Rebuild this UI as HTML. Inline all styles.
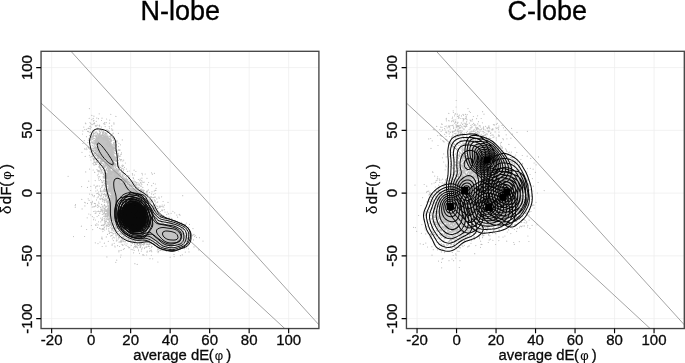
<!DOCTYPE html>
<html><head><meta charset="utf-8"><title>N-lobe / C-lobe</title>
<style>
html,body{margin:0;padding:0;background:#fff;}
svg{display:block;}
text{font-family:"Liberation Sans", Arial, Helvetica, sans-serif;fill:#0a0a0a;stroke:#0a0a0a;stroke-width:0.3px;}
.tk{font-size:15px;}
.ax{font-size:14.85px;}
.ph{font-size:13px;stroke-width:0.1px;}
.dl{stroke-width:0.1px;}
.ti{font-size:27px;fill:#000;stroke:#000;stroke-width:0.35px;}
</style></head><body>
<svg width="685" height="363" viewBox="0 0 685 363">
<defs><clipPath id="clip"><rect x="41.0" y="51.3" width="277.8" height="277.2"/></clipPath></defs>
<rect width="685" height="363" fill="#fff"/>
<g transform="translate(0.0,0)">
<path d="M51.65,51.3V328.6M91.15,51.3V328.6M130.65,51.3V328.6M170.15,51.3V328.6M209.65,51.3V328.6M249.15,51.3V328.6M288.65,51.3V328.6M41.0,318.63H318.9M41.0,255.87H318.9M41.0,193.10H318.9M41.0,130.33H318.9M41.0,67.57H318.9" stroke="#ececec" stroke-width="0.7" fill="none"/>
<g clip-path="url(#clip)">
<path d="M98 136 100 135.6 102 136.7 104 137.1 106 136.8 108 137.8 108.6 139 109 140.3 109.7 142 110.6 144 111.4 145 112.6 146 113.5 147 113.5 149 113.1 151 113 153 113.1 155 114 156.5 115 157.4 115.7 159 115 160.4 113 160.6 111.1 161 112 162 114 162.3 115 163.7 115.2 165 114.5 166 113 166.8 111 167.7 110.1 169 110.5 171 112 171.1 114 170.4 116 170.5 117.1 171 116.9 173 118 173.5 119.4 174 119 175.7 118.7 177 119.8 179 121 179.8 122.3 179 124 178.5 125.8 179 126.9 180 127 181.3 126 182.2 125.9 184 126.6 186 127.8 187 129 187.6 130 188.3 132 188.8 133.3 189 135 189.7 136.6 191 138 191.9 140 191.6 140.7 193 141 194.3 142 195.9 143 197.6 144 198.4 145.4 199 145.6 201 147 202.4 148 203.1 148.9 205 149 207 150 208.7 151.2 209 151.9 211 152 212.3 152.6 214 153.4 216 153.4 218 154 219.9 154.5 221 156 222.6 157.3 223 158.5 224 160 224.5 161.2 224 162.7 224 163.4 225 165 225.5 166.4 225 168 224.4 169.6 225 170.7 226 171.6 227 172.7 228 174 228.8 175.9 230 178 230.5 179.7 231 179.6 233 180.5 234 181.6 235 182.9 237 182 238.7 181 239.3 180 240.6 179.6 242 178.5 243 177 243.5 175 243.3 173.6 244 172.8 245 171.7 246 170.2 246 169 245.2 167 245.3 165 245.7 163.6 245 162.5 244 161 243.5 159 243.2 157.3 242 156.4 241 155 240.4 153 239.6 151.5 239 150 238.6 149 237.7 148 236.8 146.2 237 147 239 146 240 144 240.4 143.5 239 144 237.6 144 236.3 142.6 237 141.9 238 141 238.7 139 238.9 138 237.2 137 236.6 135.6 237 136 238.5 136.5 240 135 240.8 134.5 239 133 238.4 131 238.5 129.3 237 129 235.7 128 234.8 126 234.9 124 234.6 122.9 234 121.2 233 120.6 231 119.6 230 118.5 229 117.7 228 117 226.7 116.2 225 115.3 223 115 221.3 115.2 220 115 218.7 113 219.5 111.7 219 110.6 218 110 216.9 109 216.1 107.3 215 107.5 213 107 211 108 209.4 108.6 208 108.9 206 109.4 204 108.2 202 108.9 200 110 199.1 111.7 198 111.2 196 112 195.1 112 193.7 111 192.5 110 191.7 108.4 191 108.6 189 109.3 187 109.3 185 108.5 183 109 181.1 110 180.3 110.6 179 109 178.7 107.1 179 106 178.2 105.5 177 105.8 175 107 173.7 108.6 173 108.3 171 108.4 169 107.5 167 106 165.2 105.3 164 104.1 162 103 161.5 101.6 161 101 159 100.2 158 99 156.3 98 155 98.5 153 98 151.8 97 150.4 96.2 149 96.7 147 98 146.1 98.7 145 98 143.4 96 143.7 95.2 142 95.9 140 96.8 138 97.5 137.0ZM121 180.7 120 181.7 120.6 183 122 183.1 122 181.3Z" fill="#c3c3c3" stroke="#c3c3c3" stroke-width="0.8" fill-rule="evenodd"/><path d="M89.4 108.6h0m9.8 5.2h0m16.7 2.6h0m-5.1-2.1h0m-4.2 4.7h0m-4.6-.8h0m-3.5 .5h0m-1.7-.6h0m-2.9-1.9h0m-.7 2.2h0m-1.4-3h0m0 4.2h0m-2.6-1.3h0m-3.8 4.7h0m.4 .7h0m4.2-1.1h0m.7 1.1h0m1.2 .7h0m.4 .2h0m1.1-3.7h0m0 2.9h0m.6-3.5h0m0 3.2h0m.3 .2h0m.1-.9h0m.2 .4h0m.7 2.6h0m.7-.3h0m.3-4.2h0m.9 3.9h0m1.9 .5h0m.1 0h0m.1 0h0m.3-.6h0m1.9-4.6h0m2.3 3.1h0m.4 .4h0m.5-1.4h0m.2 1.6h0m1.4-1.6h0m3.1 .6h0m.3-3h0m2 5.7h0m2.2-3h0m.1 1.2h0m-1.2 6h0m-.7 .1h0m-.4-1.4h0m-2.2-.6h0m-.3 3.6h0m0-5.3h0m-.2 4.9h0m-.4-.5h0m-.5 .2h0m-.3-.8h0m-.9-.5h0m-1.1 .6h0m-.6 .1h0m0-3.9h0m-1.4 4.2h0m-.4 .7h0m-.4 .3h0m-.8-1h0m-.4-.4h0m-.3-3.4h0m-.4 3.6h0m0 .2h0m-.5-1.4h0m-.6 0h0m-.3-3.2h0m-.2 4.7h0m-.1-.4h0m0 1.1h0m-.2-1.2h0m-1.4-2.2h0m-.3 .7h0m-.9 0h0m-.5-2.6h0m-.1 5.6h0m-.2-5.9h0m-1 3.8h0m-.1-.3h0m-.7 1h0m-.1-.3h0m-.1 1.4h0m-.9-.1h0m-.2-1.2h0m-1.6-2.8h0m-.4-1.4h0m-.4 3h0m-.2-.7h0m-.2-2h0m-1.1 2h0m-.3 3.3h0m-.1-.1h0m-.3-3.3h0m-.6 3h0m-1.1-2h0m-1.7 .2h0m-.9-2.4h0m-1 3.9h0m-.3 3h0m4 2.7h0m3-1h0m.4-3.1h0m.3-.5h0m.6 0h0m.2 5h0m0 0h0m0-2.6h0m.1 3.3h0m.3-.9h0m.2-2.5h0m.1-.6h0m0 3.1h0m.2-1.3h0m0 1.7h0m.5-.9h0m.4 .4h0m.1-.2h0m.1 .7h0m.1-1.6h0m0-3h0m.2 4.1h0m.1-2.1h0m.1-.3h0m0-1h0m.1 0h0m.1 2.7h0m.1-.9h0m.1 .5h0m.1-.5h0m.2 .2h0m.2-2.1h0m.6-.2h0m.3 3.1h0m.2 .5h0m0-3.9h0m.4 3.7h0m0-1.6h0m.2 .7h0m.2 2.3h0m0 0h0m.1-.3h0m.1 0h0m.1-1.3h0m.1 .1h0m.1-4.2h0m.2 1.3h0m0 1.5h0m.3-.2h0m.2-1.5h0m0 .1h0m0 1.5h0m.3-.5h0m.3 1.4h0m.1-.5h0m.1 2h0m.2-1.2h0m.2-1.3h0m.1 3h0m.2-2h0m.1-2.2h0m.2-.3h0m0 3.4h0m.1-.2h0m.2-.6h0m.1-1.5h0m.1-.9h0m.2 3.5h0m0-1.4h0m0 .4h0m.1-1.3h0m.1-2.1h0m.2 4.1h0m.1-3.7h0m.3-1h0m.1 3.1h0m.6 .7h0m0 1.4h0m.1 .3h0m.3-2.4h0m0 2.7h0m.2-2h0m0 1.8h0m.2-3.3h0m0 1.1h0m0 .6h0m.2-.4h0m.1-3.2h0m0 .8h0m.2 1.2h0m0-.6h0m.1-1.3h0m.1 2.3h0m.3 0h0m.2 .9h0m.1-2.5h0m0 3.6h0m.1 .4h0m.1-4.4h0m.3 2.5h0m0-3h0m.2 5.6h0m0-2h0m.1-1.8h0m0 2.8h0m.1 .1h0m.3-.4h0m.1 .1h0m.2-2.2h0m.3-1.4h0m0 2.2h0m0-2.6h0m.2 .2h0m0 1h0m.1 2.3h0m.2 .1h0m.1-2.9h0m.1 3.5h0m.1 1h0m.4-1.2h0m.1-3.1h0m0 1.4h0m.2 .6h0m0-1.2h0m.1 1.2h0m.2 0h0m.2-3.1h0m0 3.8h0m.5 1.2h0m.1-.9h0m.2-.5h0m.1 1.6h0m.5 .2h0m.7-1.6h0m.2-2.8h0m.7 3.1h0m.1-1.3h0m.3 2.4h0m.3-.9h0m0-1.2h0m1.4 1.9h0m.1-2.7h0m.1 1.1h0m.3-2.4h0m.1-.3h0m0-.2h0m.2 4.7h0m.4-.9h0m4.7-3.5h0m3.9 6.6h0m-3.4 3.4h0m-1.9-1.5h0m-.1-1.1h0m-.5 .9h0m-.8 1.1h0m-.3-.2h0m-.6-.5h0m-.7-2.9h0m-.1 .2h0m0 3.6h0m0-2.8h0m-.1 3.3h0m-.1-3.1h0m-.2 2.6h0m-.3-4.7h0m-.3 0h0m-1 2.2h0m-.5 .3h0m-.1 3h0m0-2.4h0m-.1-1.6h0m-.3 1.2h0m-.1-2.7h0m0 4.5h0m-.1-2.5h0m0 .2h0m-.2 .4h0m0 2.9h0m0-2.1h0m-.1-3.1h0m-.1 4.7h0m-.1-3.9h0m-.3 .2h0m-.1 1.9h0m-.2 1.5h0m0 .2h0m0-4.8h0m-.1 .8h0m0 4.6h0m0-1.7h0m-.4-2.1h0m-.3 3.1h0m0 .1h0m-.1-4.8h0m-.1 3.9h0m-.1-1.6h0m-.3-2.2h0m-.2 0h0m0 3.9h0m-.2 .2h0m0-1.2h0m-.1-1.5h0m-.2 1.1h0m-.1-1.5h0m0 1h0m-.1 3.2h0m-.3-4.2h0m0-1.1h0m-.2 1h0m-.1 4.2h0m0-.2h0m-.2-2.8h0m-.2-2.2h0m-.4 .6h0m0 1.6h0m-.2-1.2h0m-.1 .3h0m-.2-.3h0m0-.8h0m-.1 .2h0m0 0h0m-.1 .8h0m-1.3 .5h0m0-.2h0m-.2-.2h0m0 .4h0m-.4-1.7h0m-.4 .4h0m-3.4-.7h0m-1 .6h0m-.1 4.8h0m-.1-1.6h0m0-.1h0m-.1-3.4h0m-.4-.2h0m-.1 4.2h0m-.2-2.4h0m-.1 2.1h0m0 .8h0m-.1-3.1h0m-.2-1.6h0m-.1 4.8h0m-.1-2.7h0m-.2-2.1h0m0 4.8h0m-.1-1.8h0m-.1 .1h0m0 2.3h0m-.2-4.7h0m-.3 2.1h0m0 1.6h0m-.1 1.1h0m0-1.9h0m-.2 2.2h0m-.1-4.4h0m0 .4h0m0 1.9h0m-.1 0h0m-.3 1.1h0m-.3-4.3h0m-.2 3.4h0m0-3.4h0m0 3.7h0m-.3-1.6h0m0 2.8h0m-.3-3h0m-.2 .1h0m-.1 3.2h0m0-1.9h0m-.2-3.3h0m-.3 .2h0m-.1 .2h0m-.1 3.3h0m-.1 1h0m-.1 .3h0m0 .1h0m-.1-.5h0m0-.2h0m-.3-.9h0m-.2-2.5h0m-.2 2.4h0m0-3.5h0m-.2 .8h0m-.1 2.5h0m-.1-2.7h0m-.4 3.2h0m-.4-1.7h0m-.2-.4h0m-.3-.7h0m-.1 3.7h0m-.7-4.4h0m-.6-.3h0m-.7 1.7h0m-.4 2.4h0m-3.6-2h0m-1.4 2.9h0m1.7 5.3h0m.5 .4h0m1.5-1.1h0m.3 1.5h0m1.2-2.5h0m.7 1.1h0m.2-.6h0m.8 1.6h0m.5-.5h0m.3 .7h0m.2-.3h0m.3-.3h0m1.3-3.1h0m.3 2.4h0m.4 1.1h0m.6-.9h0m.1-1.6h0m.3 1.4h0m.1-2.7h0m.5-1.2h0m.1 3.4h0m0 1.6h0m.1-1.4h0m.3-1.5h0m.1 1.5h0m0 .8h0m.3-.5h0m.2-2h0m.1 1.4h0m0-3.3h0m.3 3.5h0m.3-3.6h0m.2 .9h0m0 2.7h0m0-2.6h0m.4 2.3h0m0-.3h0m0 1.3h0m.1 .8h0m0-4.9h0m0 2.9h0m.3 .7h0m.2-.7h0m.1 2.7h0m.1-5.6h0m.1 5.6h0m.6-4.3h0m.1-1.3h0m7.7 .4h0m.1-.2h0m.3-.2h0m.8 .4h0m.3 .1h0m.2 1.4h0m.6 .3h0m.5 0h0m0-2h0m.4 1.1h0m0 .3h0m.1-1.6h0m.1 1h0m.6-.2h0m.1 1.1h0m.3-2h0m0 1.9h0m.1-1.5h0m0 .4h0m.4 1.6h0m.1 .7h0m.1-1.1h0m0-2.2h0m0 2.5h0m.2-.7h0m.1 4.1h0m.1-.4h0m.1-.6h0m.5-1.6h0m.2-2.6h0m0 2.7h0m0 1h0m.3-1.7h0m0-.9h0m.1 1.7h0m.1-.4h0m0 1.5h0m0 .9h0m.2 0h0m.1-1.6h0m0-3h0m.2 4.3h0m.1-4.5h0m0 4.2h0m.1-4h0m0 3h0m.5-.8h0m.2-1.8h0m.2 2.6h0m0-.7h0m0-3.1h0m.1 1.6h0m0 3.2h0m.5-.7h0m.1-2.9h0m0 1.3h0m.2-.9h0m.2 4.1h0m.3-5.2h0m.1 5h0m2.2-3h0m.5 3.1h0m1.4-4.9h0m1.1 8h0m-.3 1.5h0m-.3 .1h0m-.8-4.4h0m-.8 .5h0m-.4 4.8h0m-.5-.5h0m-.2-4.6h0m0 3.1h0m0 .2h0m-.2-.2h0m-1-2.1h0m-.2 3.7h0m-.2-.8h0m-.1-1.4h0m-.6 .7h0m-.1-3.2h0m-.1 .9h0m-.1 2.5h0m-.5-2.7h0m-.1-.3h0m-.1 .3h0m-.4 1.9h0m-.2 3h0m0-2.4h0m-.1 .3h0m-.1-2.7h0m0-.4h0m-.2 3.1h0m0-1.4h0m-.3 2.4h0m0-2.3h0m-.1 1.4h0m-.2-2.8h0m0 3.5h0m-.1-3.2h0m-.2 .7h0m-.3 2.5h0m-.2-1.3h0m-.1-.3h0m0-2.1h0m-.3 3.9h0m0-.4h0m0-2.7h0m-.1 2h0m-.3 .4h0m0 .2h0m-.2-3.5h0m-.1 1.3h0m-.1 1.9h0m-.2-1.1h0m0-2.5h0m-.1 .7h0m0 .5h0m-.3-1.4h0m0 3.6h0m-.1-1.5h0m0 2h0m-.4 .6h0m-1.2-.2h0m-.1 .8h0m-.1-.4h0m-1.4-.1h0m-.4 .5h0m-.5 .2h0m-2 .3h0m-5.3-.7h0m0 .2h0m-.1-.7h0m-.4-2.3h0m-.1 1.2h0m-.2 1.8h0m-.1-.7h0m-.1-.1h0m-.2 .4h0m0-3.8h0m-.1-.7h0m-.4 .8h0m0 2.5h0m-.3 2.1h0m-.1-2.9h0m0 2.7h0m0-3.6h0m-.1 3.6h0m-.6-4.4h0m0-1.3h0m-.1 4h0m-.3-1.7h0m-.1 1.1h0m0-2.6h0m-.2 2.7h0m-.1 2.1h0m-.1-3.1h0m0 3h0m0-5.5h0m-.2 1.1h0m-.2 4.1h0m-.2-4.1h0m-.1 3.7h0m-.3-1.1h0m-.4-3.2h0m-.2 3.1h0m-.7-3.1h0m-.1 3.6h0m-.3-3.9h0m0 4.6h0m-.5-2.9h0m-2.2 0h0m-.7 3.4h0m-7.4-3h0m3.2 4.1h0m5 .7h0m.7 2.9h0m.7-3.4h0m.7-.3h0m.4-.3h0m.1 2h0m.7 1.2h0m.3 .9h0m.1-1.7h0m.5 1.4h0m.1-2.4h0m.2 4.5h0m.1-3.5h0m.6 1h0m.9-3.4h0m.1 5.2h0m.4-.3h0m.1-2.2h0m.1 1.3h0m.6-2.3h0m0 3.1h0m.2 .3h0m.1-4.7h0m.1 3.8h0m.1-1.9h0m.3 2.2h0m0-2.6h0m.1 .7h0m.1-1.3h0m.5-1.2h0m.5 2.7h0m.5 1.8h0m0-2.3h0m.3 3.6h0m.1-3.9h0m.1 3.3h0m.1-3.7h0m0 1.5h0m.1 2.4h0m.2-3.3h0m0 2.7h0m.1-3h0m.1-1.3h0m0 .3h0m.1 1.1h0m0 3.8h0m0-4.8h0m0 1.6h0m0-1.5h0m.5 .1h0m.1 4h0m0-1.4h0m.1-2.8h0m.1 .8h0m.3 3.3h0m.1-2.1h0m0 .4h0m0 2.1h0m.1-1h0m.1 .7h0m0-4.3h0m.1-.1h0m0 2.4h0m.2-.9h0m.1-.5h0m0-.3h0m.3 4h0m.1-.8h0m.8-4.1h0m.1 4.5h0m.6-4.1h0m.1-.7h0m0 .8h0m.1 4.6h0m.2-5.4h0m.2 1.2h0m.3-1.1h0m1 1h0m.2-1.1h0m1.2 1h0m0-.5h0m.3 .6h0m.2-.9h0m.3 0h0m.2-.5h0m.2 .9h0m.2 4.6h0m.1-4.3h0m.2 4.3h0m.1 .3h0m.1-.9h0m0-.1h0m.2-2.5h0m.2-.2h0m.1 .1h0m.1-2.2h0m.3 .8h0m0 .6h0m.1 .4h0m0 2.2h0m.1-2h0m.1 1h0m.2-1.8h0m.2 1.6h0m.1-2.7h0m.2 2.5h0m.2 .3h0m0-.4h0m.1-.2h0m0-2h0m0 1.9h0m.2-2h0m0 .1h0m0 2.8h0m.1-.4h0m0 0h0m.2 2.6h0m.2-3.4h0m0 2.3h0m.1-1h0m0-3.2h0m0 2.1h0m.2 .9h0m.1 .1h0m0-2h0m0 4.3h0m.1-.5h0m.1-3.9h0m0 2.7h0m.4-3.5h0m0 1.9h0m0 2.1h0m.4-1.8h0m.1-2.2h0m.1 2.8h0m0 0h0m.2-1.3h0m.2 1.2h0m0 2.2h0m0-.6h0m.1-2.8h0m.1 .5h0m0 2.3h0m0-3.2h0m.1 2.8h0m.3 .3h0m.1-.2h0m0-3.3h0m.3 4.4h0m.1-4.1h0m0 3.8h0m.1-3.2h0m.2 3h0m.3-.7h0m.5-.7h0m.1-1.4h0m0 .1h0m.5-1.9h0m.2 1.1h0m.4-1.1h0m0 4.1h0m1-3.8h0m0 2.4h0m1 .8h0m.1-3.7h0m.3 4.8h0m.7-1.2h0m1.2 1.4h0m.9-.9h0m1.7 2.9h0m-.9 4.4h0m-1.2-1.8h0m-.6-.5h0m-.1 1.4h0m-.8-.7h0m-1.4 1.5h0m-1-.2h0m-.2-.3h0m-.2-1.6h0m-.6-2h0m-.1 3.6h0m-.2 .4h0m0-3.2h0m-.2-1.9h0m-.4 4.2h0m0-.2h0m-.1-.4h0m-.3-1.7h0m-.3 2.1h0m-.8-2.1h0m-.6 3.1h0m0-2.2h0m0 2.5h0m0-2.1h0m-.2-1.4h0m0 2.5h0m-.1 1.4h0m-.3-4h0m0-.6h0m-.1 1.9h0m-.3-1.4h0m-.2-.6h0m-.1 1.6h0m0-.7h0m0 .6h0m-.1-.7h0m0-.5h0m-.2 1.6h0m-.1-.3h0m0 2.2h0m0 .2h0m0-.6h0m-.1-3.7h0m0 1.3h0m-.2-2h0m-.1 4.8h0m-.1-3h0m0-.4h0m-.1 1.4h0m0-2.4h0m-.1 1.6h0m0 3.4h0m-.1-3.4h0m-.2-1.7h0m-.2 4.4h0m-.1-2.8h0m0 1.5h0m0 1.2h0m-.1-4.4h0m-.1 3.9h0m-.1-.7h0m-.1-1.5h0m0 1.7h0m-.1-1h0m-.1-1.1h0m-.4 3h0m0-.4h0m0-3.1h0m-.1 3.4h0m0-2.4h0m-.2 3.4h0m-.1-1.5h0m-.2-3.9h0m0 1.3h0m0 0h0m-.2-.2h0m-.1 3h0m-.3-2.9h0m0 .4h0m0 3.9h0m0-.1h0m-.2-4.5h0m0 2.5h0m0-3h0m-.1 .8h0m-.1 1.1h0m0-1.6h0m-.1-.3h0m-.2 4.3h0m-.3-2.4h0m-.1 2.9h0m0-1.5h0m-.4 1.3h0m0 .2h0m0-3.8h0m-.1 3.9h0m-.4-4.8h0m-.3 4.3h0m0-2h0m-.1 2.9h0m0-2.1h0m0-1.7h0m-.1 .6h0m-.1-.1h0m0 3h0m-.1-1.6h0m-.1-3.4h0m0 5h0m-.2-.4h0m-.2-4.1h0m-.2 .6h0m0 2h0m-.1-3h0m-.2 3h0m-.1-2h0m0 0h0m-.3-1h0m-.2 1.2h0m-.2 1.4h0m0 1.7h0m-.1-1.5h0m0-.4h0m-.1 2h0m-.1-2.5h0m-.1-1h0m-.1 0h0m-.2 3.7h0m-.2-4.2h0m0 2.2h0m-.1 .8h0m-.3 .4h0m-.1-.2h0m-.4-1.7h0m-.2 2.3h0m-.2 .3h0m-.1-3h0m0 .5h0m-.1 1.8h0m-.1-2.6h0m0 1.9h0m-.5-2.4h0m-.3 4h0m-.2-1.9h0m-.5-3h0m-.1 1.2h0m-.1-1.5h0m-.3 1.5h0m-.2-1.3h0m-.2 1.1h0m-.2 .1h0m-.3 4.2h0m-.1-4.6h0m0 1.1h0m-.2 1.2h0m0 .7h0m-.1-4h0m-.2 5.5h0m-.1-2.3h0m-.1-.1h0m0 1.1h0m-.1-3h0m-.3 1.1h0m-.4 2.5h0m-1.1-4.2h0m-1 1.7h0m0 .1h0m-.1-.2h0m-.3-2h0m-.6 2.2h0m0-1.3h0m-.8-.7h0m-.1 2.5h0m-.1-2.7h0m-.9-.2h0m0 2.7h0m-.6-1.3h0m-.1 .1h0m-7.3 8.3h0m3.9-2.8h0m3.6 .9h0m1.4 2.3h0m.2 0h0m2.2-2.7h0m.5 1.3h0m.9-.2h0m.3 1h0m.8-.9h0m.7 1.1h0m0-3.2h0m.5 1h0m.2-1.7h0m.1 5.5h0m.2-3.7h0m.1 .8h0m.4-.2h0m.2 2.3h0m0-1.2h0m.2-2h0m.6 3.3h0m.8-4.7h0m0 .5h0m.3 2h0m0 3.2h0m.3-5.5h0m.1-.3h0m.1 .1h0m.1 4.6h0m0 0h0m.1 .1h0m.2 0h0m0-.5h0m.1 1.5h0m.1-1.7h0m.1-.4h0m.1 1.1h0m.6-2.1h0m0-.7h0m.5 3.3h0m.1-4.2h0m0 4.1h0m.3-3.1h0m.1-1.5h0m.2 4.8h0m0-3.5h0m.1 3.6h0m.2 .2h0m.2-1.9h0m.1-1h0m.3-2.2h0m.3 4.9h0m.1-.9h0m0-1.2h0m0-.3h0m.2 .8h0m0-2.1h0m0-1.8h0m.2 4.9h0m0-.3h0m.2-3.4h0m.1 2.1h0m0-.9h0m0 0h0m0 .6h0m0-1h0m.3 1.3h0m.3 2.6h0m.1-5.2h0m.1-.1h0m0 2.3h0m0-.6h0m.4-1.9h0m0 4h0m0 .7h0m0 .6h0m0-.2h0m.1-2.8h0m.1-.4h0m.2-1.8h0m.3 2.6h0m.2-2.7h0m.1 3.4h0m.1 1.8h0m.2-5.6h0m0 4.4h0m.2-.9h0m.2 1.4h0m.1-.6h0m0-4.2h0m.2 2h0m.1 2.3h0m.1-.1h0m.3-3.2h0m.1 2.7h0m.3-.1h0m.2 .7h0m.1 0h0m.1-.5h0m0-3.5h0m.1 2.2h0m.1-1.9h0m.2 1.2h0m.1 2.5h0m.2-2.4h0m0 1.5h0m.2 .9h0m0-3.5h0m.3 4.9h0m0 0h0m.1-.8h0m.1-1.5h0m0-.3h0m0 1.8h0m.1 .7h0m0-2.8h0m.2-1.2h0m.1 1.5h0m0 2.2h0m.2-1.8h0m0 .9h0m.1-2.5h0m.5 1.1h0m.2 .2h0m.1-3h0m0 .9h0m.1 1.7h0m.1 1.7h0m0 1.2h0m.4-2.6h0m.1-1.1h0m.1-1.2h0m.2 3.4h0m.1 1.1h0m.1-2.2h0m.3-.6h0m.2 2.8h0m0 .2h0m.1-1.3h0m.1-2h0m0 .7h0m0-1.3h0m.2 1.2h0m.1-1.3h0m0 3.4h0m0-1.8h0m1 2.5h0m.1-2.9h0m.1 2.1h0m.1 .3h0m.2 .3h0m.2-.5h0m0 .3h0m.8-3h0m.1 2.5h0m.1-3.1h0m.2-.1h0m.3-1.4h0m.7 3.6h0m.5-3.3h0m.4 2.2h0m.1 1.7h0m0 1.5h0m.4-4.6h0m.5 4.2h0m2.1-4.5h0m1 2.3h0m1.8-.3h0m3.2 2.6h0m1.7-3.4h0m1.8 1.3h0m6.1 1.9h0m9.5-.6h0m2.9 .5h0m-2 .9h0m-5.4 4.1h0m-1.8-4.3h0m-2.8 .8h0m-.5 3.4h0m-1.7 1h0m-1.8 .3h0m-4-4.5h0m-1 3.4h0m-.2-.7h0m-.6-2.8h0m-3.4 2.4h0m-.3-1.6h0m-.3 2.8h0m-.3-1.6h0m-.4 2.4h0m-.5 .3h0m-.1-4.1h0m-.1 4.4h0m-.6-.4h0m-.1-1h0m-.1-1.7h0m-.3 .3h0m-.1 2h0m-.1 .6h0m0-.3h0m0-3h0m-.1-2.4h0m0 0h0m0 4.6h0m-.9 1.1h0m-.1-.4h0m0 .4h0m-.3-.1h0m-.1 .3h0m-.1-4.8h0m0 4.3h0m-.2-3.8h0m0 2.1h0m-.1 2h0m0-1.2h0m-.2 1h0m0-.6h0m-.1 .3h0m-.4-.7h0m-.1-1.3h0m-.2 1.6h0m0-2.4h0m-.1-2.4h0m-.1 3h0m-.1 2.3h0m-.2-4.1h0m-.3 .9h0m-.1 3.8h0m0 0h0m-.1-1.4h0m0 1.3h0m-.1-2h0m-.1-1.1h0m-.1 2.9h0m-.4 0h0m-.2-4.7h0m-.5 4.8h0m0-2.6h0m0-1h0m-.1 3h0m-.1-2.5h0m-.1-2h0m-.1 2.2h0m-.2-2.8h0m-.1 1.6h0m-.3 1h0m-.1 .2h0m0-2h0m-.1-.5h0m0-.3h0m-.1 .9h0m-.1 4.9h0m0-.2h0m-.1-2.7h0m0 2.7h0m-.3-.5h0m-.3-1.9h0m0-1.8h0m-.1-.2h0m-.1-.3h0m-.1 3.3h0m-.1-3.1h0m-.1-.3h0m0 1.4h0m-.4 .8h0m-.3-1h0m-.4 0h0m-.5-1.5h0m-.2 1.3h0m-.3-1.5h0m0-.3h0m-.1 2.8h0m0-2.3h0m-.1 2.8h0m0-2.2h0m-.5 2.2h0m0-.3h0m0-.3h0m-.6-.5h0m0-.8h0m-.1 1.2h0m-2.1 1h0m-.5 .5h0m-.4 .5h0m-.1-4.1h0m-.4 5.3h0m-.1-5.5h0m0 2.8h0m-.3 .2h0m-.3 2.5h0m-.5-5.6h0m0 2.5h0m-.1 1.1h0m-.4 1.2h0m-.2-1.6h0m0 2.2h0m-.4-2.2h0m0 .6h0m-.2 .5h0m-.2 .2h0m-.1 1.1h0m0-5h0m-.2 .6h0m0 3.4h0m-.2-1.6h0m-.1 1.2h0m0 .7h0m-.1-.7h0m-.1-.7h0m0-3.1h0m-.1 0h0m0 .4h0m-.1-.1h0m0 2.3h0m0 .3h0m0 1.3h0m-.2-3.1h0m-.1 2h0m-.1-1.2h0m-.1 .2h0m-.1 .4h0m-.3-.4h0m-.1-.6h0m-.3 1.9h0m-.1-1.8h0m-.1 2.5h0m0-1.5h0m0 .7h0m0-.8h0m-.1 2.1h0m-.1 .3h0m-.5-3.4h0m-.2-2.1h0m-.2 3h0m0 1.2h0m-.2-3h0m0 .9h0m-.4 1.8h0m-.2-.7h0m-.3-2.6h0m-.2-.6h0m-.2 2.4h0m0 1.4h0m-2.7 1.6h0m-.7-2.9h0m-.1 .3h0m-1.1 2h0m-.1-4.8h0m-.2 2.9h0m-.9-1.8h0m-29.3 1.2h0m20.6 4.9h0m5.4 4h0m1.1-4.6h0m2.5 5.3h0m1.4-5.4h0m2.4 .2h0m.5 1.6h0m.1 3.2h0m.6 .2h0m.1-3h0m.3-1.5h0m.1 3.6h0m.7-4.3h0m.7 2.5h0m.4-2h0m0 4h0m0-1.7h0m0 2.4h0m.1-2.3h0m.1-2.6h0m.2 .1h0m.3 3.1h0m.2 .1h0m.1-2.4h0m.1 2.1h0m0-.1h0m.2-2.5h0m.1 4.5h0m0-1.2h0m.5-1.7h0m.2-.8h0m.1-.8h0m0 3.2h0m0-1.7h0m.5 .2h0m.1 .8h0m.1-3h0m0 .9h0m.4 2.5h0m.1-1h0m.2 .9h0m0-2.1h0m.2 1.1h0m0 2.9h0m0-4.8h0m.2 3.8h0m0-3.5h0m0 .9h0m0-1.3h0m.3 .1h0m.3 4.6h0m.1-2.2h0m.1-.2h0m.6-1h0m0 2.2h0m0-.7h0m.1-2.6h0m.4-1h0m.2 1.1h0m.1 .4h0m.1-.2h0m7.4 1.7h0m.1 0h0m.1-1.4h0m.2-.1h0m.2 .3h0m.2-.8h0m.1 3h0m.2-3.6h0m.2 3.1h0m0-2h0m.1-1.7h0m.1 3.7h0m.2 .1h0m.2 .2h0m.2-3.4h0m0 .2h0m.1 2.3h0m.2-2.9h0m.7 3.2h0m0-2.2h0m.2-.7h0m.4 2.3h0m.1 1.2h0m.2-.8h0m.1-1.5h0m.2 .9h0m.3-1.3h0m.2 3.1h0m.2-3.3h0m.1 1.7h0m.2-1.7h0m.2 1.9h0m.2-2.4h0m0 1.2h0m.2 1.7h0m.2 .1h0m0 1.6h0m0-1h0m.1-.7h0m0-1.1h0m.1 .5h0m.1 1.9h0m0-4h0m0 4.7h0m.1-4.9h0m0 0h0m.2 1h0m0 4.3h0m.2-5.9h0m.5 5.3h0m0-.2h0m.1-3.6h0m.1-.5h0m.4-.1h0m.2 4.3h0m.1 .1h0m.2-3h0m.1 2.3h0m0-1h0m.1-2.6h0m.4 1h0m.1-.4h0m0-.2h0m.1 2.5h0m0-2.4h0m.1 .1h0m.3 .6h0m0-.4h0m0 3.3h0m.3-4h0m.3 1.3h0m.3 2.3h0m.6-1.1h0m0 2.3h0m0-5.8h0m0 5.2h0m0-2.1h0m.1-1h0m.1 2.9h0m.2 .6h0m.1-1.7h0m.2 1.8h0m.1-4.8h0m.6 3.3h0m.1 1.1h0m.7-4.5h0m0 2.6h0m.1-.9h0m.5 2.8h0m.1-2.9h0m.1 1.3h0m.5 .8h0m.2-2.7h0m.5-1.9h0m.4 3.9h0m.1-2.1h0m.5 3.8h0m.5-3.8h0m.1 2.9h0m.3 .5h0m0-2.2h0m.2-.4h0m.5 .5h0m.1 1.8h0m.2-2.3h0m1.1 2.1h0m.2-1.7h0m.9 2.5h0m.4-1.3h0m.3-3.5h0m.6 2h0m.7 .5h0m.5-2.5h0m.1 3.8h0m.5-2.4h0m1.4 .2h0m.4-.1h0m3.4 2.5h0m1.1-2.2h0m3.1 3.2h0m1.7-2.4h0m2 .7h0m.7 4.4h0m-.2 1.9h0m-.7 .1h0m-1 .7h0m-2.2 .7h0m-3.6-1.9h0m-1.1 2h0m0-1h0m-.8 .5h0m-2.3-.9h0m-.5-.4h0m0 1.8h0m-.3-.7h0m-.6-3.8h0m-.3 2.9h0m-.7-1.1h0m-.1 .9h0m-.3 1.1h0m-.1 .2h0m0-5.2h0m-.1 4.3h0m-.2-.2h0m-.1-.1h0m-.2 .9h0m-.2-1.8h0m0 2.4h0m-.1 .1h0m0-1.6h0m0-4.2h0m-.4 3.8h0m-.9-2h0m-.3 2.2h0m-.1-2.7h0m-.2 2.8h0m-.2-1h0m-.2-.8h0m-.1 2.3h0m0-1.2h0m-.1 1.4h0m-.2 1.1h0m-.3-3h0m-.1 3h0m-.2-3.3h0m0-1.3h0m-.2-.5h0m-.1 3.4h0m-.2-.6h0m-.5 1.5h0m-.2-3.6h0m-.1 3.5h0m0-4h0m-.1 3.4h0m-.1-2.1h0m0 3.2h0m-.1-1.1h0m-.1 .1h0m-.1-2.1h0m-.2-1.6h0m0 2.7h0m0-2.5h0m-.1 4h0m-.2-1.2h0m0 .5h0m-.3 .1h0m-.1-1.1h0m-.1 1.6h0m0 .4h0m-.5-3.1h0m-.3 3.6h0m0-2.8h0m-.1-2.4h0m-.1 2.7h0m0 .5h0m-.2 1h0m-.1-.1h0m0 .4h0m-.1-4.7h0m-.1 2.3h0m0 1.2h0m-.1 .8h0m-.2-.2h0m0-.3h0m-.7-1.6h0m-.1-2.6h0m0 3.1h0m-.1 .4h0m-.1 .9h0m-.1-3.6h0m0 0h0m-.2 .2h0m-.2 1.9h0m-.4 .2h0m-.3-.9h0m-1-1.8h0m0 1.7h0m-.3-.6h0m-.7-.4h0m-.2 .2h0m-.4 1h0m-.2-1.1h0m0 1.1h0m-.3-1.7h0m-.3 .7h0m0 .9h0m-.5-.6h0m-.2-1.4h0m-.5 1.9h0m-.1-.7h0m-.6 .7h0m-.2-.6h0m-.1 .5h0m-12.2-.1h0m-.5 2h0m-.1-1h0m-.1 1.1h0m-.3-1.5h0m-.1 3.4h0m-.2-1.7h0m0-3.4h0m0 .4h0m-.1 1.1h0m-.1-1.7h0m-.3 4.8h0m-.1-4.4h0m-.1 2.6h0m0-.8h0m0 1.5h0m0-2.7h0m0 3.3h0m0-4.1h0m-.1 3h0m-.1-.7h0m0-1.7h0m0 .4h0m-.3 2.1h0m0 1.1h0m-.1 .2h0m-.5 .1h0m-.3-3.4h0m-.1-1.2h0m-.2-.3h0m0 1.4h0m0 1.6h0m0-.8h0m-.3 .1h0m0 2.4h0m-.4-.3h0m0-.2h0m-.1 .3h0m-.1-.6h0m0 1.1h0m-.1-2h0m-.3 .9h0m-.1 1.1h0m-.2-2.3h0m-.1-2.5h0m-.2 .2h0m0-.2h0m-.1 .6h0m-.3 3.4h0m0-3.3h0m-.5 3.9h0m-.1-.7h0m-.1-3.9h0m0 5h0m0-4.6h0m-.3 2.7h0m-.9 .5h0m0-.9h0m0 .1h0m-.1 2.1h0m0-3.3h0m-.1 1.6h0m-.4-.2h0m-.8 1h0m0 .4h0m-.2 .7h0m-1-4.9h0m-.4 .7h0m-.4 4h0m-.3 .2h0m-.2-.8h0m-.1-.7h0m-.2-1.5h0m-.1 2.6h0m-.8-5.3h0m-2.2 4.1h0m-.5-3.9h0m-1 4.8h0m-.1-4.2h0m-.1 1.2h0m-4.8-1.7h0m-.1 4.2h0m-3.2-3.1h0m-5.9-.8h0m8 7.5h0m2.4 .3h0m.7 1.2h0m1.3 1.1h0m.5-1.1h0m2.3-2h0m.4 4.2h0m.7-4.4h0m.3 3.4h0m.2 .1h0m0-4.9h0m.4 2.7h0m.1-.5h0m.8 .9h0m1.1 .7h0m.2 1h0m.5-1.6h0m.4-1.1h0m0-.7h0m0 .4h0m1.4 3.7h0m.1-.7h0m0-2.2h0m.5-.2h0m.7-.7h0m.5 1h0m0 .5h0m.4 1.5h0m.2-2h0m.4 1.1h0m.6-1.7h0m.1 2h0m0-2.9h0m.1-.4h0m.1 2.4h0m0-.1h0m.4 2.2h0m.3-4.8h0m.1 1.3h0m.2 4.1h0m.1-1h0m.1-.8h0m.2 1.8h0m.1-4.8h0m.1 4.2h0m0-3h0m.1 1.4h0m0-2.8h0m.2 3.7h0m.1 .8h0m.1-2.7h0m.1 .1h0m.1 .7h0m.2-3.5h0m.3 3.6h0m.7 1h0m.2-1.1h0m0-2.3h0m.2 .2h0m0 4.5h0m0-2.2h0m.3 1.6h0m0-4.1h0m0 1.6h0m.1-2.4h0m.1 2.4h0m.2-2h0m.2 3.4h0m0-2.8h0m.1 1.5h0m.1-2.2h0m.2 1.2h0m.1 1.8h0m.1 .8h0m0-.5h0m0 0h0m.1 1.3h0m.1-3.8h0m.1 3.8h0m.6 0h0m.4-1.6h0m0-2.1h0m.4 .2h0m.2 1.7h0m0 .6h0m0-2h0m.1-.1h0m0 .8h0m21.5-2.5h0m.1-.1h0m1.1 1.2h0m1-.2h0m.7-.7h0m.1 .9h0m.3 .7h0m0-1.7h0m.1 1h0m0 .2h0m0-1h0m.2 0h0m.1 0h0m.2 0h0m.2 1.6h0m0 2.3h0m.5-.7h0m.1 .3h0m.1-3.1h0m0 1.3h0m0-2.3h0m0 2.4h0m.4-2.1h0m0 2.8h0m0 2.5h0m.3-2.9h0m0 1h0m.3 .5h0m.3-4h0m.1 4.2h0m0 0h0m.1-.6h0m.2-.8h0m.1 .6h0m.1-1.4h0m.2 3.4h0m.2-2.1h0m0-3.2h0m.2 2h0m.2 1.9h0m.1-3.2h0m.1 2.9h0m0-.8h0m.4-2.4h0m.3 2.2h0m.2 0h0m.1 .9h0m.4-2.5h0m.6 2.1h0m0 1.1h0m.3-2.2h0m0 2.9h0m0 .5h0m.3-5.7h0m.1 2.5h0m.1-1.5h0m0 4.8h0m.2-.7h0m.9-.1h0m.1-2.2h0m0-.6h0m0-.2h0m.4 1.9h0m1.4-3.4h0m.7 4h0m.3 1h0m1-.6h0m.2-3h0m.3 3.6h0m1.2 .2h0m.5-3.1h0m.6 2.8h0m.4-.4h0m.5-3.4h0m.4 3.5h0m3.4 0h0m2.7-.3h0m21.1-1.1h0m-14.7 6.7h0m-4.9-.9h0m-3.9-3.3h0m-1.5 3.7h0m-.5 .5h0m-.4-3.5h0m-1 4.1h0m-.7-2.4h0m-.1 .8h0m-.1 0h0m-.5-1.6h0m-1.7 .2h0m-1.2 .6h0m0 1.3h0m-.4-1.8h0m-.3 1.9h0m0 .7h0m-.1-.9h0m-.3-.2h0m-.2-1.7h0m-.7 .1h0m0-.1h0m-.1 1.4h0m-.1-1.8h0m-.3 .7h0m-.5-.1h0m0 1.1h0m-.1 2.5h0m-.3-.3h0m0-5.4h0m0 2.9h0m-.1-.6h0m0 1.7h0m-.2 .3h0m0 0h0m-.2-2.2h0m-.2-.3h0m-.2 3.4h0m-.3-4.6h0m-.1 1.6h0m-.2 3.1h0m0-2h0m-.1-3.1h0m0 3.3h0m0-3.1h0m-.3 1.6h0m-.3 2.7h0m0-4.4h0m-.1 5.1h0m-.2-3.2h0m-.1 .2h0m0-1.3h0m-.3 .5h0m-.3 1.1h0m0-1.4h0m-.1-.6h0m-.2 3.6h0m-.1-1.9h0m0 .1h0m-.4 .1h0m-.2-1.7h0m-.1-.8h0m-.5 1.3h0m-.4-.9h0m0 .3h0m-.1-.3h0m-.1 .6h0m-.3 0h0m-.4-.4h0m-.1 .6h0m0-.9h0m-.1 1.1h0m0-1h0m-.7-.5h0m-.6 .5h0m-27-.4h0m-.1-.1h0m-.6 .9h0m-.6-.7h0m-.7 5.2h0m0-3.1h0m0 1.8h0m-.2-1.4h0m-.3-2.1h0m-.1 1.8h0m-.1 1.2h0m0 1.7h0m-.1-5.2h0m0 2.7h0m-.3 2.8h0m-.2-2.5h0m0-1h0m-.2 .5h0m-.1-1.7h0m0 4.7h0m-.1-.3h0m-.1-3.1h0m-.1-1.4h0m0 1.2h0m-.1 .1h0m-.1-.1h0m0-.2h0m-.1 1.5h0m0 .7h0m-.1 1.4h0m0-1.4h0m-.5-.1h0m0 .6h0m0-4.4h0m-.5 .8h0m0 3.4h0m-.1-.9h0m-.1-3.1h0m0 2.3h0m-.1 3.2h0m-.1-5.5h0m-.1 2.8h0m0 1.3h0m0-4h0m-.1 5.4h0m-.1-.3h0m-.4-1.6h0m-.3-.3h0m-.2-2.1h0m-.2 2.3h0m-.1-1.6h0m0 1.9h0m-.1-.1h0m0 .1h0m-.3-3.5h0m-.1 1.5h0m-.5-.2h0m-.7 .5h0m0 1.4h0m-.3 .7h0m-.1-3.7h0m-.4 1.1h0m-.9-.6h0m-.2 1.9h0m-.1-1.6h0m-.3-1h0m-.5 0h0m-1.1 .7h0m-.2-.4h0m-.7 0h0m-.8 4.7h0m-.3-1.5h0m-2.2-2.2h0m-1.1 3.6h0m-1-.1h0m-2-2.1h0m-.3 1.1h0m-.4 1.2h0m-.9-1.1h0m-1.7-2.2h0m-.9-1.5h0m-.7 4.6h0m-2.2-.6h0m-.5-.4h0m-3-3h0m-6.6 6.1h0m.1 1.7h0m.2-2.7h0m6.6 4.4h0m2.8-3h0m6.7-1.2h0m.5 2.4h0m1.1-.3h0m1.2-.1h0m1.3-.5h0m0-1.1h0m2-.2h0m0 .5h0m.1 1.9h0m1-1.2h0m.1 .4h0m1.7 .9h0m.3 1.8h0m.6-4.9h0m.3 .2h0m.2 5.1h0m.2-1.7h0m0 1.9h0m0-3.7h0m.8 .2h0m.8 1.5h0m.1 .4h0m.3-2.6h0m.2 3.1h0m0-.4h0m.1-3.6h0m.4 4.2h0m0-3.4h0m.2 4.3h0m.1-.9h0m.1-2.7h0m.3 1.3h0m.5-.5h0m.1 2.8h0m.3-3.5h0m.5 3.5h0m.7-1.4h0m.1-3h0m0 2.7h0m0 1.5h0m0-3.3h0m.1 2.7h0m0 .2h0m0-4.9h0m.1 4.5h0m.5-2.9h0m.3 2.8h0m.2-2h0m0 1h0m.2-2.1h0m.2 .2h0m.1-1.5h0m.3 2.2h0m0 3.3h0m.1-5.2h0m.1 4.7h0m.1 .4h0m.2 .2h0m.1-5.2h0m.3 0h0m.1 .2h0m.4 5h0m0-.3h0m.2 0h0m.1-4.4h0m36.3-.5h0m.1-.5h0m.1 1.2h0m0-.5h0m0 .4h0m.2-.6h0m.1-.1h0m.2-.6h0m.3 .4h0m0 1.6h0m.2 3.7h0m0-.1h0m.2-1.1h0m.1-1.8h0m0 1.8h0m0-1.2h0m.1-2.9h0m.4 .5h0m0 4.9h0m0-2.1h0m0 2.1h0m.1-3.1h0m.2-.9h0m0 3.7h0m.4-1.1h0m0 .2h0m.2-.1h0m.3-3.5h0m.2 .2h0m0 2.7h0m.1 .7h0m.2-.4h0m.2 .2h0m0 .4h0m.1 1.1h0m.2-3.6h0m.2 2.4h0m.4 .7h0m.1-.1h0m.1-3.3h0m.1 1.7h0m.1-2h0m.2-.3h0m0 2.3h0m.2-2h0m0-.8h0m.1 1.5h0m.1 3.4h0m.1-.7h0m.4-3.9h0m0 3.3h0m.1-3.6h0m.6 2.7h0m.2 1.1h0m.2-.7h0m.2-3.2h0m.2 2.6h0m.5-1.6h0m1 .3h0m.2 .2h0m.3 2.4h0m0-2.2h0m.6 1.5h0m1.1-2h0m.3 1.1h0m.4 .4h0m.2-1.4h0m1 .4h0m1-1.5h0m.6 1.7h0m.9 .3h0m.6-1.8h0m0 4.5h0m15.7 5.5h0m-.8-.9h0m-2.4 .8h0m-2.1-2.3h0m-1.8-1.5h0m-1.8 2h0m-2.4 .5h0m-.5 0h0m-.9-1.8h0m-.6 2.7h0m-1.7-2.6h0m-1.4 3.5h0m-.5 .3h0m-.5-5.8h0m-.4 .6h0m-.5-.6h0m-.1 4.5h0m-.9 1.3h0m-.2-1.8h0m-.1-2.6h0m-1.7 1.3h0m-.7 2h0m-.1-2h0m-.5-1h0m-.5 2.6h0m-.3 .4h0m-.2-.5h0m-.1-2.9h0m-.4 2h0m-.1-2.5h0m0 3.8h0m-.5-4h0m0 4.9h0m-.2-1.7h0m0 .6h0m-.1 .4h0m0-4.8h0m-.3 4h0m-.1-1.1h0m-.7-.1h0m-.2 1.2h0m0 .1h0m0-3.4h0m-.1-.8h0m-.1 5.1h0m-.2-3.2h0m-.1 2.5h0m-.1-2.3h0m-.1 3.1h0m-.1-2.9h0m-.2-1h0m-.2 .5h0m-.1-.8h0m-.2 3.3h0m0 1.2h0m-.2-1.1h0m-.1 .3h0m0-3.5h0m-.1 3.9h0m-.2-3.6h0m-.2 1.5h0m-.1 2.5h0m0-.8h0m-.1-1.2h0m-.1-.7h0m0-1.7h0m0 2.5h0m-.1 1.5h0m0-3.8h0m-.1 2.3h0m-.3 .4h0m-.1-1.7h0m0-.4h0m-.6 .9h0m-.1-.4h0m-.2-.7h0m0-1h0m-.6-.3h0m-37.3 4.1h0m-.1 .3h0m-.1 0h0m-.2-2.4h0m0-.4h0m-.1-.1h0m-.3 3.4h0m0-3.5h0m-.1 .5h0m-.2 2.9h0m0-1.3h0m-.2 1.9h0m-.2-3.9h0m0 1.1h0m-.2-1h0m-.1 2.1h0m0-4.1h0m0 3.6h0m0 1.5h0m-.1-4.2h0m0 4.7h0m-.2-1.7h0m-.1-1.4h0m-.1 2.5h0m0-1h0m0-3.4h0m-.3 3.5h0m-.1-1.4h0m-.1 .2h0m-.1 .5h0m0 1h0m-.1-4h0m-.3 .7h0m-.2 .2h0m0 2.9h0m0 1.4h0m-.1 .1h0m-.1-4.8h0m-.1 1.8h0m-.1-2.1h0m0 3.1h0m-.1-3.2h0m0 3.7h0m0-3.7h0m-.1 5.1h0m-.1-2h0m-.2-2.8h0m-.2 1h0m0 3.6h0m-.2-4.9h0m-.2 3.1h0m-.1-1.9h0m-.3-.6h0m-.4 2.8h0m0 .8h0m0-3.2h0m-.1 2.1h0m-.2-2.6h0m0 2.9h0m-.3-.1h0m-.1 .4h0m-.1 .9h0m-.1-4.3h0m0 2.7h0m-.5-1.1h0m-.1-1.1h0m-.4-1.2h0m-.1 3.2h0m-.5 .6h0m-.5-3.1h0m-.1 1.4h0m-.5 2.1h0m-.3-3.3h0m-.9-.7h0m-.3 1.3h0m-1 .1h0m-.1 1.7h0m-1 1.9h0m-.3-3.8h0m-.1-.3h0m-1.3 .3h0m-1 1.4h0m-.8 .4h0m-.1-2.1h0m-1.4 .3h0m-3 3.3h0m-1.9-.8h0m-1.6 3.8h0m5.2-1.2h0m1.2 3.1h0m.4-1.9h0m1.5 2.2h0m1.6-3.4h0m1.4 5.2h0m2.3 0h0m0-3.6h0m.7 1.9h0m.7-.6h0m.2 0h0m.1-1.6h0m0 2.2h0m1.3-3.8h0m.4 2h0m.2 2.3h0m0-1.6h0m.5-2.9h0m.1 5.5h0m.1-5.1h0m.2 5.2h0m0-4.7h0m.3-.7h0m.2 3.6h0m.2-3.8h0m.2 2.4h0m.1 1.3h0m.1 1.6h0m.3-5.4h0m.1 .7h0m.5 .5h0m.1 1.7h0m0 .1h0m.3-2.5h0m.1 2.9h0m.1-3.2h0m.1 .4h0m.4 3.3h0m.1-1.8h0m.2 1.7h0m.4-.4h0m.2 2h0m.1-4.5h0m0 4.3h0m0-2.6h0m.3 2.6h0m.2-.6h0m0-3.3h0m.2 .9h0m0 1.8h0m.2-.1h0m0-3.1h0m.4-.6h0m.2 1.2h0m.3 1.2h0m0-1.8h0m.1 3.6h0m.1-2.3h0m0 1.2h0m0 2.2h0m0-.6h0m.1-4.1h0m.1-.5h0m.2 .4h0m0 .8h0m.2 .3h0m.1 2.5h0m.1-3.4h0m.3 .9h0m0 .7h0m0-.1h0m.4-.8h0m0-.2h0m.1 2.8h0m0 .2h0m0-1.2h0m.1-1.2h0m.1 .7h0m.1 2.1h0m.1-.6h0m.2 1.6h0m0-4h0m.1 2.7h0m.1-1.2h0m.1 2.2h0m0-1.1h0m.2 1.5h0m.2-3.5h0m.8 2h0m.1-1.3h0m.1-1h0m.3 3h0m0 .1h0m.4-.5h0m.2-1.7h0m.1 .7h0m.2 1.1h0m35-2.4h0m0 1.2h0m.2 .7h0m.1-1.2h0m0-1.9h0m0 2.6h0m.1-2.4h0m0-.5h0m.2 1.4h0m.4 1.3h0m0 .2h0m.2-3.7h0m0 1.9h0m0 1h0m.1-1.8h0m0-1h0m.1 4.7h0m.1-3.4h0m.1 3.4h0m.2-2.9h0m.3 3.3h0m.1-.9h0m.1-1.1h0m0 1.9h0m.1-4.1h0m0 3.5h0m0-2.5h0m.4-2h0m.1 4.7h0m.2-4.3h0m.1 3.1h0m.1-1.1h0m0 1.1h0m.4 0h0m.2-1h0m.6-2.3h0m0 4.7h0m.4-3.7h0m.4 .7h0m0 1.4h0m.4 .4h0m.2-1.9h0m.1 1.8h0m0 .8h0m.1-1.2h0m.1-1.9h0m.1 .2h0m.1 1.3h0m0 3h0m.3-5.8h0m.1 2.7h0m0 3.1h0m.6-.1h0m.7-5.8h0m.3 4.9h0m.2-4.3h0m.2 3.3h0m.1 1.1h0m.2-3.3h0m0-1.7h0m.3 4.5h0m.1 1h0m.6-4.7h0m.1 4.6h0m.8-4.8h0m.4 .3h0m.6-.4h0m2.3 5.3h0m.6-3.1h0m2.5-1.6h0m.9 1.3h0m1.2 3.1h0m.6-.3h0m.1-2.8h0m.1 2.1h0m5.6 1.2h0m.2-4.5h0m11.9 7.2h0m-.6 3.2h0m-.8-.6h0m-1.6-4h0m-.8 1.9h0m-.3-.6h0m-.3 3.4h0m-.4-.9h0m0 .4h0m-1.1 .5h0m-.8-.5h0m-.9 .7h0m0-3.5h0m-.4-2.1h0m-.6 5.4h0m-1.2-1.9h0m-.6-2.5h0m-.5 2.1h0m-.2-1.3h0m-.7-.4h0m0 4.1h0m-.6 0h0m-.1-1h0m-.1-.4h0m-.1-3.5h0m-.1 1.1h0m0 1h0m0 1.6h0m-.1-2.2h0m0 2.1h0m-.4 1.1h0m-.1-3.7h0m-.4 .7h0m-.2 2.1h0m-.4-1.5h0m-.2-2.9h0m0-.2h0m-.1 5.2h0m0 .1h0m-.3-2.7h0m-.1 2.1h0m-.2-.5h0m-.2-.7h0m0-1.4h0m-.6 .5h0m-.1 1h0m-.3-3.7h0m-.7 3.1h0m-.6 .1h0m-.4 2.1h0m-.1-4.6h0m0 .6h0m-.1 4h0m0-.2h0m-.1-2.3h0m-.1 .5h0m-.3 2.2h0m-.3-2.7h0m-.4-.7h0m0 2.8h0m-.1-.7h0m-.1-.2h0m-.1-4h0m-.2 4.2h0m-.3 0h0m0-2.1h0m0-1.3h0m-.2 3h0m-.2 .6h0m-.1-2.2h0m-.4 .2h0m-.1 .7h0m-.1 .2h0m-.4-.2h0m0-2h0m-.1-.4h0m-.1 3.6h0m-.1-2.3h0m-.5 .1h0m-.3 1h0m-.3 .2h0m-.1 .3h0m0-3.3h0m0 4.3h0m-.5 .4h0m0-2.5h0m0 2.3h0m0 .4h0m-.2-1.6h0m-.1 1.7h0m0-.5h0m-.1-.7h0m-.2-.5h0m-.1 .9h0m-.4-4h0m-.4 4.2h0m0-.6h0m-.3-1.8h0m-.2 .9h0m0-1.5h0m-.1 1.4h0m0-1.1h0m-.1 3.1h0m0-2h0m-.4-.4h0m-.1 2.7h0m-.1-3.3h0m-.2 .5h0m0-1.1h0m-.1 .2h0m-.2-1.1h0m-.1 0h0m-.1 2.8h0m0-1.8h0m0-.2h0m-.2-.5h0m0 2.1h0m-.1 2.4h0m-.3-5.3h0m-.2 3.4h0m-.3-.5h0m0 2.1h0m0-4.1h0m-.1 1.2h0m-.1 1.7h0m-.1-1.2h0m-.2 1.5h0m-.1-1.9h0m-.2 2.1h0m-.3-3.1h0m-.4 2.5h0m0-2h0m-.1 2.3h0m-.1-1.9h0m0 2.1h0m-.2-1.5h0m-.2-2.7h0m-.2 3.2h0m-.1 .8h0m-.1-3.3h0m-.6 1.1h0m-.1-1.1h0m-.1 2.5h0m-.2-2.7h0m0 2.6h0m-.3-1.3h0m-.1 .7h0m-.2-1.5h0m-.1 2.2h0m-.1-.1h0m0-2.6h0m-.6 1.8h0m0-1h0m0 .3h0m-.2-.3h0m-.2-.7h0m-.2 .4h0m-.1-.3h0m-.2-.4h0m-.3 .8h0m-.2-1.1h0m-.3 .8h0m-.1 1.4h0m-.2-.7h0m-.2 .8h0m-.3-.2h0m-33.4 3.3h0m-1.5-.8h0m0 1.1h0m-.6-.2h0m-.2 0h0m-.1-1.4h0m-.1 0h0m-.2-.7h0m-.1-1.6h0m-.2 .5h0m-.3 2.7h0m0-1.8h0m-.1 1.1h0m-.4-1.7h0m-.1 2.9h0m-.1-5.5h0m-.1 2.7h0m-.1 .7h0m-.2 2.1h0m-.1-.8h0m-.2-4.3h0m-.1 0h0m0 4.3h0m-.3-4h0m0 3.5h0m0-1.3h0m-.2-.9h0m0-1h0m-.8 1.6h0m-.1 2.6h0m0-2.8h0m-.2-.6h0m-.2 1.4h0m-.1-2.6h0m-.6 5.1h0m-.1-3.5h0m-.1 3.4h0m-.4-2.1h0m-.2-.8h0m-.1-.8h0m-.2 1.5h0m-.1 1.1h0m0-4.3h0m-.2 1.2h0m-.1 2.5h0m0-2.5h0m-.2 1.6h0m-.2-2.1h0m-.1 .2h0m-.3-.8h0m0 1.8h0m-.3 3.5h0m0-3.6h0m-.6 1.1h0m-.1-.1h0m-.2-3h0m-.2 3.2h0m-.1-2.3h0m-.2-.2h0m0 3.7h0m0-2.5h0m-.4 .1h0m-.3 .4h0m-.2-2h0m-.1 3.7h0m-.7-3.2h0m0 2.2h0m-.6-.1h0m-.1 1.7h0m0-1.4h0m-1.2-2.5h0m-.3 .5h0m0 2.6h0m-.2-1.5h0m0-2.3h0m-.5 5.2h0m-.4-2.7h0m-.4 .9h0m-1.1-.4h0m-1 .2h0m-3.3-.5h0m-.6 2.6h0m-.7-3.7h0m-.8 1.7h0m-.6-.7h0m-4 .7h0m-10 .7h0m5.2 3.3h0m6.1 .1h0m6.9-1.3h0m1.2 .5h0m1.3 .8h0m.4-1h0m.4 3h0m.1-2.5h0m.3 .4h0m.5-.9h0m.8 1.4h0m1.9-1.1h0m2.2 1.1h0m.1-1.5h0m.2 2.9h0m.3 1.9h0m.2 .2h0m.5-1.2h0m1.1 .2h0m.2-.1h0m.3-3.5h0m.2-.7h0m.2 2.4h0m.2-1.2h0m.1 3.5h0m.3-4.8h0m.6 .5h0m.1 2.2h0m.1 .2h0m.3 2.5h0m.1-5.2h0m.2 2.8h0m0-2.4h0m.3-.6h0m.4 1.7h0m.2-1.2h0m.2 4.5h0m.1-4.8h0m0 4.6h0m.2-3.7h0m.2 4.5h0m.2-4.1h0m.5 .6h0m.3 .9h0m.1-2.7h0m.1 2.7h0m0-2.8h0m.6 3.7h0m.1-3.6h0m.1 5h0m.1-5.4h0m.1 3.4h0m.7-.1h0m.4-2.2h0m0 .5h0m.1-1h0m.1 4.4h0m0-4.4h0m.1 2.3h0m0-1.6h0m.1 .9h0m0 .5h0m.1-2.4h0m.2 2.7h0m0-2.8h0m.1 .4h0m.3 5.2h0m0-3.3h0m.4 3.3h0m.1-3.5h0m0 2.6h0m.1-4.4h0m.1 1.7h0m.2-.8h0m.1 1.1h0m0 1.5h0m.1 1.1h0m0-.5h0m.4 .4h0m.4-1.4h0m.1 .8h0m.1 1h0m0-.4h0m.3-2.3h0m0 2.3h0m.2 .1h0m.5 .5h0m.5-1h0m.3 1.3h0m.2-.9h0m.2-.5h0m.2 .4h0m.6 0h0m.7 1h0m1.6-.3h0m1.5 0h0m1.4 .3h0m.1-.4h0m42.7-4.3h0m.3-1.2h0m.1 1.5h0m.6-.3h0m.3 .1h0m.7-.8h0m.6 2.4h0m.1-.1h0m.2 .6h0m0-.2h0m.3-1.1h0m.1-1.8h0m.1 .7h0m.1 2h0m.2-1.3h0m.1 2.3h0m.2-2.3h0m0 3.1h0m.1-.2h0m0 .5h0m.5-.6h0m.1-1.2h0m0-.2h0m.2-1.3h0m.4 2.1h0m.1-1h0m.1-1h0m0 4h0m0-5h0m.1 4.5h0m.1-1.7h0m0-1.2h0m0 2.4h0m0-.5h0m.2-4.1h0m.2 3.6h0m0-.4h0m.1-2.6h0m.3 4h0m.2 .9h0m.2-3.6h0m.1-.5h0m.2 .5h0m.1 2.1h0m.1-2.5h0m0 2.3h0m.2-2h0m.2-1.9h0m.3-.2h0m.1 3.6h0m0-.6h0m.2-1.8h0m.2 4h0m.2-3.1h0m.2 1h0m.1 1h0m.1 0h0m.3-.1h0m0 .9h0m.2-2h0m0 2.9h0m.1-4.8h0m0 3.8h0m.2-1.6h0m0-1.8h0m.1 3h0m.1 1.1h0m0-2.5h0m0 2.1h0m.1-1.6h0m.1 2.3h0m.6-.8h0m0 .9h0m.1-4.5h0m1.5-.4h0m.3 4.4h0m.1-.6h0m.1 .2h0m.1-4.5h0m0 1.5h0m0-1.2h0m.2-.6h0m.5 5.4h0m.1-3.1h0m0 3.2h0m2.4-.5h0m.7-.2h0m2.8-4.4h0m6.5 9.1h0m-3-.3h0m-1.3-1.9h0m-.5 .8h0m-.7-1.9h0m-.5 5.5h0m-.5-5h0m-.4 .8h0m-1.6 3.1h0m-.2-.5h0m-.5-2.5h0m-.7 1.6h0m-.9-1.9h0m-.3-.5h0m-.1 3.6h0m-.9-1.1h0m-.1-2.6h0m-.3 4.2h0m-.2-3.2h0m-.1 1.9h0m-.2-1.8h0m-.2-.4h0m-.5-.2h0m-.2 4.3h0m-.5-1.1h0m-.2-.7h0m-.1-.6h0m0 1.7h0m-.2-1.1h0m-.2-.4h0m-.1-3.4h0m-.2 5.7h0m-.3-3.2h0m-.1 3.3h0m-.3-1.2h0m0-3.9h0m-.1 2.1h0m-.1 1.4h0m0-2.3h0m-.2 2h0m-.1-.8h0m0 .1h0m0-1.8h0m-.1 1h0m-.1 2.3h0m-.4-2.1h0m0-2.4h0m0 3.8h0m-.2-3.3h0m-.1 3.5h0m-.1-1.4h0m-.1 1.6h0m-.3-.5h0m0-3.8h0m0 5.7h0m-.1-1.5h0m-.2-3.3h0m0 4.2h0m-.1-.4h0m-.3-.3h0m-.2-1.3h0m0-2.3h0m-.4 3.5h0m-.2-.2h0m0-2.9h0m-.1 4.5h0m0-2.1h0m-.1 1.3h0m-.2-4h0m-.1 4.4h0m-.3-1h0m-.2 .8h0m0-.5h0m-1.1-4.6h0m-14.5 5.6h0m-.5-.1h0m-2.4-.2h0m-.9 .2h0m-2.4-.2h0m-.3 .1h0m-.8-.1h0m-1.1 .4h0m-.5 0h0m-.2-.8h0m-.6-.3h0m-.1 .5h0m-.1-.3h0m-.1-.6h0m0 1.2h0m-.8-1.5h0m-.1-.4h0m0 .2h0m-.4-.1h0m-.1-1h0m-.2 2h0m-.2-1.9h0m-.1 1h0m-.1 .7h0m-.1-1.6h0m0 1.4h0m-.2-.5h0m-.2-.8h0m-.1 .1h0m-.2 0h0m0 1.5h0m-.2-1.9h0m-.3 2h0m-.1-2.3h0m0 2.4h0m-.1 1h0m-.6-2.7h0m0 1.5h0m-.1 1.2h0m-.2-4.1h0m-.3 3.5h0m-.1 .2h0m0-2.5h0m-.1 .3h0m-.1-.8h0m-.1 3.2h0m-.7-1.6h0m-.6 .9h0m-.1-1h0m0-.9h0m-.1 2.4h0m-.2-3.6h0m0 2.2h0m-.2-1.1h0m-.1-1.6h0m-.1-.4h0m-.2 3.8h0m-.1-1.2h0m-.1 .8h0m0 .2h0m-.2-.3h0m-.1-.6h0m-.1-2.5h0m-.1 1.9h0m-.1 1.7h0m0 .5h0m0-3.8h0m-.1 4.2h0m0-3.9h0m-.1 1.1h0m-.1 .4h0m-.2-2.5h0m0 2.9h0m0 .9h0m-.1-3.5h0m-.9 3.1h0m-.1 .3h0m0 .1h0m0-2h0m-.1 2.8h0m-.5-1.4h0m-.1-1.7h0m-.1-1.3h0m-.1 2.2h0m-.4-2.6h0m-.1 .7h0m0 2.9h0m-.1-1.6h0m0-.1h0m-.1-.3h0m0 1.4h0m-.2-.9h0m0 2.4h0m0 .7h0m-.1-4.8h0m-.2 .4h0m-.4 .5h0m-.3 .6h0m-.2 1.5h0m0-.3h0m-.1 .8h0m-.1-1.5h0m-.1 1h0m-.1 .2h0m-.1 .2h0m-.1 .6h0m-.4-.8h0m-.5 1.5h0m-.1-1.5h0m-.1-.2h0m-.1-1.1h0m-.1 .8h0m0 1.5h0m-.1-1.6h0m-.7-.6h0m-.1-.2h0m-.1 1.9h0m-.3 .9h0m-.3-1.1h0m0-2.9h0m-.3 3.3h0m-.4 .1h0m-.1-.6h0m-.1-.1h0m0-.8h0m-.3 1.9h0m-.1-.6h0m0 .2h0m-.3-3.2h0m-.3 0h0m-.2 .4h0m-.1 3.2h0m0-3.8h0m-.2 3.3h0m-.1 .9h0m0-2.2h0m-.1 2.1h0m-.2-1.1h0m0-1.2h0m-.1 .9h0m-.2-.6h0m-.2 0h0m-1.2 .5h0m-.1-.9h0m0-.7h0m0 .5h0m-.3 1.5h0m-.3-.4h0m0 1.7h0m0-.9h0m-.2-2.1h0m0 2.8h0m-.1-1.3h0m-.4 .6h0m0-1.4h0m0-.9h0m-.2 .4h0m-.2 1.1h0m-.2-.8h0m-.2-2.7h0m-.1 1h0m-.2 2h0m0-2.4h0m-.1 4.2h0m0-1.5h0m-.2-3.6h0m0 3h0m-.2-1.1h0m-.3-1h0m0 2.1h0m-.2-.1h0m-.4-.8h0m0-1.9h0m0 2.9h0m0 1.5h0m-.2-1.8h0m-.2-.4h0m-.1 2.3h0m-.1-5.1h0m0 5.3h0m0-1.1h0m-.1-3.8h0m-1.2 4.7h0m-.2-3.2h0m0-1.7h0m-.2 .2h0m0 .3h0m-.1-.6h0m0 0h0m0 2.7h0m-.3 1.2h0m0 .6h0m-.2-3.1h0m0 .7h0m-.2 3.1h0m0-.1h0m-.2-4.5h0m-.4 4.5h0m-.1-3.6h0m-.2 4h0m-.1-5.5h0m-.1 .7h0m0-.5h0m-.3 1.2h0m-.1 1.3h0m0 1.4h0m-.1 .3h0m0-2.5h0m-.1-.1h0m-.1 .5h0m-.5-.5h0m-.1 .1h0m-.1 1.2h0m-.5 1.8h0m-.1-1.3h0m-.1-3.4h0m0 3.6h0m-.1 1h0m-.4-2.9h0m0 2.8h0m-.2-4.2h0m-.2 3.6h0m-.2-3.6h0m-.2 3.5h0m-1.5-.9h0m-.3 .5h0m-.1-2.8h0m-.1 .3h0m-.3-1.1h0m0 .2h0m0 2.3h0m-.1-1.4h0m-.3 1.9h0m-.2 1.8h0m-.2-3.8h0m-.8-.3h0m-.8 4.2h0m-.2-3.8h0m0 1.7h0m-.3-1.7h0m-1.6 2.6h0m-1.1-.6h0m0-3.2h0m-.9 4.8h0m-.2-3.4h0m-.7 .2h0m-.7 .5h0m-3.2-1.7h0m-1.2 2.5h0m-4 2h0m-.4-1.7h0m-.2 1.4h0m-17.1-2.1h0m-11.1 .1h0m21.8 6.2h0m2.7 .8h0m2-1.6h0m4.4 1.2h0m3.9-1.9h0m3.8 3.9h0m.1-1.1h0m1.2-3.5h0m.8 2.7h0m2.2-2.4h0m.6-.3h0m.6 5.1h0m1.4-3.6h0m1-.2h0m.8-.6h0m0-.2h0m.1 .4h0m0-1.5h0m.2 2.6h0m.5-1.7h0m.1 .4h0m.3 3.3h0m.5-4.6h0m.3 4.9h0m.1 .5h0m.1-3.7h0m.5-.8h0m1.3 .8h0m.1 2.4h0m.6-2.3h0m.6 3.8h0m.9-1.8h0m.8-3.3h0m0 0h0m.4 .9h0m.2-.5h0m.5-.8h0m1-.1h0m.6 .9h0m.1 1.4h0m.1-.7h0m.6 3.7h0m.3-2.7h0m.2-.3h0m.1-.2h0m.3-1.8h0m.2 3.1h0m.6-1.8h0m.1-1.2h0m.1 .1h0m.3 1.5h0m.1-.7h0m.7 1.4h0m0-.3h0m.2 .7h0m.1-2.2h0m0 3.4h0m.3-.2h0m.3-2.6h0m.1 0h0m.1-.4h0m0-.3h0m0 5h0m.1-3.3h0m.3-1.9h0m.1 0h0m.1 .1h0m0 5.2h0m.1-5.5h0m.4 2.1h0m.4 2h0m.5-.8h0m.2-3.7h0m0 1h0m0 3.9h0m.5-4.7h0m0-.2h0m.4 5.5h0m.2-4.5h0m.5 1.3h0m.1-.7h0m.2 2.2h0m0 .9h0m.2-.7h0m0-.3h0m0-1.7h0m.4 1h0m.5-1.1h0m0-1.5h0m0 4.4h0m.1 .4h0m.1-4.1h0m.1 4.3h0m.1-.4h0m.1-4h0m.1 2.9h0m.1-2h0m.1-1.6h0m.2 2.4h0m.4-.1h0m0-.8h0m.1 .6h0m.3 2.1h0m.3-2.5h0m0-1.1h0m.3-.2h0m0-.1h0m.1 .7h0m.2-.5h0m0 3.3h0m.4 1.1h0m.1-4.8h0m.1 4.2h0m.1-1.4h0m0-2.2h0m.3 1h0m0-1.9h0m0 .6h0m.1 2h0m.1 1.3h0m.2-.7h0m.8-3.1h0m.2 2.1h0m0-.8h0m.5 .7h0m.1-2h0m0 4.3h0m0-1.4h0m.1-2.9h0m1 .1h0m.1 1.9h0m.1 2.2h0m.3-.6h0m0-1.6h0m0 .3h0m.3-2.4h0m.5 .8h0m0 3.9h0m.2-3.3h0m.1 .5h0m.2-1.7h0m.5 .4h0m0 3.7h0m0-.7h0m.5 0h0m0-.3h0m.5 .3h0m.3-.5h0m.4-1.3h0m.2 .9h0m.3-.5h0m.4-1.6h0m0 0h0m.8 0h0m.4 3.8h0m.1-.4h0m.1-.9h0m.1 .8h0m.3-2.5h0m.1 2h0m.1-3.2h0m.3-.1h0m.2 4.8h0m0-.4h0m.2-.1h0m0-.1h0m.3-.6h0m.1-3.7h0m.4 3.6h0m0-.3h0m.3-1.4h0m0 .4h0m.5 .8h0m.1 .9h0m0-3.4h0m.2 .1h0m.1-.6h0m.1 2.7h0m.2-1h0m0-1.6h0m.1 4.4h0m.2-1.4h0m.3 2.5h0m0-4.4h0m0 2.5h0m.3 .7h0m0-1.5h0m.2-.7h0m.1-.3h0m.1 1.2h0m.2-2h0m.1 2h0m.1-1.7h0m0-.9h0m.2 .3h0m.1 1.2h0m.1 3.6h0m0-5.1h0m.2 2.3h0m.1-.2h0m0 1h0m.4-3.2h0m.3-.6h0m0 .3h0m0 3.2h0m0-2.5h0m0 3.2h0m.1-2.6h0m.4 1.1h0m.1 .2h0m.1-.2h0m.1-.8h0m0 3.5h0m.2-3.2h0m.1 1.5h0m0 .5h0m.1-1.7h0m.3 2.4h0m.2-.3h0m0-3h0m.1 3.7h0m.1-3.2h0m0-1.6h0m0-.1h0m.4 4.1h0m.1-.4h0m.1-1.3h0m.1-2.7h0m.5 1h0m.3 4.5h0m0-4.6h0m.3 2.9h0m.5 1.1h0m.4 .1h0m0 .2h0m.5-.2h0m1.4 .8h0m.7-.9h0m.2 .2h0m.1-.5h0m0-.6h0m.4 .4h0m.4-.3h0m1.4 .4h0m.6 0h0m.2 .4h0m.1 .2h0m.7 .2h0m.3 .3h0m.3-.4h0m.5 .5h0m0-.6h0m.1-2.3h0m0-.4h0m.1 1.5h0m.1 .7h0m.5-1.7h0m.1 1.6h0m.4-.6h0m.1-1.2h0m.1-.3h0m.3-.6h0m.1 1.5h0m.2-1.8h0m.3 1.2h0m.2 2.1h0m.1-3.2h0m.2-.1h0m.2 .1h0m.4 3.4h0m0-3.2h0m.1 2.9h0m0-2.1h0m.1 1.9h0m.1-.8h0m0-.3h0m.2-2h0m.1 1.8h0m0 1.3h0m0-2.7h0m.1 1.6h0m.4-1.4h0m.1-.1h0m.5 .6h0m.1-1.8h0m0 .2h0m0 2.8h0m.2 1.2h0m.3-.9h0m0-2.1h0m.3 1.1h0m.1-1.2h0m.1-.2h0m0-1.2h0m.1 4.5h0m.1 .1h0m.3-3.3h0m.2 1.6h0m.1-.6h0m0 .9h0m.3-2.7h0m.1 3.7h0m.3-2.8h0m.2-.1h0m.1 1.3h0m.1-1.4h0m.1 2.6h0m.2-2.2h0m.1 3.4h0m.3-4.2h0m.5 2.6h0m.4-3.2h0m.2 2.5h0m.2 1.2h0m.2-2.5h0m.2 .5h0m.2 2.6h0m.7-.7h0m0-3h0m.1 0h0m.2-1h0m.3 1.5h0m1.5-.4h0m.1 4.2h0m.2-5.5h0m.2 .8h0m.5 4.3h0m.2 .4h0m.4-4.2h0m.2 1.6h0m.2 2.6h0m.1-.3h0m.2-1.8h0m0-2.6h0m0 2.8h0m.5-.8h0m.1-2.3h0m1-.2h0m12.7 .7h0m-4.2 8.8h0m-4.8-3h0m-5 5h0m-.6-3.1h0m-1.9-1h0m-1.8-1.5h0m-.2 2.4h0m-.8-.9h0m0-.7h0m-1.4-.9h0m-.1 1.7h0m-.2-1.4h0m-.9 .9h0m-.7 1.4h0m-.8 .4h0m-.1-1.1h0m-.1 .2h0m-.1-1.9h0m-.7 4.5h0m-.4-4.2h0m-1.6 .8h0m-1.2 1.3h0m-.6-.1h0m-1.5 0h0m-.5-1.3h0m-1 0h0m-.1-1.3h0m-.2 .5h0m-.4 .3h0m-.4-.1h0m-.2 .6h0m0-.6h0m-.2 1.5h0m-.2 2.5h0m-.2-4.5h0m0 0h0m-.1 .1h0m-.4 .1h0m-.1 0h0m-.2 2.6h0m-.2-1.7h0m-.6 0h0m-1.2 1.2h0m-.4 1.7h0m0-3.6h0m-.3 4.6h0m-.2-4.7h0m-.1 1.2h0m-.1-1.5h0m-.1 0h0m-.6 .2h0m-.1 3.2h0m-.2-1.1h0m0-.2h0m-1.2-1h0m-.1-1h0m0-.1h0m-.5 .2h0m-.3 4.2h0m-.4-4.3h0m-.3 .8h0m-1.3 3.1h0m-.9 .1h0m-.6-1.8h0m-.2-1.4h0m-.1 .8h0m-.2 .7h0m-.3 2.7h0m-.5-4.5h0m-.1 2.7h0m-.1-2.5h0m-.2 1.9h0m-.4 2h0m-.3-3.6h0m-4.9-.9h0m-.4 5.2h0m-.2-4.2h0m0-1.4h0m-.1 4.1h0m-1.3 .2h0m-.3 1.1h0m0-3.2h0m-.5-2h0m-.9 .1h0m-1.2 4.8h0m-.4-4.8h0m-.1 .9h0m-1.5-.1h0m-.7 1.4h0m0-.5h0m-1.9-.3h0m-.9 1.4h0m-.1 0h0m-.3 1.9h0m-.5-4.3h0m-.1-.3h0m-.4 1h0m-.2 .1h0m-.1-1.6h0m0 1.5h0m-1.5 3.3h0m0-1h0m-.8-1.9h0m-.7-.7h0m-.1-.7h0m-1.2 .7h0m-.6-.4h0m-.7-.5h0m-.2 4h0m-.4-2.4h0m-.2-.1h0m-.8 1.9h0m-1.6-.4h0m-1.7-1.7h0m-.7 .1h0m-.8-1.4h0m-3.6 2.3h0m-1 .7h0m-2.3 1.1h0m-1.5-3.9h0m-.6 4.2h0m-.1 1.1h0m-3.8-4.8h0m-.3-1h0m-8.8 .1h0m-3.8 .4h0m4.7 10.4h0m13.6 .2h0m.5-2.1h0m12.6-2.2h0m5.9 .5h0m3.2 1.6h0m.4-.2h0m.9 .6h0m2.6-.3h0m.4-2.8h0m4.3 3.1h0m6.8-2.7h0m12.1 4.6h0m3.8-2.8h0m.1 2.2h0m6.3-1h0m1.9-.7h0m3-2.8h0m-27.4 9.9h0m-5.2-3.2h0m-2.7-.1h0m-15.1 5h0m-18.2-3.5h0m-.9 2.1h0m21.4 2.1h0" stroke="#bebebe" stroke-width="1.20" stroke-linecap="round" fill="none"/>
<path d="M41,103.0L284.8,328.6M70.9,51.2L319,324.9" stroke="#868686" stroke-width="0.75" fill="none"/>
<ellipse cx="134.1" cy="216.2" rx="11.5" ry="13.5" transform="rotate(-8 134.1 216.2)" fill="#0a0a0a"/>
<path d="M96.8 129 98 128.9 99.6 129 101 129.2 103 129.6 104.4 130 106 130.7 108 132 109 132.8 110 133.6 111 134.5 112 135.4 113 136.4 114 137.7 114.7 139 115.5 141 115.8 143 116 145 116 147 116 149 116.3 151 116.7 153 117 154.9 117.2 157 117.3 159 117.3 161 117.5 163 117.7 165 118.3 167 119 168.3 120 169.6 121 170.6 122 171.5 123 172.4 124 173.2 125 174 126 174.8 127 175.8 128 176.8 129 177.9 129.9 179 130.7 180 131.4 181 132.7 183 133.9 185 134.6 186 135.3 187 136.2 188 137.4 189 138.7 190 140 190.8 142 192 143 192.6 144 193.3 145 194 146 194.8 147 195.6 148 196.4 149 197.4 150 198.4 151 199.6 152 201 153 202.7 153.7 204 154.7 206 155.7 208 156.7 210 157.8 212 158.4 213 159.3 214 160.4 215 162 216 164 216.8 166 217.7 168 218.6 170 219.3 171.8 220 173 220.4 174.6 221 176 221.5 177.2 222 179 222.8 181 223.7 183 224.6 185 225.7 186.8 227 187.8 228 188.6 229 189.6 231 190 232.2 190.3 234 190.4 236 190.2 238 189.6 240 189 241.4 188 243 187.3 244 186.3 245 185.1 246 184 246.8 182 248 180 249 178 249.7 176 250.2 174 250.5 172 250.6 170 250.6 168 250.4 166 250.1 164 249.6 162.2 249 161 248.6 159.7 248 158 247.2 156 246 154.4 245 153 244 152 243.4 150 242.2 148 241.7 146 241.7 144.4 242 143 242.3 141 242.7 139 242.8 137 242.8 135 242.6 133 242.2 131 241.8 129 241.4 127 240.7 125.6 240 124 239.2 122.3 238 121 237.1 120 236.2 119 235.3 118 234.3 117 233.1 116.2 232 115.1 230 114.1 228 113.3 226 112.5 224 112 222.4 111.6 221 111.1 219 110.8 217 110.5 215 110.4 213 110.4 211 110.4 209 110.4 207 110.3 205 110.2 203 110 201.6 109.6 200 109 198 108.3 196 107.7 194 107.1 192 106.7 190 106.3 188 106.1 186 105.9 184 105.8 182 105.8 180 105.7 178 105.7 176 105.6 174 105.2 172 104.5 170 103.3 168 102.6 167 101.8 166 101 165 100.2 164 99.3 163 98.5 162 97.7 161 96.9 160 96.1 159 95.3 158 94.5 157 93.7 156 93.1 155 92.1 153 91.4 151 91 149.4 90.7 148 90.2 146 89.7 144 89.5 142 89.6 140 90 138.4 90.4 137 91 135.1 91.8 133 93 131.1 94 130.1 96 129.1ZM115.1 179 117 178.2 119 178.6 121 179.6 122 180.4 123 181.5 124 182.8 124.7 184 125.8 186 127 188 127.7 189 128.5 190 129.6 191 131 192 133 193 135 193.9 137 194.8 139 195.8 140.9 197 142 197.8 143 198.5 144 199.3 145 200.2 146 201.2 147 202.3 148 203.6 148.9 205 150 206.9 150.6 208 151.4 210 152 211.6 152.5 213 153 214.4 153.6 216 154.4 218 155 219.3 156 221 156.8 222 157.8 223 159 223.7 161 224.4 163 224.8 165 225.2 167 225.6 168.6 226 170 226.3 172 226.9 174 227.6 176 228.4 177.1 229 178.6 230 179.7 231 180.5 232 181.3 234 181.5 236 181 238 180 239.7 179 240.9 178 241.7 176 242.9 174 243.6 172 244 170 244.1 168 243.9 166 243.3 164 242.4 162 241.1 161 240.4 160 239.8 159 239.1 158 238.4 157 237.6 156 236.8 155.1 236 154 235.1 152 234.2 150 234.1 148 234.5 146.4 235 145 235.5 143.3 236 142 236.4 140 236.9 138 237.2 136 237.3 134 237.1 132 236.8 130 236.2 128 235.4 126 234.2 125 233.5 124 232.7 123 231.8 122 230.8 121 229.7 120 228.4 119.1 227 118 225 117.1 223 116.3 221 116 219.7 115.6 218 115.3 216 115.2 214 115.2 212 115.3 210 115.5 208 115.7 206 116 204 116.1 202 116.2 200 116.2 198 116 196.2 115.6 194 115 192.1 114.4 190 114 188 113.8 186 113.7 184 113.8 182 114.4 180.0ZM124.9 197 127 196.5 129 196.5 131 196.7 132.4 197 134 197.4 135.7 198 137 198.5 139 199.6 141 201 142 201.8 143 202.7 144 203.7 145 204.8 145.9 206 147 207.9 147.6 209 148.4 211 149 212.9 149.6 215 150 216.9 150.4 219 150.6 221 150.5 223 150.1 225 149.3 227 148.6 228 147.7 229 146.5 230 145.1 231 144 231.6 142 232.6 140 233.3 138 233.7 136 233.8 134 233.7 132 233.3 130 232.6 128.9 232 127.3 231 126 230 125 229.1 124 228.1 123 227 122.2 226 121.5 225 120.4 223 119.5 221 119 219.2 118.7 218 118.4 216 118.3 214 118.4 212 118.6 210 118.9 208 119.3 206 119.9 204 120.7 202 121.7 200 122.4 199 123.3 198.0ZM127.3 200 129 199.5 131 199.4 133 199.6 134.4 200 136 200.5 138 201.5 140 202.8 141 203.6 142 204.5 143 205.6 144 206.8 144.8 208 145.8 210 146.6 212 147 213.4 147.4 215 147.7 217 147.9 219 147.8 221 147.4 223 147 224.1 146.1 226 145.3 227 144.4 228 143.3 229 142 229.8 140 230.8 138 231.3 136 231.5 134 231.4 132.2 231 131 230.6 129.8 230 128.1 229 127 228.1 126 227.3 125 226.3 124 225.1 123.2 224 122.1 222 121.3 220 120.7 218 120.4 216 120.4 214 120.5 212 120.7 210 121 208.6 121.4 207 122 205.5 122.8 204 124 202.3 125 201.3 126 200.6ZM128.6 202 130 201.6 132 201.5 134 201.8 136 202.5 138 203.5 140 204.9 141 205.8 142 206.9 142.9 208 144 209.9 144.5 211 145 212.3 145.5 214 145.9 216 146 217.4 146 219 145.8 221 145.1 223 144.1 225 143.3 226 142.4 227 141.1 228 140 228.6 138 229.4 136 229.6 134 229.6 132 229.1 130 228.2 128.1 227 127 226.1 126 225.1 125.1 224 124.4 223 123.3 221 122.6 219 122.1 217 122 215.5 122 214 122.1 212 122.4 210 123 208.1 123.9 206 125 204.5 126 203.5 127 202.7ZM128.7 204 130 203.5 132 203.3 134 203.5 135.5 204 137 204.7 139 205.9 140 206.8 141 207.8 141.9 209 143 210.9 143.8 213 144.3 215 144.5 217 144.5 219 144 221 143.2 223 142 224.8 141 225.8 140 226.6 138 227.5 136 228 134 227.9 132 227.5 130.8 227 129.1 226 128 225.2 127 224.2 126 223 125.3 222 124.3 220 123.7 218 123.4 216 123.3 214 123.5 212 124 210 124.8 208 126 206.1 127 205 128 204.3ZM131.1 205 133 204.9 135 205.3 136.6 206 138 206.9 139 207.6 140 208.6 141 209.9 141.6 211 142.5 213 143 215 143.2 217 143 219 142.5 221 141.4 223 140.5 224 139.4 225 138 225.8 136 226.4 134 226.5 132 226 130 225.1 129 224.4 128 223.5 127 222.3 126.1 221 125.2 219 124.7 217 124.6 215 124.7 213 125 211.5 125.5 210 126 208.8 127 207.3 128 206.4 129 205.7 131 205.0ZM129.9 207 132 206.4 134 206.5 135.5 207 137 207.7 138 208.4 139 209.4 140 210.6 140.8 212 141.6 214 141.9 216 141.9 218 141.4 220 140.3 222 139.4 223 138.1 224 137 224.6 135.2 225 134 225 132 224.6 130.7 224 129.2 223 128.2 222 127.5 221 126.5 219 126 217.4 125.8 216 125.8 214 126.2 212 127 210 128 208.5 129 207.5ZM131.7 208 133 207.9 135 208.2 136.6 209 137.9 210 138.8 211 139.5 212 140 213.1 140.6 215 140.7 217 140.3 219 139.2 221 138.3 222 137 222.9 135 223.6 133 223.5 131.6 223 130 222 129 221 128.3 220 127.4 218 127 216.1 127 214.5 127.2 213 128 211 129 209.5 130 208.7ZM130.8 210 132 209.5 134 209.5 135.6 210 137 210.9 138 212 139 214 139.4 216 139.2 218 138.2 220 137.2 221 136 221.7 134 222.1 132 221.7 130.9 221 129.8 220 129.1 219 128.4 217 128.2 215 128.6 213 129.7 211.0ZM131 212 133 211.1 135 211.4 136.9 213 137.8 215 137.8 217 137 218.8 136 219.7 134 220.4 132.3 220 131 219.1 130.3 218 129.7 216 129.9 214.0ZM132.3 214 134 213.5 135.6 215 135.4 217 134 218 132.2 217 131.8 215.0ZM113.1 164.6 113.1 162.6 112.6 161.5 111.9 160.1 111 158.6 110 157 108.9 155.3 107.7 153.5 106.5 151.8 105.2 150.1 104 148.5 102.9 147.1 101.8 145.8 100.8 144.7 99.9 143.9 98.5 143.1 97.3 143.9 97.4 145.7 97.7 147 98.1 148.4 98.8 150 99.6 151.7 100.6 153.4 101.7 155.2 103 156.9 104.3 158.5 105.7 160 107.1 161.4 108.5 162.6 109.8 163.5 110.9 164.2 112.6 164.8ZM129.9 204 131 203.5 133 203.3 135 203.6 137 204.4 138.3 205 139.8 206 141 207 141.9 208 142.6 209 143.8 211 144.7 213 145.4 215 145.8 217 145.9 219 145.9 221 145.5 223 145 224.4 144.1 226 143.3 227 142.2 228 141 228.8 139 229.6 137 229.9 135 229.9 133 229.5 131.5 229 130 228.2 129 227.6 128 226.7 127 225.6 126 224.2 125.3 223 124.4 221 123.7 219 123.3 217 123 215 123 213.4 123.2 212 123.8 210 125 208.2 126 207.1 127 206.1 128 205.2 129 204.5ZM165.7 231 167 231 169 231.2 171 231.5 173 232 175 232.8 176 233.5 177 234.6 177.7 236 178 237.5 177.4 239 176 239.8 174 240.1 172 240 170 239.9 168 239.5 166.8 239 165.1 238 164 237 163.2 236 162.4 234 163 232 165 231.1ZM130.8 201 132.8 201 134 201.2 136 201.9 138 202.8 140 204 141 204.7 142 205.6 143 206.6 144 208 144.7 209 145.8 211 146.7 213 147.4 215 148 217 148.4 219 148.7 221 148.8 223 148.5 225 147.4 227 146.5 228 145.5 229 144.2 230 143 230.6 141 231.3 139 231.7 137 231.9 135 231.9 133 231.6 131.1 231 129.1 230 128 229.3 127 228.4 126 227.4 125 226.1 124.2 225 123.2 223 122.4 221 122 219.6 121.6 218 121.3 216 121.1 214 121.2 212 121.7 210 122.6 208 124 206 124.9 205 125.8 204 126.8 203 128 202.1 130 201.1ZM159.8 228 161 227.7 163 227.5 165 227.7 167 228 169 228.3 171 228.5 173 228.8 175 229.4 176.3 230 177.8 231 178.9 232 179.7 233 180.7 235 181 236.3 181.2 238 180.7 240 180 241 179 241.8 177 242.5 175 242.8 173 242.9 171 243 169 242.8 167 242.3 165 241.4 163 240 162 239.1 161 238.1 160 237 159.1 236 158.2 235 157.4 234 156.5 232 156.6 230 157.5 229 159 228.3ZM128 199 130 198.5 132 198.5 134 198.8 136 199.5 138 200.5 140 201.6 141 202.3 142 203 143 203.9 144 204.8 145 206 145.8 207 146.5 208 147.7 210 148.7 212 149.6 214 150.6 216 151.9 218 152.6 219 153.4 220 154.2 221 155 221.9 156 222.9 158 223.9 160 224.1 162 224.2 164 224.3 166 224.7 168 225.2 170 225.5 172 225.7 173.4 226 175 226.5 176.3 227 178 227.8 180 228.9 181 229.7 182 230.6 183 232 183.7 234 183.9 236 183.9 238 183.5 240 183 241.3 182 242.7 181 243.6 179 244.5 177 245 175 245.4 173 245.6 171 245.7 169 245.5 167 245.2 165 244.5 163 243.4 162 242.7 161 241.9 160 241 159 240.1 158 239.2 157 238.3 156 237.6 155 236.8 154.1 236 153.1 235 152.3 234 151.4 233 150 232.1 148 232.4 146.3 233 145 233.4 143 233.8 141 234 139 234.1 137 234.2 135 234.1 133 233.9 131 233.3 129 232.4 127 231.1 126 230.3 125 229.3 124 228.3 123 227 122.3 226 121.3 224 120.6 222 120 220 119.5 218 119.3 216 119.1 214 119.2 212 119.6 210 120 208.6 120.6 207 121.8 205 122.6 204 123.4 203 124.3 202 125.2 201 126.3 200 128 199.0ZM127.3 197 129 196.5 131 196.4 133 196.6 134.5 197 136 197.5 137.2 198 139 198.9 140.8 200 142 200.8 143 201.5 144 202.4 145 203.3 146 204.3 147 205.5 148 206.9 148.8 208 149.9 210 151 212 152 213.8 152.9 215 153.8 216 154.7 217 155.7 218 156.7 219 157.8 220 159 220.8 161 221.4 163 221.8 164.5 222 166 222.3 168 222.7 170 223.2 172 223.5 173.8 224 175 224.4 176.5 225 178 225.6 180 226.5 182 227.6 183 228.3 184 229.1 185 230.3 185.9 232 186.4 234 186.5 236 186.2 238 185.8 240 185 242 184 243.5 183 244.5 181 245.6 179 246.3 177 246.9 175 247.5 173 247.8 171 247.8 169 247.6 167 247.2 165 246.7 163.1 246 162 245.4 160 244 159 243.2 158 242.3 157 241.5 156 240.7 155 240 154 239.3 152 238 151 237.3 149 236.3 147 236 145 236.1 143 236.2 141 236.3 139 236.4 137 236.4 135 236.2 133 235.8 131 235.3 129 234.4 127 233.1 126 232.3 125 231.5 124 230.6 123 229.7 122 228.5 121 227.2 120.3 226 119.5 224 119 222.4 118.6 221 118.1 219 117.7 217 117.5 215 117.5 213 117.7 211 118 209.4 118.3 208 119 206.1 119.5 205 120.8 203 121.6 202 122.4 201 123.3 200 124.3 199 125.4 198 127 197.1ZM127.4 195 129 194.7 131 194.6 133 194.8 134.2 195 136 195.4 137.5 196 139 196.7 141 198 142 198.6 143 199.4 144 200.2 144.9 201 146 202 147 202.9 148 204 148.9 205 149.7 206 150.4 207 151 208 152 209.9 152.6 211 153.9 213 154.7 214 155.7 215 156.7 216 157.7 217 159 218 160 218.7 162 219.5 164 219.9 166 220.3 168 220.7 170 221.2 172 221.8 174 222.3 175.8 223 177 223.5 178.2 224 180 224.8 182 225.6 184 226.7 185 227.5 186 228.5 187 229.8 187.8 231 188.6 233 188.8 235 188.6 237 188.4 239 188 240.5 187.5 242 186.2 244 185.2 245 184 245.9 182 246.8 180 247.5 178.4 248 177 248.5 175.6 249 174 249.5 172 249.7 170 249.5 168 249.1 166 248.7 164 248.3 162 247.5 160.9 247 159.3 246 158 245 157 244.2 156 243.4 155 242.7 154 242 153 241.4 151 240.1 149 239.2 147 238.5 145 238.2 143 238.2 141 238.3 139 238.5 137 238.4 135 238 133 237.6 131.1 237 129 236.1 127.2 235 126 234.1 125 233.4 124 232.5 123 231.6 122 230.7 121 229.6 120 228.4 119.2 227 118.3 225 117.7 223 117.1 221 116.5 219 116.3 217 116.1 215 116.1 213 116.2 211 116.5 209 116.9 207 117.6 205 118.6 203 119.3 202 120.1 201 120.9 200 121.8 199 122.6 198 123.6 197 125 196 127 195.1ZM127.6 193 129 192.7 131 192.7 133 192.8 134.8 193 137 193.4 138.6 194 140 194.8 141 195.5 142 196.3 143 197.1 144 197.9 145 198.8 146 199.6 147 200.5 148 201.5 149 202.5 150 203.5 151 204.7 152 206 153 207.7 153.7 209 154.8 211 155.5 212 156.3 213 157.3 214 158.3 215 159.5 216 161 217 163 217.8 165 218.2 167 218.5 168.8 219 170 219.3 172 220 174 220.6 176 221.3 177.6 222 179 222.6 181 223.4 182.4 224 184 224.7 185.9 226 187 227 188 228 188.8 229 189.5 230 190.5 232 191 234 191.1 236 191 238 190.8 240 190.3 242 189.2 244 188.4 245 187.2 246 186 246.8 184 247.7 182 248.4 180 249 178 249.8 176 250.6 174 251.2 172 251.4 170 251.2 168 250.8 166 250.4 164.3 250 163 249.7 161 249 159 248.1 157.3 247 156 246 155 245.3 154 244.5 153 243.9 151.6 243 150 242 148 241.1 146 240.4 144 240.1 142 240 140 240.3 138 240.4 136 240.2 134 239.7 132 239 130 238.3 128 237.4 126 236.1 125 235.4 124 234.5 123 233.7 122 232.8 121 231.8 120 230.8 119 229.6 118 228 117.1 226 116.4 224 116 222.6 115.4 221 115 219.1 114.7 217 114.6 215 114.6 213 114.6 211 114.8 209 115.2 207 115.8 205 116.6 203 117.8 201 118.5 200 119.3 199 120.1 198 120.8 197 121.7 196 122.9 195 124 194.3 126 193.4ZM137.8 195 139 194.8 141 195 142.5 196 143.6 198 144 199.2 144.6 201 145.6 203 146.7 205 147.8 207 148.5 209 149 211 149.5 213 150 214.7 150.5 216 151 217.5 151.6 219 152 220.2 152.6 222 152.8 224 152.6 226 152 227.6 151.1 229 150.4 230 149.7 231 149 232 148 233.5 147 234.9 146.1 236 145 237 144 237.7 142 238.6 140 238.9 138 238.7 136 238.2 134 237.7 132 237 130 236.3 128 235.3 127 234.5 126 233.6 125 232.5 124 231.2 123.1 230 122.3 229 121.4 228 120.3 227 119.3 226 118.3 225 117.5 224 116.4 222 116 220.4 115.9 219 116 217.7 116.1 216 116.2 214 116.1 212 116 210 116 208 116.1 206 116.3 204 116.7 202 117.8 200 118.8 199 120 198.2 122 197.3 123.6 197 125 196.8 127 196.5 129 196.3 131 196 133 195.8 135 195.5 137 195.1ZM123.9 200 126 199.5 128 199.3 130 199.1 132 199.1 134 199.2 136 199.5 137.6 200 139 200.6 140 201.3 141 202.1 142 203.2 143 204.3 144 205.5 145 207 145.6 208 146.4 210 146.9 212 147.3 214 147.8 216 148.5 218 149 219.8 149.3 221 149.5 223 149.2 225 148.3 227 147.3 229 146.1 231 145 232.6 144 233.7 143 234.5 141 235.4 139 235.6 137 235.4 135.1 235 133 234.5 131.5 234 130 233.3 128.1 232 127.2 231 126.4 230 125.7 229 125 227.9 124 226.6 123 225.3 122 224.2 121 223 120.2 222 119.3 220 119 218 118.9 216 118.8 214 118.7 212 118.7 210 118.9 208 119.2 206 119.7 204 120.8 202 121.9 201 123 200.3ZM127.9 201 130 200.8 132 200.8 133.5 201 135 201.3 136.8 202 138 202.7 139 203.3 140 204.1 141 205 142 205.9 143 207 143.7 208 144.7 210 145.3 212 145.6 214 146 216 146.7 218 147.3 220 147.6 222 147.5 224 147 225.6 146.4 227 145.3 229 144 230.9 143 231.9 142 232.7 140 233.4 138 233.6 136 233.3 134.6 233 133 232.6 131.6 232 130 231.1 129 230.2 128 229 127.3 228 126 226 125.3 225 124.6 224 123.9 223 123.2 222 122.1 220 121.4 218 121 216 120.8 214 120.6 212 120.7 210 121 208 121.4 206 122 204.5 123 203 124 202.2 126 201.4ZM126.2 203 128 202.4 130 202.1 132 202.2 134 202.6 135.2 203 137 204 138 204.6 139 205.4 140 206.2 141 207 142 208 142.7 209 143.6 211 144 212.7 144.2 214 144.6 216 145 217.4 145.6 219 146 220.5 146.3 222 146.1 224 145.4 226 144.4 228 143.7 229 142.8 230 141.6 231 140 231.7 138 232 136 231.8 134 231.3 132 230.4 130.2 229 129.3 228 128.6 227 127.9 226 127.2 225 126.5 224 125.8 223 125 221.7 124.1 220 123.2 218 122.7 216 122.4 214 122.3 212 122.4 210 122.7 208 123.4 206 124 204.8 125 203.8ZM127.5 204 129 203.5 131 203.3 133 203.6 135 204.4 137 205.7 138 206.5 139 207.2 140 207.9 141 208.9 141.8 210 142.6 212 142.9 214 143.3 216 143.9 218 144.7 220 145 221.5 145.1 223 144.6 225 144 226.3 143 227.8 142 228.9 141 229.7 139 230.4 137 230.5 135 230.1 133 229.3 131.2 228 130.3 227 129.5 226 128.7 225 128 224 127.4 223 126.1 221 125.1 219 124.4 217 124 215.2 123.8 214 123.7 212 123.8 210 124.3 208 125 206.3 126 205 127 204.2ZM128.6 205 130 204.6 132 204.7 134 205.5 136 206.9 137 207.6 138 208.3 139 209 140 209.8 140.8 211 141.5 213 141.8 215 142.3 217 143 218.6 143.6 220 144 222 143.8 224 143 225.8 142.1 227 141.1 228 140 228.7 138 229.1 136.3 229 135 228.7 133.5 228 132 227 131 226 130.1 225 129.4 224 128.7 223 128 222 127 220.2 126.4 219 125.7 217 125.2 215 125 213.5 124.9 212 125.1 210 125.7 208 127 206 128 205.3ZM128.2 207 130 206.1 132 206.3 133.4 207 134.8 208 136 208.9 137.7 210 138.9 211 139.6 212 140.3 214 140.8 216 141.6 218 142.4 220 142.9 222 142.6 224 142 225.2 141 226.4 140 227.2 138 227.7 136 227.6 134.3 227 133 226.3 132 225.5 131 224.4 130 223.2 129.2 222 128 220 127.2 218 126.6 216 126.2 214 126.2 212 126.5 210 127 208.6 128 207.2ZM128.8 209 130 208.2 132 208.5 134 209.8 135 210.5 137 211.8 138 212.8 138.7 214 139.5 216 140.4 218 141 219.2 141.6 221 141.6 223 141 224.5 140 225.5 138 226.3 136 226.3 134 225.5 132 224 131.1 223 130.4 222 129.2 220 128.3 218 127.7 216 127.5 214 127.5 212 128 210.2ZM129.6 212 131 211.1 133 211.8 135 212.9 136 213.5 137 214.5 138 215.9 138.6 217 139.7 219 140.4 221 140.2 223 139.6 224 138 224.9 136.6 225 135 224.7 133.7 224 132.5 223 131.6 222 130.9 221 130 219.3 129.5 218 129 216 128.9 214.0ZM131.1 215 133 214.3 134.7 215 136 215.9 137 216.9 137.8 218 138.8 220 138.9 222 138.2 223 137 223.5 135 223.3 133 222 132.2 221 131.2 219 130.8 217 131 215.1ZM133.2 218 135 217.7 136 218.5 136.9 220 136 221.5 134.3 221 133.5 220.0ZM130.8 193 132 192.7 133.4 193 135 193.5 137 193.9 139 194 141 194.2 143 194.9 144.6 196 145.5 197 146.2 198 147 199.6 147.6 201 148 202.3 148.5 204 149 205.6 149.5 207 150 208.5 150.6 210 151.4 212 152 213.9 152.4 216 152.4 218 152.4 220 152.3 222 152.2 224 151.7 226 151 227.4 150.1 229 149 230.9 148.3 232 147.6 233 146.8 234 145.7 235 144.4 236 143 236.8 141 237.6 139.8 238 138 238.3 136 238.2 134 237.8 132 237.1 130 236.1 128 235 126.1 234 125 233.4 124 232.7 123 231.9 122 230.6 121.3 229 121 227.1 120.5 225 119.5 223 118.4 221 118 219.5 117.8 218 118 216.5 118.3 215 119 213 119.7 211 120.3 209 121 207.1 121.7 205 122.5 203 123 201.7 123.8 200 125 198 125.7 197 126.7 196 127.7 195 128.9 194 130 193.3ZM130.5 198 132 197.7 134 197.7 136 197.8 137.7 198 139 198.2 140.8 199 142 199.9 143 200.9 143.9 202 144.7 203 145.9 205 146.9 207 147.7 209 148.4 211 149 212.6 149.5 214 149.9 216 150.1 218 149.9 220 149.7 222 149.3 224 148.6 226 148 227.4 147.1 229 146.4 230 145.6 231 144.5 232 143 232.9 141 233.5 139 233.6 137 233.4 135 233.2 133.4 233 132 232.8 130 232.2 128 231.3 126.2 230 125.4 229 124.5 227 124 225.5 123.5 224 123 222.9 122 221.1 121.4 220 121 218.7 120.8 217 121 215.6 121.3 214 122 212 122.6 210 123 208.7 123.6 207 124.5 205 125 203.9 125.9 202 127 200.4 128 199.3 129 198.6ZM131.7 200 133 199.8 135 199.8 137 200.2 139 200.9 140.8 202 142 203 143 203.9 143.9 205 144.6 206 145.6 208 146.4 210 147 211.8 147.4 213 148 214.7 148.3 216 148.5 218 148.4 220 148 222 147.5 224 147 225.3 146.2 227 145 228.7 144 229.8 143 230.4 141.4 231 140 231.2 138 231 136 230.8 134 230.7 132 230.4 130.4 230 129 229.4 128 228.7 127 227.6 126.1 226 125.4 224 124.6 222 124 220.7 123.3 219 122.9 217 123 215.3 123.2 214 123.7 212 124.3 210 125 208 125.8 206 126.9 204 128 202.3 129 201.2 130 200.6ZM130.7 202 132 201.5 134 201.2 136 201.5 137.7 202 139 202.6 141 203.9 142 204.8 143 206 143.7 207 144.7 209 145.3 211 146 213 146.7 215 147 216.5 147.2 218 147 220 146.6 222 146 223.9 145 226 144.3 227 143.4 228 142 228.9 140 229.4 138 229.3 136 229.1 134.1 229 132 228.8 130 228.1 129 227.4 128 226.3 127.3 225 126.5 223 126 221.5 125.4 220 124.7 218 124.5 216 124.8 214 125 212.7 125.4 211 126 209 126.8 207 127.8 205 128.5 204 129.3 203.0ZM131.6 203 133 202.5 135 202.5 137 203 139 203.9 140.6 205 141.6 206 142.4 207 143.5 209 144 210.5 144.4 212 145 214 145.6 216 145.9 218 145.8 220 145.4 222 144.6 224 143.3 226 142.1 227 141 227.6 139 227.9 137 227.8 135 227.7 133 227.5 131.1 227 130 226.3 129 225.3 128.3 224 127.5 222 127 220.4 126.5 219 126.1 217 126 215 126.2 213 126.6 211 127 209.5 127.5 208 128.5 206 129.2 205 130 204.1 131 203.3ZM132 204 134 203.5 136 203.7 138 204.5 140 205.8 141 206.7 141.9 208 142.8 210 143.3 212 143.7 214 144.3 216 144.6 218 144.6 220 144.1 222 143.1 224 142.3 225 141 225.9 139 226.4 137 226.4 135 226.4 133 226.2 131 225.3 130 224.3 129.3 223 128.5 221 128 219.3 127.6 218 127.3 216 127.3 214 127.5 212 127.9 210 128.6 208 129.7 206 130.6 205.0ZM132.3 205 134 204.5 136 204.7 138 205.5 140 207 140.8 208 141.8 210 142.2 212 142.5 214 142.9 216 143.2 218 143.2 220 142.6 222 142 223.1 141.1 224 140 224.7 138.5 225 137 225.1 135 225.1 133 224.7 131.6 224 130.8 223 130 221.4 129.5 220 129 218.1 128.6 216 128.5 214 128.6 212 129 210 129.7 208 131 206 132 205.2ZM132.6 206 134 205.5 136 205.6 138 206.5 139 207.3 140 208.4 140.8 210 141.2 212 141.3 214 141.4 216 141.7 218 141.6 220 141 221.7 140 222.7 138 223.5 136 223.7 134 223.4 132 222.1 131.3 221 130.6 219 130.1 217 129.7 215 129.6 213 129.8 211 130.3 209 131 207.6 132 206.4ZM133 207 135 206.5 137 207 138 207.7 139 208.7 139.7 210 140 211.3 140.1 213 139.9 215 139.8 217 139.7 219 139 220.6 138 221.4 136 221.9 134 221.4 133 220.4 132.3 219 131.5 217 131 215.1 130.7 213 130.8 211 131.4 209 132 207.9ZM133.8 208 135 207.7 136.4 208 137.8 209 138.7 211 138.7 213 138.2 215 137.4 217 136 218.5 134.4 218 133.6 217 132.6 215 132 213 132 211.6 132.3 210 133 208.7ZM134.2 210 136 209.7 137 210.8 137 212.3 136 213.8 134 213 133.8 211.0ZM129.9 202 132 201.8 133.2 202 135 202.4 136.4 203 138 203.7 140 204.8 141 205.6 142 206.5 143 207.7 143.9 209 145 211 145.7 213 146 214.6 146.1 216 146.1 218 145.8 220 145.4 222 144.6 224 144 225.2 143 227 142.3 228 141.4 229 140 230 138 230.7 136 230.9 134 230.7 132 230 130.5 229 129.4 228 128.7 227 127.4 225 126.2 223 125.2 221 124.3 219 123.5 217 123 215.2 122.7 213 122.9 211 123.4 209 124 207.6 124.8 206 126 204.3 127 203.4 128 202.7ZM128.8 204 130 203.5 132 203.2 134 203.5 135.6 204 137 204.6 139 205.6 140 206.3 141 207.2 142 208.3 143 209.7 143.7 211 144.4 213 144.8 215 144.9 217 144.7 219 144.2 221 143.5 223 142.5 225 141.1 227 140 228 138 229 136 229.3 134 229 132 228.1 131 227.4 130 226.3 129.1 225 128 223.3 127.3 222 126.2 220 125.4 218 124.7 216 124.4 214 124.4 212 124.8 210 125.5 208 126.6 206 127.5 205.0ZM129.8 205 131 204.6 133 204.5 135 205 137 205.7 139 206.9 140 207.6 141 208.7 142 210 143 212 143.6 214 143.8 216 143.6 218 143.3 220 142.6 222 142 223.3 141 225 140.1 226 139 226.9 137 227.7 135 227.7 133 227 132 226.4 131 225.4 130 224.1 129.3 223 128.1 221 127.1 219 126.3 217 126 215.7 125.7 214 125.8 212 126.2 210 127 208 128 206.4 129 205.5ZM130.7 206 132 205.7 134 205.8 136 206.4 137.4 207 138.9 208 140 209 140.8 210 142 212 142.6 214 142.7 216 142.6 218 142.1 220 141.4 222 140.2 224 139.3 225 138 225.9 136 226.4 134 226 132.4 225 131.4 224 130.6 223 130 222 129 220.4 128.3 219 127.6 217 127.1 215 127 213 127.3 211 127.9 209 129 207.2 130 206.4ZM131.7 207 133 206.8 134.5 207 136 207.4 137.2 208 138.7 209 139.7 210 140.4 211 141 212.2 141.6 214 141.7 216 141.5 218 141 219.9 140.6 221 140 222.1 139 223.5 138 224.4 136 225 134 224.5 132.1 223 131.3 222 130.6 221 129.5 219 129 217.8 128.5 216 128.2 214 128.3 212 128.8 210 130 208 131 207.3ZM131 209 132 208.3 134 208 136 208.5 138 209.7 139 210.7 139.9 212 140.6 214 140.7 216 140.4 218 140 219.3 139.2 221 138.5 222 137.4 223 136 223.5 134.1 223 133 222.2 132 221.1 131.2 220 130.2 218 129.6 216 129.4 214 129.5 212 130 210.5ZM132.1 210 134 209.3 136 209.7 137.9 211 138.7 212 139.5 214 139.6 216 139.2 218 138.3 220 137.4 221 136 221.7 134 221.3 133 220.4 132 219.1 131.4 218 131 216.9 130.6 215 130.7 213 131 211.7 132 210.1ZM133.8 211 135 210.9 137 211.8 137.9 213 138.4 215 138.2 217 137.1 219 136 219.8 134 219.3 133 218.3 132.4 217 132 215.7 131.9 214 132.6 212.0ZM135 213 136.4 214 136.6 216 136 217.1 134.6 217 133.8 216 133.8 214.0ZM124.2 206 126 205.3 128 205.1 130 205.1 132 205.2 134 205.1 136 205.1 138 205.3 140 205.9 142 207 142.9 208 144 210 144.7 212 145.3 214 145.7 216 145.7 218 145.3 220 144.6 222 144 223.3 143 224.9 142.1 226 141.3 227 140.4 228 139.5 229 138.4 230 137.1 231 136 231.6 134.1 232 132.8 232 131 231.7 129 231.2 127 230.4 125 229.3 124 228.6 123 227.9 122.1 227 121.2 226 120.1 224 119.4 222 119 220 119 218 119.2 216 119.5 214 120 212 120.5 210 121.6 208 122.6 207 124 206.1ZM126.1 207 128 206.7 130 206.6 132 206.5 134 206.4 136 206.4 138 206.7 140 207.5 141 208.2 142 209.3 142.9 211 143.7 213 144 214.3 144.4 216 144.4 218 144 220 143.2 222 142 224 141.2 225 140.3 226 139.3 227 138.2 228 137 229 135 230 133 230.3 131 230 129 229.4 127 228.6 125.9 228 124.5 227 123.4 226 122.5 225 121.4 223 120.7 221 120.4 219 120.4 217 120.7 215 121 213.6 121.4 212 122 210.6 123 209 124 208.1 126 207.0ZM128.5 208 130 207.8 132 207.6 134 207.4 136 207.5 138 207.9 140 209 141 210 141.6 211 142.5 213 143 214.6 143.3 216 143.3 218 143 219.6 142.5 221 141.3 223 140.5 224 139.5 225 138.4 226 137.2 227 136 227.8 134 228.5 132 228.6 130 228.2 128 227.4 126 226.3 125 225.5 124 224.5 123 223 122.1 221 121.6 219 121.5 217 121.8 215 122.4 213 123 211.6 124 210.1 125 209.2 127 208.3ZM129.8 209 131 208.8 133 208.4 135 208.4 137 208.7 139 209.6 140 210.5 141 211.9 141.9 214 142.3 216 142.4 218 142 219.6 141.4 221 140 222.9 139 223.9 138 224.7 137 225.4 135 226.5 133 226.9 131 226.7 129 226.2 127 225.2 126 224.5 125 223.5 124 222.1 123.5 221 123 219.7 122.7 218 122.8 216 123.3 214 124 212.4 125 211.1 126 210.2 128 209.4ZM130.2 210 132 209.5 134 209.2 136 209.4 137.8 210 139 210.9 139.9 212 140.9 214 141.4 216 141.4 218 141 219.6 140.3 221 139.4 222 138.3 223 137 223.8 135 224.7 133.2 225 131.9 225 130 224.7 128 224 126.5 223 125.6 222 124.9 221 124 219 123.8 217 124 215.5 124.5 214 125.9 212 127 211.2 129 210.4ZM130.5 211 132 210.5 134 210.1 136 210.3 137.6 211 138.8 212 139.5 213 140 214.1 140.5 216 140.5 218 140 219.5 139 221 138 221.8 136 222.7 134 223 132 222.9 130 222.7 128 222 127 221.3 126 220.2 125.4 219 125 217.1 125.4 215 126 213.9 126.8 213 128 212.2 130 211.2ZM131 212 133 211.3 135 211.1 137 211.8 138 212.6 138.9 214 139.5 216 139.4 218 138.3 220 137 220.9 135 221.3 133 221.1 131 220.8 129 220.4 127.2 219 126.5 217 127 215.1 127.9 214 129 213.1 131 212.0ZM131.8 213 133 212.5 135 212.2 136.8 213 137.6 214 138.4 216 138.1 218 137.3 219 136 219.6 134 219.5 132.2 219 131 218.6 129.6 218 128.9 217 129.5 215 130.4 214.0ZM133.9 214 135.2 214 136.3 215 136.3 217 135 217.5 133.4 217 132.5 216 133 214.6ZM126.6 205 128 204.4 130 204.1 132 204.1 134 204.3 136 204.6 138 205.4 140 206.9 141 207.9 142 209 142.7 210 143.7 212 144 213.2 144.3 215 144.5 217 144.6 219 144.3 221 143.6 223 142.2 225 141.3 226 140.3 227 139.2 228 138 228.9 136 229.8 134 230.2 132 230.1 130 229.6 128.5 229 127 228.3 125 227.1 124 226.3 123 225.1 122.3 224 121.4 222 120.6 220 120 218.4 119.6 217 119.4 215 119.8 213 120.9 211 121.7 210 122.5 209 123.3 208 124.2 207 125.2 206.0ZM130 206 132 205.8 134 206 136 206.7 137.9 208 139 209 140 210 140.8 211 141.9 213 142.5 215 142.8 217 142.9 219 142.6 221 142 222.5 141.1 224 140.3 225 139.3 226 138.1 227 137 227.8 135 228.6 133 228.8 131 228.5 129.4 228 128 227.4 126 226.1 125 225.3 124 224 123.4 223 122.4 221 121.6 219 121.1 217 121 215 121.6 213 123 211.1 124 210 125 209 126 208.1 127 207.3 129 206.3ZM129.1 208 131 207.4 133 207.3 135 208 136.6 209 137.7 210 138.7 211 139.5 212 140.2 213 141 214.9 141.5 217 141.5 219 141.1 221 140.1 223 139.4 224 138.5 225 137.4 226 136 226.9 134 227.5 132 227.5 130 227 128 226.1 127 225.4 126 224.5 125 223.3 124.2 222 123.3 220 122.6 218 122.3 216 122.8 214 124 212.3 125 211.3 126 210.3 127 209.5 128 208.7ZM130.6 209 132 208.7 133.8 209 135 209.6 136 210.3 137 211.2 138 212.2 139 213.5 139.7 215 140.3 217 140.3 219 140 220.4 139.3 222 138 223.8 137 224.8 136 225.5 134 226.3 132 226.4 130.4 226 129 225.4 127.1 224 126.2 223 125.5 222 124.5 220 124 218.6 123.7 217 123.9 215 125 213.3 126 212.3 127 211.4 128 210.5 129 209.8ZM129.6 211 131 210.3 133 210.2 134.9 211 136 211.8 137 212.8 137.9 214 138.9 216 139.2 218 139 219.8 138.6 221 137.3 223 136.2 224 135 224.8 133 225.3 131 225.1 129 224.1 128 223.4 127 222.3 126.2 221 125.3 219 125 217.4 125.1 216 126 214.2 127 213.2 128 212.2 129 211.4ZM130.6 212 132 211.6 134 211.9 135.6 213 136.6 214 137.3 215 138 216.7 138.2 218 138 219.3 137.4 221 136.7 222 135.7 223 134 223.9 132 224.1 130 223.4 129 222.8 128 221.8 127 220.2 126.5 219 126.3 217 127 215.1 127.9 214 129 213 130 212.3ZM132 213 134 213.4 136 215 137 217 137 218.7 136.6 220 136 221.1 135.1 222 134 222.6 132 222.9 130 222.1 129 221.2 128.2 220 127.6 218 128 216 128.7 215 129.8 214 131 213.3ZM130.7 215 132 214.5 134 214.9 135 215.7 135.7 217 135.7 219 135 220.3 134 221.2 132 221.5 130.7 221 129.7 220 129 218.3 129.1 217 130 215.6ZM131.1 217 133 216.4 134 217.4 134 218.7 133 219.6 131.1 219 131 217.2Z" stroke="#0a0a0a" stroke-width="0.95" fill="none" stroke-linejoin="round"/>
</g>
<rect x="41.05" y="51.30" width="277.85" height="277.25" fill="none" stroke="#454545" stroke-width="1.35"/>
<path d="M51.65,328.6v4.7M91.15,328.6v4.7M130.65,328.6v4.7M170.15,328.6v4.7M209.65,328.6v4.7M249.15,328.6v4.7M288.65,328.6v4.7M41.0,318.63h-4.8M41.0,255.87h-4.8M41.0,193.10h-4.8M41.0,130.33h-4.8M41.0,67.57h-4.8" stroke="#000" stroke-width="1.15" fill="none"/>
<text transform="translate(51.65,345.0) scale(1,1.03)" text-anchor="middle" class="tk">-20</text>
<text transform="translate(91.15,345.0) scale(1,1.03)" text-anchor="middle" class="tk">0</text>
<text transform="translate(130.65,345.0) scale(1,1.03)" text-anchor="middle" class="tk">20</text>
<text transform="translate(170.15,345.0) scale(1,1.03)" text-anchor="middle" class="tk">40</text>
<text transform="translate(209.65,345.0) scale(1,1.03)" text-anchor="middle" class="tk">60</text>
<text transform="translate(249.15,345.0) scale(1,1.03)" text-anchor="middle" class="tk">80</text>
<text transform="translate(288.65,345.0) scale(1,1.03)" text-anchor="middle" class="tk">100</text>
<text transform="translate(31.9,318.63) rotate(-90) scale(1,1.03)" text-anchor="middle" class="tk">-100</text>
<text transform="translate(31.9,255.87) rotate(-90) scale(1,1.03)" text-anchor="middle" class="tk">-50</text>
<text transform="translate(31.9,193.10) rotate(-90) scale(1,1.03)" text-anchor="middle" class="tk">0</text>
<text transform="translate(31.9,130.33) rotate(-90) scale(1,1.03)" text-anchor="middle" class="tk">50</text>
<text transform="translate(31.9,67.57) rotate(-90) scale(1,1.03)" text-anchor="middle" class="tk">100</text>
<text transform="translate(133.2,359.5) scale(1,1.03)" class="ax">average dE<tspan dx="-0.4">(</tspan><tspan class="ph" dx="1.2">φ</tspan><tspan dx="-1.1"> )</tspan></text>
<text transform="translate(11.4,213.9) rotate(-90) scale(1,1.03)" class="ax"><tspan class="dl">δ</tspan><tspan dx="1.4">d</tspan><tspan dx="0.4">F</tspan><tspan dx="-0.2">(</tspan><tspan class="ph" dx="2.0">φ</tspan><tspan dx="-1.9"> )</tspan></text>
</g>
<text transform="translate(180.3,19.8) scale(1,1.03)" text-anchor="middle" class="ti">N-lobe</text>
<g transform="translate(365.4,0)">
<path d="M51.65,51.3V328.6M91.15,51.3V328.6M130.65,51.3V328.6M170.15,51.3V328.6M209.65,51.3V328.6M249.15,51.3V328.6M288.65,51.3V328.6M41.0,318.63H318.9M41.0,255.87H318.9M41.0,193.10H318.9M41.0,130.33H318.9M41.0,67.57H318.9" stroke="#ececec" stroke-width="0.7" fill="none"/>
<g clip-path="url(#clip)">
<path d="M112.4 146 114 145.6 116 145.6 117.2 146 119 146.6 121 147.2 122.2 148 122.5 150 124 151 126 151.7 127.6 153 128.5 155 129.2 156 130 157.3 131 158.1 132.6 159 133.5 160 134 161.3 135 162.6 135.7 164 135.5 166 135.7 168 136.6 169 138 168.6 139 167.9 141 167.2 142.3 168 143 169.5 144 170.7 144.7 172 143 172.9 141 173.5 140.9 175 142 175.9 143.2 176 144 175 145 174.1 146.7 175 147.2 177 147.5 179 149 179.1 151 179.9 151.6 181 152.7 183 153.6 184 153 185.2 152 185.9 151.9 188 153 189.6 153.4 191 153.1 193 154 194 154 195.5 153 196.2 152.2 198 152.9 199 153.1 201 152.3 202 151.1 204 150 206 148.6 207 148.4 209 148 210.8 147.5 212 146 213 144 212.1 142.6 212 141 212 139 213 139 214.5 139.4 216 139 217.9 137 218.4 135 218.1 133.1 218 132 218.6 131.7 220 131 221.3 129.9 222 128 222.4 127 221.6 126.9 220 126 218.3 125 219 124 220.6 122 220.6 121 219.3 119 218.8 117 218.9 115.2 218 114 217.8 113 218.7 112 219.8 110 219 109 218.3 107.8 218 106.7 217 107 215 107.3 213 107.5 211 107.9 209 107 207.7 105.5 209 104.7 210 104.2 212 103 213 102.8 211 102.8 209 102 207.3 100.9 208 100.5 210 99 211.8 98 212.8 97.3 214 97.7 216 98 218 100 218.7 101.6 219 101 220.8 100 221.9 99.1 224 98 223.4 97.5 222 97 220.2 96.6 219 95.3 219 94 220 93 220.7 91.5 220 90 219.8 89 220.9 88.5 222 88 223.3 87 224.1 85.2 223 84 222.3 82 221.8 80 222.6 78 222.3 77.4 221 78.6 219 78 217 77 217.6 75 217.3 74.2 216 74.5 214 75 212.9 76 212.1 78 211.4 78.1 210 77 209 76 208.3 75.1 207 75.8 205 77 204.3 78.7 203 79.9 201 80.5 199 81.7 198 82.9 197 84 196.3 86 196.2 88 195.3 89 194.6 90 193.5 91 192.2 91.4 191 91.8 189 93 188.1 94 187.2 93 186.5 92 185.5 91.9 184 93 183 95 182.2 95.9 181 96.7 179 96.8 177 97.8 176 100 175.8 102 175.8 103.9 175 104.1 177 105 178.3 105.9 180 107 181.6 108 182.5 109 183.7 109.8 185 110 186.2 111 187.2 113 187.5 114.7 187 116 186.5 118 186.9 119.7 186 120.6 185 121.4 184 122.2 183 121.5 181 121.5 179 122 177.1 122.8 176 122 174 121.6 172 120 171.5 119 172.5 118 173.4 116.3 174 115 174.5 114 175.2 112.8 176 112 177.5 110 177.2 109.7 176 110.4 175 111.2 173 112 171.7 113.4 171 113 169.4 113.5 168 113.5 166 112.5 165 111 164.7 110 166 109 167.5 107.6 168 106 169 105.1 167 104 165.4 103 164.3 102 163.6 100.3 162 101 160.3 101.9 159 101 157.2 99.6 156 101 155.7 102.1 155 103.8 154 105 153.4 106.3 152 106 150 107 148.7 108 147.6 109.2 147 110.8 147 112 146.1ZM105.5 172 107 171.9 107 173.5 105.8 174 104.4 174 105 172.5ZM125 174.7 123.3 176 124.6 177 126 176.3 126 175.0ZM116 190.3 115.9 192 115.9 194 117.2 193 117 191.3ZM79.8 225 81 224.4 83 224.8 85 225.9 86.7 227 88 228.4 89.3 229 89 230.4 88 231.3 86.4 231 86.1 229 85 228.3 83.2 228 81 228.3 79.6 228 78.6 227 79 225.8Z" fill="#c3c3c3" stroke="#c3c3c3" stroke-width="0.8" fill-rule="evenodd"/><path d="M90.8 100.5h0m-.1 6.5h0m-7.3 6.4h0m4.4-2.6h0m.2 1.7h0m1.9 1.1h0m12.7-5h0m1.3 2.7h0m1.1 1.2h0m12.2-.8h0m14 7.1h0m-12.6-4.6h0m-2.8 4.3h0m-3.6-2.7h0m-1 2.9h0m-3.2-2.2h0m-1 2.9h0m-5.2-4.8h0m-.2 5.2h0m-.7-3.8h0m-.1 1.8h0m0 1.1h0m-.2-2.2h0m-.6 1.8h0m0-4.1h0m-1.4 5.1h0m-.3-.8h0m-.1-3.4h0m0 4.4h0m-.6-5.3h0m-.8 4.2h0m-.7-2.7h0m-1.3 2.6h0m-.7-3.4h0m-.5 2.4h0m-.1-.3h0m-.5-1.2h0m0 2.2h0m-.8-1.8h0m-.3-2.2h0m-2.1 5.6h0m-.1-5.5h0m-.6 1.5h0m-1.9 1.3h0m-.4 1.2h0m-5.9 .1h0m0 .8h0m-4.6 4.7h0m.4 .5h0m4.3-3.6h0m2.3-.2h0m.4 .2h0m.1 5.1h0m1.7-.3h0m.7-4h0m.6-1.3h0m0 5.3h0m.9-.5h0m.2-3.5h0m.4-1.5h0m1 3.1h0m.7-1.6h0m.3 .8h0m.3 2.1h0m.2 .6h0m.1 .6h0m1.3 0h0m0-2.4h0m.2-.9h0m.1 2.9h0m.1-3h0m1 3.5h0m.1-.1h0m1.3-.7h0m.5 .5h0m.4-2.6h0m.4 .1h0m.9 1.4h0m.6-3.5h0m.8 5h0m.1-2.7h0m1.3 .7h0m.6 .4h0m.3-1.4h0m.2 2.1h0m.2-3.5h0m.6 2.8h0m2-1.2h0m.8-3h0m.6 .8h0m.2 4.5h0m1.1-4.5h0m.3 3.6h0m1.3-1.1h0m.5 1.8h0m.1 .2h0m.7-1.1h0m1 1h0m1.8-1.4h0m.8-2.2h0m.7 4.2h0m.8-.2h0m2.4-2.9h0m6.5 3.1h0m4.5-1.2h0m1.1 .2h0m1.9-.6h0m.8-.9h0m4.9 2h0m25.3 5.9h0m-15.8-2.9h0m-6.4 2h0m-1.8-2.6h0m-4.5-1.8h0m-.2 1.8h0m-.2 1.8h0m-.7-1.8h0m-1.1 .5h0m-.8-.5h0m-.8 4.1h0m-1.9-2.9h0m-.4 .1h0m0-.2h0m-.1 1.1h0m-.5-.8h0m-.5 .6h0m-2-1.1h0m-.1 2.5h0m-.3-3.7h0m-.5-.6h0m-.1 3.8h0m-.1-3.1h0m-.1 3.4h0m-.1 .8h0m-.7-3.1h0m-.5-.3h0m-.1-.9h0m0 3.4h0m-1.5-4.6h0m-.2 3.7h0m-1.6-.8h0m-.1 .2h0m-.1-2.5h0m0 4.6h0m-.3-3.7h0m-.1 .7h0m-1 3.1h0m-.7-2.5h0m-.1 .2h0m0-.1h0m-.3 .2h0m-.5-2.4h0m-.5 4.1h0m-.2-1.3h0m-1.1-.7h0m-.5-.7h0m-.1 3.5h0m-.2-.5h0m-.4-3h0m-.1-.8h0m-.1 3.9h0m-.3-1.8h0m-.5-1.4h0m-.1 1.4h0m-.3-2.3h0m0 1.3h0m-.6-1.7h0m0 3.8h0m-1.3 .7h0m-.1-2.2h0m-.5 1.1h0m-.2 1.2h0m-1.2 0h0m-.2-4.7h0m-.2 4.2h0m-.1-4.3h0m-.2 1h0m-.2 3.8h0m-1.1-4.1h0m0 1.4h0m-.2 2.8h0m-1-2.4h0m-1.6 2h0m-.7-5.1h0m-.5 .3h0m-.9 .6h0m-.1-.9h0m-1 .2h0m-.1 2.8h0m-.6-.1h0m-.9-1.1h0m-.6 2.8h0m-.1 .8h0m-.1 .2h0m0-4.9h0m-.1-.3h0m-.9 4h0m-.3-2.7h0m-.3 2.7h0m-.3 .5h0m-.2-3.9h0m-.5 .7h0m0 .5h0m-.3 2.4h0m-.5-4.3h0m-.2 5.1h0m-.1-5h0m0 2.7h0m0 0h0m-.3-.2h0m-.1 2.5h0m-.1-1.2h0m-.1-3.6h0m-1.2-.4h0m-.1 1h0m-.6 3h0m-.3-1.1h0m-.4 1.1h0m-.3 .9h0m-1-4h0m-.1 1.1h0m-.1-1.6h0m-.2 4.9h0m-.3-.6h0m-.7 .6h0m-2.2-2.6h0m-.5-2.2h0m-.5 4.9h0m-.1-4.6h0m-.6-1.1h0m-.1 4.8h0m-1.2-3.1h0m0 0h0m-.7-1.8h0m-.3 5.9h0m-.9-1.9h0m-.1-3.6h0m-.5 2.2h0m-2.1 1.3h0m-.5-2.6h0m-.9 4h0m-.4-4.2h0m-.9 2.5h0m-3.1-3.2h0m-2.5 3.4h0m-.9-.3h0m4.4 6.1h0m2.4-.4h0m.4 .4h0m1.3 .9h0m2.9-2.2h0m1.1-1.8h0m.2-.2h0m.1 4h0m.6-3.4h0m2.5 1h0m.4 2.6h0m.9-4.3h0m0 .1h0m1.2 4.6h0m.1 .8h0m.8-5.1h0m.2 3.7h0m0-.7h0m.1-.7h0m1.4-1.4h0m.6 3.3h0m.4 1h0m.4-.5h0m0-3.3h0m.1-.6h0m1.3 2.3h0m.6-1.3h0m.1 2h0m.7 0h0m.1-3.3h0m.4-.4h0m.3 3.2h0m.9-.7h0m.1 .2h0m.1-.9h0m.2-.7h0m.1-1.4h0m.3 .3h0m.2 1h0m.3-1.4h0m.5 3.3h0m.5-2h0m.3 2.2h0m.1-.2h0m.2-.2h0m0 1.2h0m.1 .3h0m.7 .3h0m.2-2.8h0m.1-1.2h0m.3 1.6h0m1.9-2.4h0m.2 3.9h0m.3-1.1h0m0 2.2h0m0-1.2h0m.1 .1h0m.2 1.6h0m1.5-.4h0m.2-3.7h0m.6 .7h0m.1-.2h0m.2-1.1h0m0-.5h0m.7 4.5h0m.1-3.1h0m.1 3.3h0m.2-.9h0m0-3.5h0m.1 .5h0m.7 2h0m.2 1.8h0m.3-3.7h0m.3 3.2h0m.4 0h0m.2-1.3h0m.5-.8h0m0 2.9h0m.6-1.7h0m.6-2.3h0m.3 3.8h0m.5-4.9h0m.3 .8h0m.2 2h0m.3-.4h0m0-2h0m.2 4.2h0m.1-.3h0m.7-3.4h0m.1 3.5h0m.3-3.9h0m.3 2.1h0m.7-.6h0m.3 3.2h0m0-3.9h0m.2-1.5h0m1.1 5.3h0m.4-1.7h0m.4-1.6h0m1.1 1.3h0m.5 1.7h0m.5-.4h0m.1-3.9h0m.1 2.7h0m.5-.4h0m.4-.1h0m.4-2.6h0m.5 3h0m.4-1.2h0m.7 3.5h0m.1-.8h0m.4-3.6h0m.2 1.2h0m3.4-1.2h0m.3 2.1h0m.1-2.8h0m1.2 2h0m.9 2.7h0m.2-2.3h0m.8 1.6h0m2.3 1.1h0m2.1-1.9h0m.3-1.2h0m.2 1.3h0m.1-4h0m.5 3.8h0m6.7-1.1h0m6.1-.6h0m4.7-1.9h0m-6.1 5.9h0m-4 .6h0m-3.6 .9h0m-.4-1.2h0m-1.4 3.9h0m-1 .6h0m-4.1-3h0m-2.9 3.9h0m-.5-2.6h0m-.7-.2h0m-1.5-2.4h0m-.7 2.7h0m-.5-3.2h0m-.6 5h0m-.4-4.5h0m-.5-.3h0m-.3 1.9h0m-.1 3h0m-.8-4.1h0m-.1 2.7h0m-.1 .9h0m-.1-.9h0m-.6-3.4h0m0 4.7h0m-.5-4.4h0m-.1 2.1h0m-.1 1.2h0m-.1-4.1h0m-.2 .1h0m-.4 4.9h0m-.2 .5h0m-.1-3.1h0m-.3 1.6h0m-.6 1.4h0m-.2-.9h0m-.1 1.2h0m0-5.5h0m-.4 4.8h0m0-3.3h0m-.3 3.4h0m0-3.8h0m-.3 3.1h0m-.4 .1h0m0-4.2h0m-.3 .7h0m-.1 2.5h0m-.3-.9h0m-.6-2.2h0m-.3 0h0m-.2 1.2h0m-.2 2.9h0m-.3-2.2h0m-.9 2h0m-.1-3.2h0m-.2 4.6h0m0-1.3h0m0-2.8h0m0-.4h0m-.1 .6h0m0 2.2h0m0-3.1h0m-.6 1.3h0m0 3.3h0m-1-.3h0m-.1-.7h0m0 .6h0m-.1-4.5h0m0-.3h0m-.3 2.1h0m0 .9h0m-.1 .4h0m-.4 .1h0m-.1-2.4h0m-.3 1h0m-.1 0h0m-.4-1.8h0m-.3 3.9h0m-.4-.2h0m-.1-1.7h0m-.2-1.1h0m-.4 3h0m-.1-1.2h0m0-.8h0m-.2-2.2h0m-.1 5.3h0m-.8-3.5h0m-.1 3.3h0m-.6-2h0m0 .1h0m-.1 1.4h0m-.1-4.1h0m-.5 4.2h0m-.1-2.4h0m-.2-2.1h0m0-.2h0m-.1 3.9h0m-.2 1.1h0m-.4 .3h0m-.2-3.6h0m-.2 .4h0m-.1 1.5h0m-.1 1.3h0m-.4 .5h0m0-3.7h0m-.1 .1h0m-.6 1.7h0m-.6-1.7h0m-.3 3.3h0m-.8-4.8h0m-.6 5.1h0m-.4-2.7h0m-.2 2.7h0m-.3-4.1h0m-.5 3.8h0m-.3-4.7h0m-.5-.1h0m-.4 4.2h0m-.1 1h0m-.1-2.4h0m-.9-.5h0m-.1-.1h0m-.2-.5h0m-.3-2.2h0m-.5 2.1h0m-.3 .2h0m-.5 3h0m-.7-2.2h0m-.1-.1h0m-1-2.2h0m-.5-.1h0m-1.6 1.3h0m-.6-.8h0m-.3 1.6h0m-1.3 2.9h0m-.1-3.7h0m-.4 2.8h0m-.4-1h0m-1.5-3.9h0m-.6 4.3h0m-.2-1.1h0m-2.4 2.5h0m-1.4-3.8h0m-1.2-.6h0m-1.6 2.6h0m-.8-.4h0m-.4-1h0m-2.1-1.5h0m-8.6 1.8h0m-1.5-2.3h0m-2 .4h0m2.3 9.5h0m7-2.9h0m10.8 2.4h0m.6 2h0m.6-4.9h0m.6 3.9h0m1.8-2.4h0m.7 .9h0m.8-3.1h0m.1 2.6h0m.2 1.8h0m.3-4.4h0m.1 0h0m.8 4.2h0m.7-1.8h0m1.4-2.6h0m.3 4.5h0m.6-3.3h0m1.1 2.1h0m.6-1.8h0m0-.2h0m.2 3.4h0m1.5-.3h0m0-3.8h0m.2 5.1h0m.1-2.1h0m.2-.7h0m.4 2.2h0m.7-4.5h0m0 .7h0m.2 4.4h0m.3-1.6h0m.1-4h0m.6 1h0m.1-.4h0m.4 .3h0m0 4.8h0m0-1.8h0m0-1h0m.1 1.1h0m.1 1.2h0m.1 .5h0m.5-3.3h0m.4-1.3h0m.3 3.7h0m0 .8h0m.3 .1h0m0-5.1h0m.3 3.9h0m0-1.7h0m.3 1.7h0m.2-.8h0m.1 .9h0m0-1.9h0m0 2.4h0m.1-1.9h0m.2 .9h0m.3 .2h0m.3-2.8h0m.1 .4h0m.2 1h0m.1-2.4h0m0 4.4h0m.1 .5h0m.2-1.7h0m.3 1.8h0m0-2h0m.2 1.4h0m.4-2.8h0m.1-1.2h0m.4 3.9h0m.2-3.5h0m0 4.4h0m0-1h0m.3 .3h0m.2-2.9h0m0-1.2h0m.4 2.5h0m.1 2.1h0m0-4.8h0m.1 4.1h0m.2-.6h0m0-4.1h0m.3 3.1h0m.2 .7h0m.1 .9h0m0-3.1h0m.2 2.8h0m.1 .5h0m.2-4.3h0m.1 3h0m.1-1.1h0m.1 .9h0m.1-1.9h0m.1-.1h0m.1 1.4h0m0 2.4h0m.1-3.4h0m.1 1.1h0m0-1.8h0m.1-1h0m.1 2.5h0m.2 .4h0m.2-.5h0m.2 2.6h0m0-1h0m0 .1h0m.5-.7h0m.3 1.9h0m.2-3.7h0m.2 2.4h0m0-3.5h0m0 4.9h0m.2-4.5h0m0 4.4h0m0-.9h0m.1-4.2h0m.1-.4h0m0 4h0m.1 .8h0m.1-1.9h0m.2 1.2h0m0 1.3h0m0-3h0m.3-1.1h0m.3 1.8h0m.1-2h0m0 .4h0m.2 1h0m.2-1.4h0m.3 1.7h0m.1-1.7h0m.7 .7h0m.1-1.1h0m0 .4h0m.8-.5h0m.1 .7h0m.5 .2h0m.1-1.4h0m.2 1.7h0m.5-.6h0m0 1h0m.2-.9h0m.1-.3h0m.2-1.2h0m0 2.8h0m.4 .6h0m.1-.8h0m.4-1.6h0m.4 2h0m.2-.9h0m.1-.4h0m.2 1.7h0m.3-1.1h0m.3-1.1h0m.2-.2h0m.3 .5h0m.2-.8h0m.3 2.9h0m.6-2.5h0m0 1.7h0m.2 2h0m0-3.8h0m.4 3.3h0m.1-.4h0m.1 .2h0m.2 .3h0m.1 0h0m0-3.7h0m.2 .9h0m.1 2.7h0m0-.8h0m0 .3h0m.1-2.3h0m.2 1.6h0m.2 1.4h0m.4-2.7h0m.2 3.5h0m0-3.3h0m.2 3.2h0m.3-3.8h0m.1 1.4h0m0 .1h0m.7 3h0m0-2.9h0m.6 2.7h0m.2-1.7h0m.1-1.8h0m0 2.1h0m1.1-2.2h0m.1 2.2h0m.4-.4h0m0-2.8h0m.1 3.4h0m.2-1.1h0m.3-1.6h0m.4-1.3h0m.1 2.3h0m.6 1.7h0m.7-4h0m.4 3.2h0m.4 .2h0m.2-1h0m1.2 1h0m0 .4h0m.7 1.1h0m1-1h0m1.4 .1h0m.1-1.3h0m.5-2h0m.7 1.5h0m.7 1.7h0m.1-1.3h0m.3 .8h0m3.2 1h0m3.3-4.5h0m6.2 3.2h0m7.2 7.9h0m-5.5-3.1h0m-1.1 2.6h0m-4.2-2.9h0m-.6 2h0m-1.2-2.1h0m-1 2.8h0m0-2h0m-1 1.5h0m-.4 .6h0m-.4-3.5h0m-.4-1.3h0m-.8 4.4h0m-.5 1.4h0m-.5-.8h0m-1 .3h0m-.2-3.3h0m-.2 3.2h0m-.5-2.1h0m0-2.7h0m-.2 3h0m-.1 2.2h0m-.7-5.4h0m0 4.8h0m-.2-4.4h0m0 1.4h0m-.2 2.3h0m-.2 .5h0m-.5-3.4h0m-.1-.3h0m-.2 4h0m-1.3-2.3h0m-.3 2.7h0m-.1-3.6h0m-.2-.1h0m-.6-1.8h0m-.1 5h0m-.1-1.4h0m-.1 .3h0m0-1h0m-.1-1h0m-.1 3.9h0m-.4-4.5h0m-.1 2.6h0m-.2-2.5h0m0-1.3h0m-.4 2.1h0m-.1 2h0m0 1.1h0m-.2-1.3h0m-.6-3h0m-.3 2.6h0m-.2-1.6h0m0 .2h0m-.1 1.5h0m-.3-1.6h0m-.2-.8h0m-.1-1.1h0m-.1 4.7h0m-.4-.5h0m-.2-1.8h0m-.2 .7h0m0-3.4h0m-.1 3.6h0m0-1.4h0m-.1 2.7h0m-.2-.7h0m-.3-2.3h0m0-.4h0m0-1.5h0m0 .6h0m-.1 1.9h0m-.1 0h0m-.2-1.7h0m-.1 2.4h0m-.1-2.1h0m-.4 .5h0m-.4 .7h0m-.9-.2h0m-.9-.8h0m-.8 .1h0m-.6-.3h0m-.6-1.1h0m-.9 .2h0m0-.2h0m-.3 .2h0m-.3-.2h0m-8.1 2.5h0m-.1-.8h0m-.7-.2h0m-.1 .1h0m-.1-.4h0m-.1-.2h0m-.1 1h0m-.3 .4h0m-.3-.2h0m-.3 .2h0m-.1-1.4h0m-.3-.8h0m-.2-.1h0m-.6 2.6h0m0-2.5h0m-.1 2.6h0m-.3 .3h0m-.2-1.6h0m0 .7h0m-.1 3h0m-.1-2.6h0m0-1.9h0m0 2.7h0m-.1-2h0m-.1 .1h0m-.1 3.8h0m0-.9h0m-.1-2.1h0m-.3-.5h0m-.1-1.1h0m-.1 3.3h0m-.1 .8h0m-.2-.9h0m0-1.6h0m-.1-2.3h0m-.1 3.7h0m-.1-1h0m0 2h0m-.1-3.6h0m-.2-.7h0m0 2.9h0m-.1 1.8h0m-.1-3h0m0-1.7h0m-.1 5.4h0m-.1-3.2h0m-.3 2.5h0m0-1.5h0m-.4-3.6h0m0 5.9h0m-.1-5h0m0 2.1h0m-.2-1h0m0 2.6h0m-.1-1h0m-.2-1.9h0m0 3.6h0m-.3-.3h0m0-2.1h0m-.1 2.6h0m-.3 .4h0m-.1-.2h0m-.1-4.5h0m0 1.9h0m-.1-.6h0m0 3.3h0m-.1-3.7h0m-.1-1.6h0m-.1 1.3h0m-.1 2.8h0m-.1-2.7h0m-.1-1.4h0m0 1h0m-.1 2.8h0m0-4.3h0m-.1 4.6h0m-.1 1.1h0m0-1.9h0m-.2-1.9h0m-.1-1.1h0m-.1 5.1h0m-.3-2h0m0 .7h0m-.6 .9h0m-.2-2.1h0m-.2-2.9h0m-.1 .9h0m-.1 1.6h0m-.2 2.9h0m-.2-.1h0m-.1-2.3h0m-.1-2.2h0m-.3 4h0m0-3.8h0m-.1-1.3h0m0 2h0m-.1 1.6h0m0 1.8h0m0-3.8h0m-.1-.1h0m0 3.1h0m-.3-.2h0m-.4-1.2h0m-.1-1h0m-.4 2.8h0m-.1-1h0m-.3-.5h0m-.3-3.7h0m-.1 .4h0m-.1 2.4h0m-.1 3.1h0m0-1.9h0m0 .1h0m-.4-2.5h0m0 .5h0m-.2 2.8h0m0-2.4h0m-.2 3.4h0m0-4.8h0m-.4-.3h0m0 4.1h0m-.2-.5h0m-1.7 1.4h0m-.4-.9h0m-.1-1.1h0m-.5 2.1h0m-.5-5.6h0m-.3 4.6h0m-.4-3.1h0m-.1-1.3h0m-.4 5h0m0-.4h0m-.3 .2h0m-.2 .5h0m-.5-2.8h0m-1 1.2h0m-1-4.2h0m-.5 1.6h0m-.4-.2h0m-.1 1.6h0m-.4 1.3h0m-.2 1.3h0m-.4-.5h0m-.2-2.6h0m-1.8 1.7h0m-6.5-.3h0m-1.3 3.9h0m3.8-.9h0m3.4-.6h0m1 5.1h0m1.6-3.6h0m1.2 3.1h0m1.2-1.2h0m.1 2.2h0m.1-4h0m1.5-1.1h0m0 .7h0m.5 1.9h0m.5 1.3h0m.4-3.4h0m.3 1.1h0m.5 3.2h0m0-3.6h0m1.1-1.4h0m.2-.4h0m.3 2.8h0m.3 .2h0m.2-.6h0m.2-1.1h0m.2-1.4h0m.1 5.5h0m.1-3.1h0m.4-.6h0m.4 3h0m0-.7h0m.1 1h0m.1-4h0m.3 2h0m.3-3.2h0m0 2.2h0m.1-.7h0m.1 3.4h0m.1-2.8h0m.3-1.2h0m.1 .4h0m.2 1.7h0m.2 1.5h0m.3-1.5h0m0-2.1h0m0-.6h0m.2 5.3h0m.1-4.5h0m.3 1.2h0m.3 3.1h0m.1-.6h0m0-.8h0m.2-2.8h0m0 3.3h0m.1-3.8h0m0-.4h0m.2 2.9h0m.1-1.8h0m.4 2h0m0 2h0m.3-3.4h0m.1-.2h0m0-1.8h0m0 2.3h0m0 .8h0m.2 2.6h0m0-1.6h0m.1-3.7h0m0 3h0m.2-1.1h0m0 1.8h0m.3 .6h0m0 .9h0m0-.5h0m.6-3.9h0m.1 3.3h0m0-2.6h0m.1 .1h0m0 3.2h0m.2 .3h0m.1-5.2h0m0-.3h0m0 3.1h0m0-.2h0m.3-1.4h0m.1 1.9h0m0 2.1h0m.2-1.2h0m.3-3.8h0m0 2h0m.2-2.1h0m.2 4.1h0m.2-.4h0m.2 .5h0m.2-1.1h0m.1 1.1h0m0-1h0m0-1.6h0m.2 .4h0m0-1.1h0m0 3.9h0m.2-1.8h0m.1-2.3h0m.2 3.8h0m0 .1h0m.1-4.2h0m.1 .4h0m.2 .3h0m0-1.2h0m.2 1.9h0m0-.2h0m0 .1h0m.1 3.8h0m0-4.7h0m.2 3.5h0m.1-3.3h0m.1 1h0m.2 0h0m0 1.4h0m.1 1.5h0m.2-1.7h0m0-2h0m.2 2.6h0m0-2.5h0m0 .5h0m0 2.8h0m.3 .9h0m.1-3.2h0m0 3.2h0m0-2.3h0m.7 1h0m0-.1h0m.1 1.2h0m.1-1h0m.4 1.2h0m.5-2.1h0m0 1.6h0m.1 0h0m.3-2.2h0m.1-.2h0m.1 2h0m.1-2.1h0m0 .7h0m.8 .1h0m17.6-3h0m.2 .7h0m.2-.9h0m1.1 .8h0m0-.7h0m0-.2h0m.4 1.9h0m.5-1.3h0m.4-.9h0m.2 3h0m.1 .4h0m.2-1.6h0m.2 .5h0m.1 .3h0m.3 1.4h0m.1-.1h0m.2 1.1h0m.2-1.6h0m.4-3.4h0m0 4.7h0m.2 1.1h0m.4-4.5h0m.1-.4h0m.4 .8h0m0 2.9h0m.5-.8h0m.1 .6h0m.1 1.4h0m.2-2.6h0m.2 2.6h0m.1-3.1h0m.3-2.2h0m.1 2.6h0m.6-.9h0m.1 3h0m.7-.9h0m0 1.5h0m.1-5.5h0m0 1.4h0m.3 3.1h0m.1-3.7h0m.2 3.1h0m.1 .7h0m.2-3.9h0m0 3.4h0m.3-1.3h0m.8-2.3h0m.2 4.7h0m.2-4.7h0m0 2h0m.1 1h0m.5 2h0m.1-3h0m.1 2.2h0m.8 .7h0m.6-4.3h0m.3 3.1h0m.1-2.1h0m.7 .4h0m1 2.3h0m.6-3.6h0m.3 3.9h0m.7-3.9h0m.4 .5h0m.1 3.6h0m.3-2.2h0m0-2.4h0m.1 4.6h0m.4-4.9h0m.8 3h0m.2 .8h0m0 .3h0m.9-4.6h0m1 4.6h0m1.9 .6h0m3.2-1.9h0m6.3-3.4h0m3.5 2.2h0m7.8-1.5h0m-2.4 7.9h0m-2-1.8h0m-11.5 .4h0m-.4 1h0m-2.4 2.3h0m-.3-4.5h0m-.2 2.4h0m-.1 2.6h0m0-1.5h0m-.5 1.4h0m-1-2.5h0m-.2-1.7h0m-1.3 .9h0m-.4 2.2h0m-.6 1.7h0m-.5 .2h0m-.2-5h0m0 2.1h0m-.3-.8h0m-.7 2h0m-.4-3.2h0m-.2 .3h0m-.6 4.4h0m-.4-5h0m-.1 2.4h0m-.2 2.4h0m-.8-4.5h0m0 3.5h0m-.8 1.2h0m-.1-3.2h0m-.3 1.2h0m-.1-1.1h0m0-1.4h0m-.1 3.4h0m-.2-1.6h0m-.5-.2h0m-.1 2.9h0m-.1-.9h0m-.2-3.5h0m0 1.9h0m-.3 2.2h0m-.5 .2h0m-.3 0h0m-.1-1.3h0m-.1 0h0m-.2 .4h0m-.2-4.7h0m-.2 1.9h0m0-1.2h0m-.1 .8h0m-.1 1.2h0m0 0h0m0 1.9h0m0-4.3h0m-.6 4.7h0m-.6-2.9h0m-.1 1.9h0m0-2.3h0m0-.1h0m-.1-.6h0m0 2.9h0m-.3-2.9h0m-.1 3.3h0m-.1 0h0m-.1-3.2h0m-.7 4.2h0m0-4.3h0m0 3.1h0m-.1-.7h0m0 2.2h0m-.5 0h0m-.1-4h0m0-1.1h0m-.2 2.1h0m-.1-.4h0m-.1 3.6h0m-.2-4.7h0m0 3.9h0m-.3-.8h0m-.3-2.7h0m0-1.3h0m-.1 3.4h0m-.1-.9h0m0-1.6h0m-.2 .2h0m-.1 2.2h0m-.2-3.4h0m-.1 3h0m-.2-1.1h0m-.4 3.1h0m0-.8h0m0-2.2h0m0-.7h0m-.1 4.5h0m-.1-4.2h0m-.1 2.7h0m-.1 .2h0m-.4-1.5h0m-.1 1.2h0m-.2-2.9h0m-.1 2.1h0m0-.7h0m0 1.8h0m-15.5 1.2h0m-.5-.2h0m-1.3-.4h0m-.2-.5h0m0 .1h0m0 1.1h0m-.5-.6h0m-.2-1h0m0 1.2h0m-.4 .4h0m-.1-.6h0m-.1-.7h0m-.4-.7h0m-.3 1.8h0m0-2.8h0m-.4-.2h0m-.2-.1h0m0 3.3h0m-.5-2.1h0m0-.9h0m0 .7h0m-.6 .6h0m-.2 1.2h0m-.2-4.2h0m0 1h0m0-1.4h0m-.1 3.5h0m0-1.8h0m-.4 3h0m-.1-.2h0m0-4.5h0m0 1h0m-.2-1.3h0m-.1 4.9h0m-.2-1.9h0m-.1-2.2h0m0 4h0m0-4.4h0m-.2 .8h0m-.3 1.4h0m-.1 1.8h0m-.3-.3h0m-.1-3.8h0m-.1 1.4h0m-.1-.6h0m0 3.9h0m-.1-.2h0m-.1-2.2h0m-.2-.3h0m-.1-2.2h0m0 3h0m-.1-2.1h0m-.1 .3h0m-.2 3.6h0m0-.2h0m-.2-.1h0m0-1h0m-.2 .1h0m-.1 1.3h0m-.1-3.7h0m0 2.6h0m-.1 1.4h0m-.1-4.3h0m0 .5h0m0-1.7h0m-.1 .9h0m-.1 .1h0m-.1-.4h0m0 2.5h0m-.2-1.9h0m-.1 3.1h0m-.4-1.2h0m0-3.2h0m-.3 4h0m0-.4h0m0 1.9h0m-.1-2.2h0m-.2 .7h0m0-1.5h0m-.2 1.8h0m-.2-2.9h0m0 .6h0m0 1.5h0m-.2 .1h0m-.1-.5h0m0 .7h0m0 1.6h0m-.1-1.4h0m0-2.3h0m-.1-1h0m0 2.1h0m-.2 .1h0m0-1.6h0m-.1 .9h0m-.1 1.8h0m0 1.1h0m0-4.5h0m-.1 .4h0m0-.5h0m-.5 1.5h0m-.2 .9h0m0 0h0m-.5-.2h0m-.3 1.7h0m-.1-1.3h0m0 2h0m-.1-4.3h0m-.5 2.7h0m-.1-2.3h0m-.2-.6h0m0 2.7h0m-.1 2.2h0m-.2-3.6h0m0 .3h0m-.1-2.3h0m-.1 3h0m-.1 2.3h0m-.1-5.2h0m-.5 5.1h0m0 .1h0m-.1-1.3h0m-.2-3.7h0m-.4 .2h0m0 1.2h0m-.1-1.5h0m-.2 2.1h0m0 .8h0m-.1-1h0m-.1-1.4h0m-.2-.6h0m-.1 1h0m-1 3.7h0m-.1-4.7h0m0 1.6h0m-.3 3.2h0m-.1 .9h0m-.2-4.4h0m0 2.4h0m-.2-3.1h0m-.2 3.2h0m-.2 .4h0m-.1 1.2h0m-.1-.5h0m0-3.2h0m-.1 1.4h0m-.4 .2h0m-.3 .9h0m-.3-.9h0m-.2-.7h0m-.1-2h0m-.3 1.5h0m0 .4h0m0 2.7h0m-.1-4.9h0m-.5 3.3h0m-.1-.8h0m-.1-2.7h0m-.3 5.5h0m-.8-.5h0m-.1-1.2h0m0 1.2h0m-.2-3.9h0m0-.9h0m-.7 2.3h0m-.1-1.6h0m-.1 2.5h0m-.4-2.7h0m-.7 2.4h0m-.3 1.9h0m-.2-1.8h0m-.1 1.4h0m-.1-4.6h0m-.4-.1h0m-.3 2.2h0m0 1.2h0m-.3-.6h0m-2.2 2.9h0m-.6-2.3h0m-1.2-1.4h0m-.4 0h0m-.2 2.5h0m-4.3 0h0m-.3-1.6h0m-2.1-3.1h0m-11.1 9.8h0m.4 .7h0m12.2-2.7h0m7.7-1.2h0m.4 4.1h0m.6 .5h0m.5-4.7h0m.2 4.2h0m.1-1.1h0m.1 2.2h0m.1-3.8h0m.4 1.4h0m.1 .3h0m.2-.3h0m.5-.9h0m.5 1.1h0m.1-3.2h0m.6 2.6h0m.1-.1h0m.1 .1h0m0-2.9h0m.1 4.6h0m.5-1.6h0m.3-2.4h0m.5 1.3h0m.1 .2h0m.2-.2h0m0 .8h0m.3 1.9h0m.1 1.2h0m.4-4.7h0m.1 1.6h0m.1 2.8h0m.3-5.3h0m.4 4.4h0m.3-.5h0m.3-.1h0m.4-.6h0m.1-1.3h0m.1 2.9h0m.4-2.4h0m.1 2.1h0m.1-1.2h0m0-3.4h0m.3 2h0m.1 2.9h0m.1-1.9h0m.1-2.9h0m.1 2.1h0m0-.2h0m.1 2.1h0m.1-.3h0m0-3.7h0m.2 4.9h0m.3-4.1h0m0-.1h0m0-.9h0m.1 .4h0m0 1.1h0m.1 2.1h0m0-.9h0m0 1.7h0m.1-.1h0m.4-2.4h0m0 3.6h0m0-5.1h0m.1 1.7h0m.2-.1h0m.1 1.6h0m0 1.7h0m.3-.1h0m.1-3.2h0m.2 2.9h0m.7-2.8h0m0-.6h0m0 1.2h0m.3-2h0m.1 1.6h0m.2 .5h0m0-.5h0m.3 3.2h0m.1-3.2h0m.1 2.5h0m.5-3.5h0m.3 2.9h0m.2-.7h0m.4-.7h0m.1 2.9h0m.1-4.8h0m.1 3.9h0m0-2.4h0m0 2.7h0m.2 .3h0m.2-1.2h0m0-4h0m.3 3.3h0m.2-3.2h0m0-.1h0m.1 1.3h0m.1 .1h0m.2-1.4h0m0 1.2h0m.1 2.8h0m.2-2.1h0m0 3.4h0m0-.6h0m.1-.2h0m.2-2.7h0m0 3.1h0m0-1.7h0m.1-.3h0m.2-3.1h0m.2 3.5h0m.1-2.2h0m0 .2h0m.1 4.1h0m.1-.1h0m.1-2.8h0m.2-2.2h0m0 4.3h0m.2-4.8h0m.1 3.3h0m0-1.1h0m0 1.7h0m.1 .7h0m.1-2.3h0m.3 .5h0m.2 1.8h0m.1 .3h0m.1-.3h0m0-2.8h0m.2-1.8h0m0 4.2h0m.1 .8h0m0-3.8h0m.1 .3h0m.5 3.3h0m.5-3.8h0m0 1.8h0m.5 1.8h0m.3 1.1h0m0-4.7h0m.1 .1h0m0-.6h0m.2 2h0m0-.5h0m.2-1.2h0m.1 2h0m0 1.1h0m.1-.6h0m.3 1.2h0m.2 .3h0m0 .1h0m0 .3h0m.1-3.2h0m.1-.5h0m0 4.3h0m.2-2.3h0m.2 .3h0m.1-.9h0m.2 2.1h0m.2-.9h0m0-1.1h0m.1 1.9h0m.1-.3h0m.2-3.9h0m.1 .5h0m.2-.8h0m.2-.2h0m.1 1.5h0m.2 2.9h0m.1-1.6h0m.1-2.4h0m.1 .5h0m.1 3.1h0m0 1.6h0m.1-3.5h0m0 2.1h0m0-2.9h0m.1 .9h0m.1 .9h0m.1-1h0m0 2.8h0m.1-4.1h0m.1 3.8h0m.1 .4h0m.1-.1h0m.1-3.7h0m0-.7h0m.1-.2h0m.5 4.5h0m0-2.7h0m0 3.3h0m0-2.2h0m.1-2.7h0m0-.1h0m.1 2.6h0m.2 2.1h0m.3-.4h0m.2-4.3h0m0 3.4h0m.2 1.2h0m.1-3.1h0m0-1.5h0m0 .7h0m0 .4h0m.2-.8h0m0 2.7h0m0 .2h0m0-2.9h0m.2 .5h0m.3 4.1h0m0-2.1h0m.3-.5h0m0 .2h0m0 1.2h0m.1 1.2h0m.1-2.7h0m.1-2.6h0m0 3.7h0m.1-.5h0m.1-1.7h0m0 2.4h0m.1 .5h0m.1-3.7h0m.3 1.7h0m.2 1.5h0m.1 .1h0m.2 .7h0m.1-.8h0m0-2.2h0m.1 0h0m0 .7h0m.1-.3h0m.2-.9h0m.1 1.6h0m.3-1.4h0m.2 2.2h0m.2 1.3h0m1-.9h0m.1 .5h0m.1-1.5h0m.2 2.6h0m.1-3.1h0m.1 .7h0m0-.5h0m.3 .6h0m.2 1.3h0m.2-1.2h0m.4 1.6h0m.1 .3h0m0-1.5h0m.1 0h0m.1-.1h0m0 .8h0m.3 1h0m.4-.1h0m.6-1h0m.1 1.2h0m0-.7h0m.1 0h0m.1 .3h0m.1-.1h0m.5 .2h0m1.3-1.3h0m.4 .5h0m.4 .9h0m.3-2.1h0m0 .1h0m0 1.8h0m0-1.7h0m.8-.1h0m3.8 1.9h0m.8-5.4h0m.2 .4h0m.5 .4h0m.1 .2h0m.1-1h0m.1 1.9h0m0-.9h0m.1 .3h0m0 4.2h0m.1-5.2h0m.3 1.4h0m0 3.4h0m0-.9h0m.1 1.2h0m0-1.9h0m.1-1.6h0m0 2.8h0m.2-2.6h0m0 1.8h0m.1-1.2h0m0 1.2h0m.3-4h0m0 4h0m.2-3.5h0m0 2.8h0m.2 2.2h0m.1-1.5h0m.1 1.7h0m.1-2h0m0 .7h0m.2-4h0m.1 5.2h0m.1-4.2h0m0 1.1h0m0 .1h0m.4 3h0m0-1.4h0m.2 .5h0m0-3.4h0m.1 3.2h0m.1-2.6h0m.1-.4h0m.1 4.1h0m.1-5.4h0m0 4h0m.2 .3h0m0 1.2h0m.1-3.1h0m0-1.7h0m0 4.7h0m.1-4.5h0m0 4.2h0m0-2.9h0m0 .3h0m.1-.7h0m0 2.9h0m.2-1.7h0m0 .5h0m.2-.5h0m.3 2.4h0m.1-2.5h0m.1-1.7h0m.3-1.3h0m0 5.4h0m.1-1.6h0m0-1.8h0m.1-1.4h0m.1 .9h0m0 3h0m0-.9h0m0-3.6h0m0 .7h0m0 4.3h0m.2-4.4h0m.1-.5h0m0-.2h0m.1 0h0m.1 5.3h0m.1-1.4h0m.2-2.6h0m0-1h0m.2 3.6h0m.2-2.5h0m0 .9h0m.1 2.7h0m0-2.8h0m.1-2.2h0m0 1h0m0 1.6h0m.1-.5h0m.1 1.7h0m.2 .4h0m.1-.3h0m0-2.1h0m.1-.1h0m.2 .5h0m.2-.4h0m.2 3.2h0m0-1.8h0m0 .7h0m0-3.5h0m.3 3.5h0m.1-.1h0m.1-.4h0m.1 1.9h0m.1-2.6h0m.2 .1h0m0 .4h0m.2 .7h0m.4-1.5h0m.3 1.7h0m0 .4h0m.3-2.6h0m.1-1.8h0m.1 1.8h0m0 3.8h0m.1-4.9h0m.1 3.6h0m.1-.5h0m.1-.8h0m0 2.2h0m0-5.4h0m.1 1.9h0m0 3.6h0m.1-2.1h0m.1-2h0m.2 1.1h0m.3 2.1h0m.4-1.4h0m.2 .9h0m0 .6h0m.2-.4h0m0-.6h0m.1 .8h0m.2 1h0m.1-.9h0m.9-2h0m.2 3.2h0m.2-2.9h0m1.2 .4h0m.1 1.9h0m.6 .6h0m.1-4.2h0m.3-.6h0m.3 4.7h0m.1-5.5h0m.1 1h0m.5 2.4h0m.1-1h0m.1 2.6h0m.1-3.1h0m0 1.1h0m.3-1.8h0m.4 4h0m.8-2.6h0m.2 1.7h0m.1-2.4h0m.8-1.7h0m.2 .7h0m.4 4.7h0m.4-1.2h0m.6-.2h0m0-2h0m4.9 1.7h0m.6-3.5h0m2.8-.3h0m2.8 .9h0m2.3 3.2h0m-3 6.2h0m-2.3-4.1h0m-3 5.4h0m-1.1-1.4h0m-1.8-3.1h0m-.6 3.3h0m-.2-2.3h0m-1-.7h0m-.1 2.6h0m-.7 1.3h0m-.3-3.8h0m0 2.3h0m-.1-1.1h0m-.7 .4h0m-.1 .9h0m-.4 .4h0m-.1-4.1h0m-.1 1.6h0m-.2 3.4h0m-.2-4.9h0m-.3-.6h0m-.4 5.1h0m-.4-1.2h0m-.3-.5h0m-.2-1.1h0m-.2-.6h0m-.1-.5h0m0-.1h0m-.1-.5h0m-.3 0h0m-.1 3.5h0m0-1h0m0-2.2h0m-.1 2h0m-.3-1h0m0 .4h0m-.1-.9h0m-.1 4.1h0m-.1-3.2h0m-.3 3.3h0m0-.5h0m0-3.4h0m-.1 1.1h0m-.1 .8h0m-.3-1.3h0m-.1 2.6h0m-.3-3.5h0m0 3.9h0m-.1-1.5h0m0 1.3h0m-.2-4.9h0m-.6 .3h0m-.1 3.4h0m-.1 .4h0m0 1.2h0m-.2-1.6h0m-.1 .6h0m-.5-3.6h0m0-1h0m-.2 2.7h0m-.1 2.4h0m0 .5h0m-.5-3.3h0m0 3.2h0m0-4.8h0m-.1 3.5h0m-.1-2.3h0m-.1 .3h0m-.2 .6h0m-.1-.7h0m-.1 1h0m-.1-1.1h0m-.1 1.3h0m-.1 1.2h0m0-3h0m-.2-.4h0m-.1 2.2h0m0-.8h0m-.1 1h0m-.1 .6h0m-.2-1.6h0m-.1 .6h0m-.1 .2h0m-.2-2.3h0m-.1 .9h0m-.2-1.1h0m0 .7h0m-.2-.5h0m0 3h0m-.1-3.5h0m0 1.2h0m-.3 .1h0m-.3-.8h0m-.2 1.1h0m-.2 1.3h0m-.3 .2h0m-.7-.2h0m-.2-2.3h0m0-.3h0m0 1.3h0m-.1 .5h0m-.2 1h0m-.1-1.1h0m0-2.4h0m-.1 .4h0m-.4 1.7h0m-.8-.3h0m0-.2h0m-.2 .3h0m-.2-1.8h0m-.2 1.8h0m0-1.9h0m-.4 1.4h0m-.4 0h0m-.1-.5h0m0-.8h0m-.1 1.8h0m-.6-1.7h0m-.2 .4h0m0-.1h0m-.2-.4h0m-.8 1.6h0m-.5 1.1h0m0 .5h0m-.2-2.1h0m-.3 .4h0m-.5 1.7h0m-.1 .1h0m-.2-.3h0m0 .2h0m-.1-.3h0m0-.3h0m-.2-2.1h0m-.1 .6h0m-.1 .3h0m-.1-.3h0m0-.8h0m0 2.6h0m-.4 .2h0m0-1.4h0m-.2-1.9h0m-.1 1.6h0m-.2-1.2h0m-.1 .9h0m0 2.2h0m-.1-1.9h0m-.3 1.7h0m0-1h0m-.1-.5h0m0 1.4h0m-.2 0h0m-.2-3.1h0m-.2 1.9h0m-.1-.4h0m-2.3 3.6h0m0-.3h0m-.9-.4h0m-.5-.1h0m-.7-.1h0m-.2-1.5h0m-.1 1.7h0m0-.5h0m-.3 1.7h0m-.2-3.7h0m-.1 3h0m0-5h0m0 .3h0m-.1 .5h0m-.2 3.1h0m-.1-3.7h0m-.1 2.6h0m-.1-2.6h0m0 2.3h0m0 1h0m-.1-.8h0m-.1-1.6h0m0-1.1h0m-.2 4.3h0m-.2 .3h0m0 1.1h0m0-4h0m-.1 .9h0m0 1.7h0m-.2-1.5h0m0 2.2h0m-.5-1.3h0m0 1.4h0m-.1 .1h0m-.4-3.6h0m-.2 1.3h0m-.2-2.4h0m0 3.3h0m-.1 2.1h0m-.2-.3h0m-.1-3.9h0m-.3 2.6h0m0-.7h0m-.1 .7h0m-.1-1.3h0m0-1.8h0m0-.5h0m-.1 2.6h0m0 1.6h0m-.1-3.9h0m-.1 .5h0m0 1.7h0m0 2.3h0m-.1-1.3h0m0 1.2h0m-.1-.7h0m-.3-4.6h0m0 2h0m0 2.1h0m-.5-1.4h0m-.1-2.8h0m0 .8h0m0 4.1h0m-.1-4.6h0m-.3 2.4h0m-.1-1.9h0m-.1 2h0m-.1-1.7h0m-.3 2.1h0m0 1.9h0m-.3 .3h0m0-2.1h0m-.1-2.2h0m-.5 4.3h0m0-2h0m-.1-3.2h0m-.2 5.1h0m0 .3h0m-.1-1.2h0m-.1-2.9h0m-.1 2.5h0m0-3.3h0m-.1 .9h0m-.4 1.2h0m-.4 2.5h0m-.1-1h0m-.1-3.2h0m-.3-.3h0m-.2 4.1h0m-.5-1.7h0m-.2-1.8h0m-.1 .9h0m0 3.2h0m0-4h0m-.1-1.1h0m-.1 3.6h0m-.1-2.1h0m-.1 .7h0m-.4 2.4h0m-.2-4.8h0m-.1 4.2h0m0 .3h0m0-1.7h0m-.7 2h0m-.1-.1h0m-.1-1.6h0m-.1-2.4h0m-.2 .6h0m0 2.7h0m-.1 1.6h0m-.2-4.2h0m0-1.4h0m-.1 3.9h0m0-2.2h0m-.1 2.5h0m-.2-1.6h0m0 1.6h0m-.1-3.3h0m-.2-.7h0m-.4 4.9h0m-.1-4.4h0m0 4h0m-.2-.6h0m-.1-4.2h0m-.1 .5h0m-.2-.6h0m0 4.6h0m0-3.3h0m-.1 1.6h0m0-1.6h0m-.1 1.1h0m0 0h0m-.1 1h0m-.3 .5h0m-.4-3.2h0m0 4h0m-.2-1.2h0m0-1.6h0m0 .9h0m-.1-2.5h0m-.1 4.8h0m0-.9h0m-.1-3.1h0m-.2 2.7h0m-.2-1.8h0m-.2 .9h0m0 .8h0m-.2 .3h0m-.1-2h0m-.1-1.5h0m-.2 1.8h0m0-.7h0m-.2 0h0m-.1 .7h0m-.2-1.6h0m-.1 2.4h0m-.2 2.7h0m-.2-.7h0m-.2-1.7h0m-.1-1.2h0m0 2.4h0m-.1-4.4h0m0 5.4h0m-.2-3.5h0m-.1-1.2h0m-.1 3.5h0m-.1-1.9h0m-.4 2.7h0m-.2-3.9h0m-.2 3.3h0m-.1-1.8h0m-.2 1.3h0m-.2 .2h0m-.1-4h0m-.2-.2h0m-.1 2.6h0m-.2 2.2h0m-.1-3.1h0m-.2 2.3h0m-.2 .4h0m-.2-.9h0m-.4-.7h0m0 2.1h0m-.2-4.3h0m0 5h0m0-5.7h0m-.2 2.7h0m-.1 1.5h0m0-2h0m-.1-.5h0m-.1 1.2h0m-.1-2.7h0m-.1 4.6h0m0-2.5h0m-.1-1h0m0 3.2h0m0-2.7h0m-.2 .4h0m0 3.7h0m-.1 0h0m0-5.8h0m-.1 2.5h0m0 1.1h0m-.1 1.9h0m-.5-3h0m-.2-1.2h0m0 4.4h0m-.3-5h0m-.2 3.3h0m-.1 1.6h0m0-2.2h0m-.1-2.4h0m0-.9h0m-.3 4.1h0m0-2.2h0m0 2.4h0m-.2-.1h0m-.1 1h0m0-3.4h0m-.1-.5h0m-.1-.6h0m-.1 .2h0m-.1 3.5h0m0-2.4h0m-.1 1.7h0m-.1 .4h0m-.1 .1h0m-.1-1.1h0m0 1.8h0m-.1-5h0m-.1 2.3h0m0 2.9h0m0-4h0m-.2 1.2h0m-.2 .4h0m-.3-2.5h0m-.4 5.1h0m-.1-2.9h0m-.1-.1h0m-.1 .9h0m-.3 0h0m-.5 .6h0m-.3-.6h0m0 .8h0m0 .4h0m-.2-3.8h0m0 3.8h0m-.1-.7h0m0-2.4h0m0 .8h0m-.1 2.4h0m-.1-2.1h0m-.1-1.1h0m-.1-1.2h0m0 3.8h0m0-1.8h0m-.3 .4h0m0 1.8h0m0 1h0m-.1-3.4h0m-.1-.3h0m-.5-1.4h0m-.1 5.4h0m-.3-2.7h0m0-1.2h0m-.1-.5h0m-.2 .8h0m-.5-.5h0m0 3.2h0m0-1.1h0m-.4 .4h0m-.3 .7h0m-.4-1.1h0m-.3 2h0m-.2-2.1h0m-.1-2.7h0m-.1 4.6h0m-.1-5.6h0m0 2.2h0m-.1 .7h0m-.5-2.5h0m-.1 .1h0m-.1 .3h0m-.1 1.6h0m-.6-2.2h0m-.2 4.6h0m0-2.7h0m0 .2h0m-.4 3.4h0m-.5-3.9h0m-.6 1.3h0m0-1.7h0m-.1 0h0m-.8 3.5h0m0-4.5h0m-.9 5.1h0m-.1-2.5h0m-1-2.1h0m-.2 4.9h0m-.3 0h0m-.1-.5h0m-.4-.9h0m-.3-4.2h0m0 3.3h0m-.1-1.2h0m0-1.9h0m0 .6h0m-.4 2.8h0m-1.3 1h0m-1.9-3.1h0m-.9 3.2h0m-.9 .8h0m-3.1-.5h0m-3.4-.4h0m-1.6-2h0m-.2 1.8h0m-2.7-2.5h0m-19.7 9h0m9.2-.6h0m7.6-.7h0m2.3-.8h0m1.5-.6h0m.6-1.7h0m1-.6h0m1.5 5.1h0m.8-5h0m.3 2.2h0m1.3-2.4h0m1.1 2.9h0m1.8 .9h0m.4 1.7h0m.6-1.5h0m0-.9h0m.8-2.3h0m.1 2.1h0m.1 1.8h0m.3-2.6h0m.2 3h0m1-4.6h0m1.1 5.2h0m0-5h0m.3 1.1h0m0 2.5h0m.2-.3h0m.4-1.7h0m.1 .9h0m.6-.5h0m.2-2.1h0m0 .1h0m.2 5.2h0m.8-3.5h0m.2 1.5h0m.4-.5h0m.4-.3h0m.2-2h0m.2 .7h0m.3 .1h0m.6 2.7h0m.4-4.3h0m.1 4.4h0m0-.4h0m0 .3h0m0-1.3h0m.1-2.9h0m.4 .4h0m0 2.2h0m.1-2.7h0m.1-.1h0m.2 1.2h0m.1 1.1h0m.5 .6h0m.1 1.3h0m.1 .5h0m.2 .6h0m.2-5.5h0m.1 1.5h0m.3 1.8h0m.2 .7h0m.2-1.8h0m0-1.4h0m.4 3.6h0m.2-.5h0m.2-2.2h0m.1 1.9h0m0 .5h0m.2 .6h0m0 .3h0m0-3.8h0m.1 3.5h0m0-.4h0m.1-2.1h0m.2 2.9h0m0-2.6h0m.1 2.1h0m0-.7h0m.2 1.7h0m.2 .3h0m.1-1.6h0m.1-3.6h0m.2 3.7h0m0 .4h0m.1-.6h0m.3-3.9h0m0 4.2h0m0 .9h0m.1-.6h0m.3-4.1h0m.2 4.8h0m.1-2.4h0m.2 0h0m0-.8h0m0-1.3h0m.1 2.6h0m0 .1h0m0 1.7h0m.1-2h0m.3-1h0m.1-.3h0m.1-1.7h0m0 3.8h0m.3-2.3h0m.1-.5h0m0 1.9h0m0-.3h0m0 .3h0m.1-3.3h0m.1 1.1h0m.1 2.9h0m.1-1.6h0m0-.5h0m.3-.7h0m.1-.8h0m.2 3.4h0m.1-3.4h0m.1 .2h0m0 1h0m.1-.3h0m.4 0h0m.2 2.9h0m.2-1.5h0m.2-1.1h0m.3-1.2h0m0 2.3h0m.2 .2h0m.2 .4h0m.4-1.9h0m.4-1.4h0m.4 1.5h0m.6-.6h0m.2-.2h0m1 .5h0m.2 .1h0m.2 .9h0m.5 .2h0m.2-2h0m0-.4h0m.1 1.1h0m.4-1h0m.1 .6h0m.5 1.3h0m.4-1.8h0m.3 1.2h0m.5 1.9h0m.2-2.6h0m.1 1.3h0m0-.4h0m0 1.4h0m.1-1.8h0m.1 .2h0m.3-.7h0m.1 2.3h0m.1-2.3h0m.2 0h0m.2 2.7h0m.5-.8h0m0-2.2h0m.1 3.4h0m.1-1.1h0m0-1.9h0m.1 3.2h0m.4-1.9h0m.3 3.4h0m0-2h0m.1-3.2h0m0 .4h0m.1 .9h0m.5 3.6h0m0-1.1h0m.1 .9h0m0 .7h0m0-4.4h0m.1 2.4h0m.2-2.1h0m0-1.2h0m0-.3h0m.1 3.5h0m.3 1.1h0m.1 .7h0m.5-4.8h0m.3 4.9h0m.6-1.3h0m.3-.4h0m.3-.1h0m.1-.8h0m0-2.4h0m0 1.9h0m.2-1.1h0m.3 3.8h0m.1-3.9h0m.1-.8h0m0 5.3h0m.1-1.5h0m.4 .9h0m0-5h0m0 2h0m.2 3.5h0m0-.5h0m.3-4.4h0m0 .7h0m.4 4.3h0m.1-3.9h0m.2 .4h0m.1-1.7h0m.1 .9h0m.1 2.3h0m0-.1h0m0 .5h0m.1-1.5h0m0-.4h0m.1 3.3h0m.1-1.9h0m.1-2.2h0m0-.8h0m.1 2.5h0m0 2.7h0m.3-1.5h0m.1-3.3h0m.1 2.8h0m.1-.1h0m0-3.4h0m0 1.7h0m.3 1.1h0m.1 .2h0m.1-2.3h0m.4 2.5h0m.1-3.4h0m.3 4.2h0m.4-4.1h0m.1 3.3h0m.3-1.8h0m.1 3.5h0m.3-1.9h0m0 2.3h0m.2-3.2h0m.2-1.5h0m0 3.4h0m.1-2.5h0m0 3.8h0m.5-2.8h0m.1-.9h0m0-.6h0m.4 1h0m.2 2.5h0m0-.7h0m.1-1.4h0m.1-2.5h0m.1 5.4h0m0-1h0m.1-4.1h0m0 .1h0m0 1.5h0m.2-1.9h0m0 3.8h0m.2 1.9h0m.1-2.1h0m.1 1.5h0m0 .4h0m.1-.6h0m.1-.2h0m0-1.7h0m.5-1.1h0m0 .9h0m.1-1.3h0m.1-.8h0m0 .3h0m.2 3.4h0m.2-3.7h0m0 4.6h0m.3-2.8h0m0 .6h0m.3 .5h0m0-3.5h0m0 5.3h0m.1-3.3h0m0-2.1h0m.3 4.8h0m.1-2.8h0m.2-2.2h0m0 3.4h0m.2-3.1h0m0 5.2h0m0-1.6h0m0-.2h0m.1-3.6h0m0 4.3h0m.1-2h0m.1-2.2h0m0 3h0m0-2.7h0m.2 .7h0m.2 1.3h0m.1-2.4h0m0 2.7h0m.1-1.4h0m.2 1.8h0m.2-.4h0m.1-2.8h0m.2 3h0m.1-3h0m.1 2.3h0m.1-.9h0m0 2.7h0m.2-.6h0m0-2.4h0m.3-.3h0m0 .9h0m.2-1.3h0m.2-.3h0m.2 1.6h0m.2 .9h0m0-1.4h0m.2 1.4h0m.2-2.2h0m.1 2.2h0m.3-2.5h0m18.4 .1h0m.8 3.7h0m.1-.5h0m0-3.2h0m.1 3.3h0m.2-2h0m.1 2.6h0m.1-1.9h0m.1 0h0m0 3h0m0-.9h0m.1-3.4h0m.2 .4h0m.1 .3h0m.1-1.5h0m0 2h0m.1 .1h0m.2 3.2h0m0-4.5h0m0-.9h0m.1 3.2h0m.2 2.2h0m.1 0h0m.2-4.2h0m0 3h0m0-3h0m.1-1.2h0m0 2.1h0m.1 .5h0m.1-1h0m.1-.5h0m.2 .4h0m0 3.1h0m0-.8h0m.3-2.8h0m.2 2.6h0m0-3.6h0m.2 1.5h0m0 3.3h0m.2-1.5h0m.1-2.3h0m.1 3.9h0m0-1.6h0m0 1.2h0m0-2h0m.1 .4h0m.1 .2h0m0 1.2h0m.1 .2h0m.5-3.9h0m0 3.5h0m.2-2.1h0m.1 3.7h0m.1-3.9h0m0 3.9h0m.1-1.4h0m.1-.9h0m0 1.9h0m.1-1.5h0m.1 1.1h0m.2-2.3h0m0 1.4h0m0-3.2h0m.5 3.3h0m0-1.6h0m0 1.4h0m.1-3.5h0m0 5.5h0m.2-4.8h0m.1 4h0m.2-3.7h0m.3 3.1h0m.2-3.9h0m.3 1.2h0m0-1h0m.2 .4h0m.1 4h0m.1-.4h0m.1-3.8h0m.3 4.4h0m0-5.2h0m.1 2h0m.2 2h0m0 1.1h0m0-1.9h0m.1-1.7h0m0 2h0m.3 .8h0m.1-2.6h0m.1-.5h0m0 1.2h0m.2-2h0m.3 4.3h0m.8 .2h0m.3-2.3h0m.2-.6h0m.2 1.7h0m.1 1.7h0m.3-.8h0m.2-2.3h0m1.1-2.5h0m.6 3.6h0m.2 .6h0m0 1.4h0m.4-4.5h0m1-1h0m.1 3.9h0m.3 1.3h0m.5-1.3h0m.4 1h0m0-1.6h0m8.8-.9h0m6.1 8.1h0m-10.9-4.4h0m-.4 4.8h0m-2.6-1.4h0m-1 .5h0m-.5-3.3h0m-.1 3.4h0m-.7-3.2h0m-.5 0h0m-.3 3.4h0m-.7-3.6h0m-.4 .1h0m-.8 2.5h0m-.2 2.3h0m-.7-.2h0m-.5-4.2h0m-.6 .3h0m-.4-1.2h0m-.5 3.8h0m-.2 .1h0m-.1 .8h0m-.4-3.4h0m-.2 1.5h0m0 .1h0m0 0h0m-.3-.9h0m-.2-1.9h0m0 3.5h0m-.2-3.3h0m-.1 3h0m0 1.6h0m-.4-.8h0m-.2 1.4h0m-.1-3.4h0m0 1.8h0m-.5-4.2h0m0 4.5h0m0-.3h0m-.1-.9h0m-.2 .2h0m-.3 .7h0m-.3 1.1h0m0-2.1h0m-.1-1.6h0m0 1.5h0m-.4 .4h0m-.1-2.4h0m-.1 2.1h0m-.1 2h0m0-5.1h0m-.2 4.8h0m0 .1h0m-.2-4.8h0m0 5h0m-.1-.1h0m-.2-.5h0m-.3-1.9h0m-.1 0h0m-.1-.7h0m-.1 1.1h0m-.1-2h0m0 1.1h0m-.1 .8h0m0-.1h0m0-1.8h0m0 1.6h0m-.3-1.3h0m-.3-.2h0m-.5-1.3h0m-.1 1.4h0m-.9-1.4h0m-24.4 .3h0m-.2 3.9h0m0-3.9h0m-.2 1.5h0m-.1 1.9h0m0-2.5h0m-.1 1.7h0m0 .9h0m-.3 1.3h0m-.3-1.4h0m-.1-1.4h0m-.1-2.3h0m0 4.1h0m-.1-2.6h0m-.1 .3h0m-.2 .1h0m-.1 .9h0m-.2-2.6h0m-.3 .4h0m-.1 2.7h0m-.1-.8h0m-.5-.3h0m-.1-.5h0m0-1.3h0m0 .4h0m-.3 1.6h0m0-1.8h0m-.3 1.1h0m-.2-1.2h0m-.1-.1h0m-.4 .9h0m-.4 1.2h0m-.1 .7h0m-.1-1.7h0m-.2 2.9h0m-.1-2.7h0m-.2-1h0m-.1 3.5h0m-.3-1.9h0m-.1 1h0m-.1-.4h0m-.1 1.3h0m-.1 .5h0m0-1.1h0m-.1 2.3h0m0-.4h0m-.2-4.7h0m-.1-.4h0m0-.3h0m-.3 4h0m0-.7h0m-.1-1.8h0m-.1-.9h0m-.1 4.6h0m-.1-1.9h0m0-2.1h0m-.2 .9h0m0-.7h0m0 4.2h0m-.1-4.1h0m0 2.9h0m-.1-2h0m0 2.2h0m0-1.9h0m-.6-2h0m-.1 0h0m-.1-.7h0m-.1 2.5h0m-.2 1.4h0m-.4 1.5h0m-.1-.1h0m0-5h0m0 3.9h0m-.2 1.6h0m0-.2h0m0-2.7h0m-.1 1.3h0m0-2.8h0m0-.7h0m-.1 .7h0m-.2 1.6h0m-.1-.5h0m-.2-.4h0m0 1.8h0m-.1-4h0m-.1 1.3h0m-.5 .8h0m-.1 .2h0m0-2.3h0m-.1 3h0m-.1-.4h0m0 .5h0m-.1 .7h0m-.3-.8h0m-.1-1.4h0m-.1 2.4h0m-.3-.2h0m-.1 .8h0m0-1.1h0m-.1 1.9h0m0-3.1h0m-.1-1.1h0m-.1 1.1h0m0 3.1h0m-.7-4.4h0m0 1.2h0m-.7-1.2h0m-.3 1.2h0m-.4-.2h0m0-.5h0m-.4-.6h0m-.3-.9h0m-.2 .7h0m-11.3 2.5h0m0-.2h0m-.1 .8h0m-.1 0h0m0 .9h0m-.1-1.9h0m-.1 2.2h0m-.9-1.7h0m0 2.2h0m-.3-5h0m-.2 .2h0m0-.2h0m-.1 1.1h0m-.1 1.1h0m-.3 .1h0m-.3-1.7h0m0 2.4h0m-.2 1h0m-.1-2.5h0m0 1.8h0m0-1.8h0m-.3 .3h0m-.1 .5h0m0 .5h0m-.1-1.1h0m-.2 3.6h0m-.1-2.7h0m-.1-2.9h0m0 2.7h0m-.1-2h0m-.1 2.8h0m0 2.2h0m-.2-1.9h0m-.1-.1h0m0-1.2h0m-.1 .4h0m-.1 1.3h0m0 1.2h0m-.1 .1h0m0-5.2h0m-.1 3h0m0 2.4h0m-.3-4.8h0m0 2.1h0m-.1 .3h0m0 1.2h0m-.6 1.1h0m-.1-5.7h0m0 3.1h0m-.1 1.1h0m0-3.4h0m0 4.3h0m-.2-1.9h0m0 .4h0m0-3.2h0m-.2 1.8h0m-.1 1.7h0m-.4-3.5h0m-.1 2.8h0m0-3.2h0m-.2 2.2h0m0-2.3h0m0 3.6h0m-.1 1.5h0m-.6 .2h0m-.1-1.2h0m-.2-3.4h0m-.2 2.7h0m-.2-.7h0m-.1 1.7h0m-.1-2.8h0m-.2 .6h0m-.3-1.8h0m-.2 1.6h0m-.1 .8h0m0 2.8h0m-.1-1.9h0m-.5 2.2h0m-.3-2.5h0m0 .8h0m-.1-2.1h0m-.4-1.7h0m0 4.8h0m-.4-3.7h0m-.1 3.9h0m-.1-3.2h0m-.7-1.6h0m-.5 3.3h0m0 1.6h0m-.1-.2h0m-.3 .3h0m0-4h0m-.3 4.3h0m-.2-1.8h0m-.8 1.8h0m-.2-3.4h0m-.2 1.7h0m0-1.9h0m-.4 1.4h0m-.1-2.1h0m-.2 3.3h0m0-3.3h0m-.5 1.3h0m-.5 1.5h0m-.1 1.5h0m-.1-.5h0m-.1-4.4h0m-1.2 2.9h0m0 .6h0m-.2-2.6h0m-.4-.9h0m-.4 4.9h0m-.4-.6h0m-.3-4.9h0m0-.1h0m-2.1 5.5h0m-1.4-5.3h0m-.7 1.6h0m-.1 2.3h0m-.5-1.5h0m-.3 .6h0m-.9 1.3h0m-.5 .6h0m-1-.2h0m-.3-4.2h0m-6.4 4h0m-.8 .3h0m-1 0h0m-.4-5.1h0m-4.1 11.5h0m4-5.4h0m2.3 2.7h0m.5-.6h0m.6-1.7h0m.1 .9h0m1 3.7h0m.3-1.1h0m.7 1.3h0m.5-2.6h0m.4 2.6h0m.2-2.5h0m1.1-2.3h0m1.5 3.8h0m.1-2.2h0m.1 1.9h0m.3 1.4h0m.6-5.1h0m.2 4.2h0m0-4.1h0m.3 .1h0m.3 5.1h0m.4-3.5h0m.2-1.9h0m.4 4.8h0m.2-4.6h0m0 3.7h0m0 1.5h0m.1-4.7h0m.1 3.1h0m.2-.5h0m.3-3.4h0m.8 1.7h0m.6-.5h0m.2 1.4h0m.1-2.9h0m.3 .9h0m.2 3.9h0m.1-1.1h0m.1 .8h0m.3-.8h0m.2 1.3h0m.4-.4h0m.9 .5h0m.2-.6h0m.1 1.3h0m0-5h0m.2-.2h0m.1 1.8h0m.2-2.3h0m.6 1.5h0m0 4.2h0m.4-.6h0m.3-2.1h0m.1-1.2h0m.1 1.8h0m.4-1.4h0m.7-.4h0m.2 2.4h0m.1 1.3h0m.1-1.9h0m.5-2h0m0 3.4h0m.1-3.3h0m0 .2h0m.4 2.8h0m.1 .1h0m.1 .4h0m.3-1.3h0m.2-1.6h0m.1-.7h0m0 2h0m.1-2.6h0m.1 1.9h0m0-1.6h0m.1 .1h0m0 2.7h0m.4-3h0m.1 3.6h0m0 .9h0m.1-3.1h0m.1-.3h0m.1 3.3h0m.3-.8h0m0-3.7h0m0 3.4h0m.3-2.2h0m0 2.7h0m.3-2.8h0m.1-.8h0m.1 4.4h0m.1-.2h0m0-5.6h0m.2 2.8h0m0 1.1h0m.1-3.2h0m0 4.6h0m.3-.7h0m.5-.2h0m.1 0h0m0-1.6h0m.1 2.4h0m.1 .1h0m0-1.6h0m.1-1.7h0m0-1.2h0m.1 2.6h0m.4-2.3h0m.1 1.5h0m0 2.5h0m.1-.7h0m.2-3.7h0m.1-.3h0m.2 2.3h0m.1-.7h0m.4 .1h0m.3 .5h0m.1-2h0m.1 2.2h0m0-1.9h0m.2 3.6h0m.1-3.5h0m0 2.6h0m.2-.4h0m.1-.6h0m0-1.3h0m.3 .9h0m.1-1.2h0m.5-.1h0m0-.5h0m.1 2.7h0m0 .8h0m0-.3h0m.2-.9h0m0-.3h0m0-2.2h0m.3 1.7h0m0 1.2h0m.8 1.9h0m.4-1.1h0m0 .4h0m.1-.4h0m.3-3.5h0m.4 4.6h0m0 .1h0m.1 .3h0m.1-1.8h0m.1 1.4h0m.1-4.7h0m.1 5.4h0m0-.3h0m.3-1.3h0m.3-4.1h0m.1 .1h0m.4 5.8h0m.8-5.9h0m1 5.6h0m.1 .3h0m.2-.6h0m.1-.6h0m.1 1.1h0m0-1.2h0m.9 1.3h0m.3-.3h0m12.6-.9h0m.6 1h0m.1-1.2h0m.1 1.3h0m1.2-5.4h0m.7-.3h0m.3 0h0m0 1.1h0m.4 1.4h0m0-2.5h0m.6 2.1h0m.1 1.8h0m.2-1.7h0m.1 2h0m0-.7h0m.3 .8h0m.1-4.4h0m.3 .9h0m.1 .9h0m1 .9h0m.1 .7h0m0-2h0m.2 .2h0m.1 1h0m32.4 1.7h0m.2 1.4h0m0-1.1h0m.2-.6h0m.2 .2h0m.1-.7h0m.3 .5h0m.2 1.2h0m.1-3.3h0m0-1.9h0m.1 .5h0m.1 .4h0m0-.6h0m.1 2.6h0m.1 3h0m0-3.5h0m.3 1.5h0m.2-.8h0m.2-1.4h0m0-.4h0m.1 1.5h0m.1 1.2h0m.2-2.4h0m.1 .4h0m.1 .7h0m0-.2h0m.2 2.8h0m.1-2.1h0m.2 1.3h0m0-2.3h0m.3 3.3h0m.2-5.4h0m.1 2.7h0m0-1.4h0m.1-.5h0m0 4.8h0m0-3.1h0m.4-1.2h0m.1 2.8h0m.1-2.5h0m0 1.5h0m.6 .9h0m.2-3.6h0m.1 2.8h0m.2 1.8h0m.3-.7h0m0 .9h0m.1-1.3h0m.1-3.5h0m.2 1h0m0 1.6h0m.1 2.3h0m.5-1.8h0m.3-3.3h0m.4 .6h0m.1 .1h0m.1-.1h0m.2 3.7h0m.1 .1h0m.2-4.6h0m.1 5.4h0m0-.4h0m.1-.9h0m.2-.9h0m0-3h0m.4-.3h0m.2 1.6h0m0 1.8h0m.5-3.3h0m.1 2.2h0m.2 3.1h0m.3-2.3h0m.4-.4h0m.3-1.1h0m.7 1.7h0m.4 .9h0m.1 .5h0m.1-1.1h0m.7-.7h0m1.4 1.3h0m.5-.4h0m.7-1.7h0m.2 2.4h0m5-3.5h0m-1.4 9.3h0m-4.5-2.8h0m-3-.1h0m-.7-.4h0m-.1 .5h0m-.8 .7h0m-.1 .5h0m-.1-1.5h0m0 4h0m-.2-4.7h0m-.1 2.4h0m0-.6h0m-.8-.3h0m-.1 .3h0m-.1 0h0m-.1 1.9h0m-.2-2h0m-.4 1.1h0m-.4-2h0m-1 2.4h0m0-2.9h0m-1 .7h0m-.2 4.2h0m-.1-1.9h0m0 1.7h0m0-3.6h0m-.1-1h0m-.3 4h0m-.1-.7h0m0 .1h0m-.2-3.9h0m0-.4h0m0 5.6h0m-.1-4.6h0m0-.3h0m0 1.3h0m-.2 3.4h0m-.1-2.4h0m-.1-2h0m-.2 4.8h0m-.5-3.3h0m-.1 .9h0m-.5-3h0m0 1.7h0m-.2 1.7h0m-.2-2.9h0m0 2.5h0m-.1-3.3h0m0 3.1h0m-.2 1.6h0m-.2-3.4h0m0 .9h0m-.1 .6h0m-.1-2.9h0m-.1 .2h0m-.2 3.8h0m-.2-1.2h0m0-1.8h0m-.1 4.3h0m-.1-2.2h0m-.3-1.1h0m0-.4h0m-.2-1.4h0m0 4.7h0m-.1-2.2h0m-.1-.8h0m0 2.2h0m0-1.1h0m-.2 1.4h0m-.7-3.7h0m-.1-.2h0m-.5 .4h0m-.3-.7h0m-.1 5.7h0m0-.1h0m-.1-5h0m-36.1-.4h0m-1.2 .9h0m-.3-1.3h0m-.2 .9h0m-.7-.3h0m-.2 1.9h0m0-1.2h0m-.4-.5h0m-.3-.1h0m-.5 2.6h0m-.3-.1h0m-.1 0h0m-5.9 2.4h0m-1.7 0h0m-.1-.6h0m-.1-1.3h0m-.2 1.3h0m-.1-1.5h0m-.1 1.9h0m-.3 0h0m-.2-1.3h0m0-.1h0m-.2-.5h0m-.1 .9h0m-.2 .9h0m-.2-1.3h0m-.2-2.5h0m-.1 3.2h0m-.3 .2h0m0-3.3h0m-.1 2.1h0m-.1-1.8h0m0 1.2h0m-.3-.9h0m-.1 2.2h0m-.2 .2h0m-.1-2.9h0m0 1h0m-.2-1h0m-.3 .8h0m0 1.6h0m-.2 .4h0m-.1-.6h0m-.1-.7h0m-.1 1.7h0m-.1-3.5h0m-.1 .7h0m0 .5h0m0 3.2h0m-.1-4.1h0m-.3 3.4h0m0-2.3h0m-.5 3.1h0m-.1-4.7h0m0 .7h0m-.2 .3h0m-.1-1.7h0m-.1 1.8h0m0-.2h0m-.1-1.5h0m0 3.8h0m-.1-3.7h0m0 4.5h0m0-.5h0m-.3 .1h0m-.1-3.6h0m0-.4h0m-.1 .6h0m0 3.5h0m-.3 .3h0m0-4h0m-.3 .4h0m-.1 3.3h0m0-4.4h0m0-.2h0m-.4 4.8h0m0 .3h0m-.4-.3h0m-.1-1.4h0m-.1 2.1h0m-1.4-.6h0m-1.2 .6h0m-3.7-5.6h0m-1.9 0h0m-.4 0h0m0 .3h0m-.3-.2h0m-.1 .1h0m-.2 0h0m-.5 .7h0m-.3-.3h0m-.2-.7h0m-.3 .3h0m-.3 1h0m-.3-.3h0m-.1 .1h0m-.8-.5h0m-.3-.6h0m0 1.7h0m-.1-.3h0m0 1.9h0m-.2-2.5h0m0 .7h0m-.3-1h0m-.2 4.3h0m-.1-.3h0m-.2 .6h0m-.1 0h0m-.2-4h0m0 3.6h0m-.1-1.4h0m-.1-3.3h0m-.1 4h0m0 .4h0m-.1 .5h0m-.2-4.4h0m0 2.6h0m-.4 1.1h0m-.1-1.6h0m0-.4h0m-.1 1.3h0m-.1-2.3h0m0 4.5h0m-.2-2.2h0m-.2-3.3h0m-.1 .8h0m-.1-1h0m-.2 4.2h0m-.1 1.6h0m0-3.9h0m-.2 .2h0m-.8 0h0m-.3 3h0m-.1-3.1h0m-.2-.3h0m-.4 2.9h0m0-1.6h0m-.1-.3h0m-.4-2.7h0m-.1 3.1h0m0-2.7h0m-.1 .9h0m-.2 2.4h0m-.3-1.5h0m-.2 2.7h0m-.1-3.3h0m-.3-1.5h0m-.2 5h0m-.2-.1h0m-.2-3h0m-.1-.4h0m-.2 3.3h0m-.6 .3h0m-.5-3.4h0m0-.4h0m-.1 3h0m-.2-3.7h0m-.3 .1h0m-.5 4.2h0m-.5-.5h0m-.6 .7h0m-.8-2.6h0m-.4 1.4h0m-.3-2.1h0m-.1 2.9h0m-.9-1.3h0m-2.1-.3h0m0 .7h0m-.4-2.4h0m-.9 1.6h0m-1.3 .5h0m-.2 .1h0m-.7 .2h0m-5.8 3.5h0m4.3 2.9h0m1.1-1.8h0m2.8 0h0m.3-.3h0m.6 3.6h0m1.4-5.7h0m0 5.5h0m.6-1.8h0m.8 0h0m.1 .4h0m1.4-2.4h0m.1 3.9h0m.2-.6h0m.5-3.2h0m.2 1.4h0m.4 1.1h0m0-3.9h0m.2 .3h0m.3 4.8h0m.3-4.9h0m.2 1.7h0m0 .1h0m.7-.7h0m.1-.5h0m.3-.4h0m.1 2h0m.4-1.5h0m.3 .9h0m.2 3.5h0m.1-3.8h0m.6-1.3h0m.2 2.5h0m0-.7h0m.2-2h0m.2 3.4h0m.1-.8h0m.2 1.4h0m.2-2h0m0 3.2h0m.1-3.8h0m.1 1.7h0m.1-.6h0m.3-2.2h0m.1 1.5h0m.2 3.5h0m0-.8h0m.1-2.5h0m0-1.2h0m0 3.1h0m.1-2.9h0m0 .5h0m.2-2h0m.2 3.7h0m.1 .1h0m.2-3.3h0m0 5.2h0m.2-1.2h0m.5 .5h0m.3-.3h0m0-3.8h0m0 4.3h0m0-4.1h0m.6-.6h0m.4 .6h0m.2 0h0m.9-.6h0m11.2-.6h0m.3 1.7h0m.2-.7h0m.2-1h0m.1 1.3h0m.3 .8h0m.1-.9h0m.3 3.7h0m.3 .1h0m.2-.6h0m0-2.5h0m0 0h0m0 .1h0m.1 .5h0m.3-1.6h0m0-.9h0m.1 3.9h0m0 1.8h0m.1-3.3h0m0-1.4h0m.1 3.2h0m.2-.6h0m.1 .6h0m0-2.3h0m.1 .4h0m.1-.2h0m.2 2.7h0m.1 .8h0m.3-1.2h0m.1-3.9h0m0-.1h0m0 1.5h0m.1 .4h0m.1-2h0m0 2.3h0m0 1.5h0m.1-.6h0m.1 1.4h0m.1-.8h0m0-2.2h0m0-.1h0m.1 .4h0m0-1.5h0m0 0h0m.1 .7h0m.4 2.6h0m.3-3.6h0m.1 2.6h0m0 1.4h0m.1-2.3h0m0 1.2h0m.1-1.8h0m0-.6h0m0 4.3h0m.1-4.7h0m.1 4.1h0m.3-1.4h0m.1 1.9h0m.2 .3h0m0-3.8h0m.1 3.7h0m0-1.9h0m.2-2.5h0m.1 .5h0m.1 2h0m0 1.2h0m.3-4.6h0m.1 1.9h0m0 1.9h0m.1 .3h0m.3-1.3h0m0 3.1h0m0-3h0m.2 1.7h0m0-3.4h0m0 4.3h0m.1-3.8h0m0 4.2h0m.1-1.4h0m0 .1h0m.1-2.5h0m0-1.3h0m.1 1h0m.1 1h0m.1 3.1h0m0-5.9h0m.1 3.5h0m.3-2.6h0m.1 3.8h0m0-.3h0m.1-1.5h0m0-1.3h0m.1-1.1h0m.3 4.3h0m.1-2h0m.3-2.7h0m0 .4h0m.2 0h0m0-.4h0m.1 3.5h0m.1-.5h0m.1 .3h0m.1 .9h0m.1-2.2h0m0 3.8h0m.2-5.7h0m.3 1.5h0m.1 .4h0m.3 2.1h0m.1-3.8h0m.2 .8h0m.1 2.1h0m.1 .4h0m0 1.3h0m.2-4.2h0m.1 3.4h0m0-2.2h0m.1 1h0m.1-1.4h0m0 4.3h0m.1-2.2h0m0 1.5h0m.1-2.2h0m.1 2.6h0m.1 .2h0m.2-.9h0m0-1.9h0m0 1.7h0m0-1.8h0m.1 1.6h0m.1-3.4h0m.1 1.5h0m.1 1.1h0m.1 .3h0m.1-2.9h0m.1-.3h0m.3 2.8h0m0-2.7h0m0 4.9h0m.2-3.3h0m0 .9h0m.2-2.2h0m.2 1.9h0m0 1.5h0m.5-1.2h0m.1 1.4h0m0-3.3h0m.2 1.9h0m0 1.1h0m.4-.4h0m.3 .7h0m.5-1.6h0m.1-1.3h0m.2 1.5h0m.1 1.8h0m0-.2h0m.2-1.4h0m.1 0h0m0 1h0m.5-3.1h0m0 .5h0m.1 0h0m0 3.5h0m.2-3.9h0m.1 2.9h0m.1-3h0m0 4.3h0m.1-2.3h0m.1 1.4h0m.1-1h0m.2-.3h0m.1 1.9h0m.1-2.8h0m0 1.9h0m.3-1.6h0m.1-.1h0m.1 2.7h0m.3-3.5h0m.1 2.4h0m0-1.6h0m.3 2.8h0m.2 .1h0m30.1 .1h0m.7-.7h0m.3-.6h0m.4 1h0m.1 .1h0m.1 0h0m.8 .2h0m1.8-.7h0m.1-.5h0m.5 .6h0m.4-1.2h0m.2-1.2h0m.2 .9h0m.2-1.2h0m0 2.6h0m.2-1.2h0m0 1.2h0m0-.4h0m.1 .5h0m0-.6h0m.3-.3h0m0 .9h0m.3-4.7h0m.1 1.2h0m.1-.1h0m.1 1h0m.1-1.9h0m.2 .6h0m.3 1h0m.4-1.4h0m.1 1.5h0m.2 1.5h0m.1-3.7h0m.1 1.6h0m0 3.6h0m.1-.9h0m.1-1.5h0m0 2.6h0m0-2.4h0m0-.6h0m0-1h0m.1-1.2h0m.2 4.7h0m.5-.3h0m.1-3.2h0m.1-1.4h0m.1 .1h0m.1 2.2h0m.1 1.6h0m.3-1.5h0m.1 1.4h0m.1-.2h0m0-.4h0m.1-2.6h0m.1 2.6h0m0-2.4h0m.1 1.4h0m0-1h0m.1 4.3h0m.2-2.2h0m.2 .8h0m.2-3.1h0m.1 4.1h0m.1-1.8h0m.2 2.3h0m.5-1.4h0m.1-1.3h0m.1-1.9h0m0-1h0m.1 5.2h0m.1 .4h0m.3-3.7h0m0 .2h0m.3-2.4h0m.3 3h0m.1-2.5h0m.2 2.1h0m.4 2.5h0m0 .3h0m0-3.2h0m.6-.8h0m.1 .2h0m.4-1.4h0m.1 0h0m1.1 .5h0m.3 .8h0m.1-1.5h0m.6 2.6h0m.3-2h0m.4 4.5h0m.3-.6h0m.1-3.2h0m0 4.6h0m.3-1.3h0m.4-4.2h0m.1 .7h0m1.2-.3h0m.6 0h0m3.4 .8h0m.6-.8h0m1.1 .4h0m.2 2.9h0m-3.1 3.4h0m-1.4 .4h0m-.5 3h0m-2.5-2.8h0m-.1 0h0m-2.2 .3h0m-1 1.1h0m-.1-.5h0m-.1 .3h0m-.5-1.5h0m-.7 .7h0m-.2 3.2h0m-.2-2.2h0m-.7-1.8h0m0-.3h0m-.1 4.2h0m-.2 .2h0m-.2-2.8h0m-.4-.6h0m0-1.2h0m0 2h0m-.4 2h0m-.5 .3h0m-.1-3.3h0m-.2-1.8h0m-.2 .5h0m-.4-.4h0m-.1 3.9h0m-.1-2.4h0m-.1-.8h0m-.1 1.6h0m-.3 1.1h0m-.2-3.8h0m-.3 2h0m-.2 2.3h0m-.2 .2h0m-.1-3.8h0m-.1 1.3h0m-.1 .7h0m-.6 0h0m0 1.9h0m-.1-3.4h0m-.4 .3h0m0 1h0m-.1 .2h0m-.1-2.1h0m-1.2 .5h0m0 3.9h0m0-4.4h0m-.1 2.4h0m0-2.8h0m-.3 .7h0m-.1 .5h0m-.1-.6h0m0 2.9h0m-.2-2.7h0m-.3 1.2h0m0-.1h0m0-.2h0m-.2 1.7h0m0 1h0m-.6-2.9h0m-.1-.9h0m-.1 0h0m-.1-.3h0m-.2 3.5h0m0-2h0m0-.5h0m-.1 .1h0m-.1 1h0m0-1.3h0m0 4.1h0m-.5-1.4h0m-.1 .3h0m-.1-1.7h0m-.2 2.7h0m-.1-4.6h0m0 1.4h0m0-.6h0m-.2 0h0m-.1-.8h0m0 4.9h0m-.1-1.7h0m0 1.2h0m-.4-2.1h0m-.1-3h0m-.3 0h0m-.1 4.4h0m-.1 .5h0m-.1-4.6h0m-.1 3.2h0m-.5-.4h0m-.1-2.6h0m0 3.6h0m0 1.5h0m-.2-5.2h0m-.1 2.4h0m0-1.4h0m-.4 1.2h0m0-2.2h0m0 1.8h0m-.1 .8h0m-.1 .4h0m0-.4h0m-.1-.1h0m0-.6h0m-.2 2.6h0m-.1-4.3h0m0 3.3h0m0-3.4h0m-.2 1.8h0m-1.1-1.6h0m-.1 .7h0m-.3 3.7h0m-.2 .7h0m-.3-3.7h0m-.1 .8h0m-.1 .9h0m0-1.3h0m-.1 2.6h0m-.2 .2h0m0-3.7h0m0 1.4h0m-.1 1.7h0m-.1-1.8h0m-.3-1h0m-.3 2h0m0-.4h0m-.2-1.9h0m-.1 3.1h0m0-1.9h0m-.1-.1h0m-.5 1.2h0m-.1 .9h0m-.1-.6h0m-.1-.8h0m0-.6h0m-.2 2.4h0m-.5-.8h0m-.4-1.8h0m-.4-.5h0m-.1 2.7h0m-.3 .9h0m-.4-4h0m-8.3 4.1h0m-.6-.1h0m0-.4h0m-1.6-1.5h0m-.2 .6h0m-.3 .4h0m0 .3h0m-.5-.3h0m-.1 0h0m-6.5-4.1h0m-.2 .3h0m-.4 .5h0m-.2 1.3h0m0 .2h0m-.2-2.7h0m-.3 1.2h0m0-.6h0m0 0h0m-.3 4.9h0m-.1-3.9h0m0 2.5h0m-.1-4.3h0m-.1 .5h0m-.1 .2h0m0 4.9h0m0-.8h0m-.3-4.1h0m-.1 1.7h0m0 1.8h0m0 1h0m0-.1h0m-.2-1.9h0m0-3.1h0m-.2 1.4h0m0 4.2h0m-.1-.8h0m-.1-4h0m0 2.6h0m-.1 .3h0m0 1.8h0m0-3.7h0m-.1 .4h0m0 1.5h0m-.2-1.3h0m-.1-.4h0m-.4 .9h0m-.1-3.1h0m0 3.1h0m-.3 0h0m-.1-2.3h0m-.1 1h0m0-.1h0m-.1 2.8h0m-.1 1.2h0m-.3-5.5h0m-.1 0h0m-.1 2.2h0m0 1.1h0m-.1 2.1h0m-.1-2.1h0m0 .3h0m-.1-2.1h0m-.1-1.3h0m0 .1h0m-.1 3.7h0m0-2.6h0m-.2 .1h0m-.1 .1h0m-.1 3h0m-.1-3.2h0m0 3.6h0m-.3-.8h0m-.1-2h0m-.1 2.4h0m0-4h0m0 .7h0m-.1 1.7h0m-.2-2.3h0m-.3 4h0m-.2-.7h0m-.3-1.3h0m0-2.3h0m-.1 4h0m-.1-.2h0m-.1 1.2h0m0-2.6h0m-.1-2.1h0m0 1.7h0m-.1-1.3h0m0 0h0m-.1-1.4h0m0 3.7h0m-.2-.5h0m-.1-2.1h0m0 1.4h0m0 3.4h0m-.1-1.5h0m-.7-.6h0m0-1.4h0m-.2 3.5h0m-.2-2.2h0m-.2 1.6h0m-.1-3.1h0m-.1-.9h0m-.2 .2h0m0-1h0m-.1 3.8h0m0-2.7h0m-.2 4.2h0m0-2h0m-.1 .7h0m-.3-.4h0m-.1-1.8h0m-.1 3.2h0m-.1-5.2h0m-.1 3.1h0m-.2-.5h0m0 2.8h0m-.2-4.7h0m-.1 4.9h0m0-3.7h0m-.2 1.8h0m0-2.4h0m-.2 3.6h0m-.2-3.3h0m0-1.2h0m0 2.1h0m0 1.6h0m-.2-2h0m-.1-1.4h0m-.2 1.1h0m-.1 3.3h0m0-5h0m-.2 1.4h0m0 3.6h0m0-2.2h0m-.1 .6h0m-.4 1.9h0m-.3-2.5h0m-.3-1.4h0m0 2.7h0m-.1-1.6h0m-.1 3h0m-.1-5h0m-.1 .6h0m-.1-1.3h0m-.2 3.6h0m0-.1h0m0-3.5h0m-.1 2h0m0 1.8h0m-.6 1.8h0m-.3-1h0m-.1-1.7h0m0 .7h0m-.1-.9h0m0 2h0m0-3.1h0m0-1.8h0m-.2 3.8h0m0-.2h0m-.1 2.1h0m-.4-4.1h0m-.3-.8h0m-.1 2.4h0m-.2-.3h0m0-2.4h0m-.2 1h0m0-.3h0m0 .3h0m0 3.2h0m-.3-3.7h0m-.2 .3h0m-.5 1.7h0m-.1 2.5h0m-.1 .4h0m-.1-1.5h0m-.1 .6h0m-.1-.5h0m-.2-.9h0m-.2 .9h0m-.7-4.2h0m-.5 5.6h0m-.1-1.3h0m-.4 .3h0m-.2-4.6h0m0-.3h0m0 5.2h0m-.7-.5h0m-.1-4.2h0m-.2 5.2h0m-.1-.8h0m-.5 .2h0m-2.4 .7h0m-.4 .1h0m-.7 0h0m-.6-.2h0m-5.2-1.5h0m-.2 .8h0m-.4-1.4h0m0 .7h0m-.1 1h0m-.1-2.4h0m-.1-.7h0m-.3-.3h0m-.1 .1h0m0 1.3h0m-.1-.4h0m-.2 .7h0m0-.4h0m-.1 1.1h0m-.2 .9h0m-.1 .4h0m0-3.7h0m-.2 1.8h0m-.1 1.4h0m-.4 .7h0m-.1-3.1h0m-.3 1.9h0m-.2-2.2h0m0 .4h0m-.1 1.9h0m0-2h0m-.1 .2h0m-.1 1.8h0m-.1-2.9h0m0-.2h0m-.3 .9h0m0 2.2h0m-.1-3.4h0m-.1 .7h0m-.2 1.1h0m-.1 .7h0m0-.4h0m-.1 .9h0m0 1.5h0m-.1-2.4h0m-.1-1.2h0m-.1-.9h0m-.1 2h0m-.1 .2h0m-.3 .7h0m-.1 .2h0m0-.7h0m-.1-2.9h0m-.2 4.2h0m-.3 .5h0m-.1-.6h0m0-1.6h0m-.2-.7h0m0-.5h0m0 2.6h0m-.2-3h0m-.1 4.1h0m-.1-3h0m0 3h0m-.2-2.9h0m-.1 .9h0m-.2-1.9h0m-.2 1h0m0 1.2h0m0 1.6h0m-.1-4.5h0m-.2 3.2h0m-.1-3.7h0m-.1 1.2h0m0 2.5h0m-.1 .2h0m-.2 .3h0m-.2-.3h0m0-2h0m-.1-.4h0m-.1 2.2h0m0 1.4h0m-.1-3.4h0m0-2.4h0m-.2 .7h0m-.1 .3h0m-.1 4.3h0m-.2-4.6h0m-.1 3.9h0m-.2 .4h0m-.4-3.3h0m0-.4h0m-.3 .7h0m-.3 1.3h0m-.3-.8h0m-.1 2.8h0m-.2-3.7h0m-.1 .2h0m-.3 1.5h0m0-2.5h0m-.1 3.1h0m-.4-2.7h0m-.2 1.5h0m-.3 1.8h0m0-1.1h0m-.3 .1h0m-.1 2.1h0m-.1-4h0m-.9 3.6h0m-.1-2.4h0m-.4-1.3h0m-.1 .3h0m-.1 .8h0m-.3-2.5h0m-.3 1.4h0m-.7 1.9h0m-1.4 .4h0m-.1-1.3h0m-.1 2.6h0m-.3-2.8h0m-.4 3.3h0m0-4h0m-1.8 .5h0m-.1-.3h0m-.4 .6h0m-2 2.4h0m-.4-3h0m-.4 2.9h0m-.1 .7h0m-.2-1.8h0m-6.4 1.9h0m5.8 4h0m1.6-2.6h0m1.2 4.7h0m1.9-2.2h0m.4-.6h0m.1-.3h0m.8 3.3h0m.9-2.9h0m.9 0h0m.5 2.9h0m.3-5.8h0m.1 5h0m.2-4.4h0m0 .9h0m.2 .2h0m0-1.6h0m.3 .6h0m0 4.2h0m.1-4.4h0m.5 .9h0m.1 4.4h0m.5-2.1h0m0-2.9h0m.1 5.1h0m.7-4.7h0m.6-.7h0m.2 2.4h0m.2 2h0m.2-4h0m.1 5h0m.1-2.3h0m.1-2h0m.2 0h0m.1 1.4h0m.2 1.7h0m.2-4.5h0m.2 3h0m.1-1.2h0m0-.1h0m.1 1.3h0m.1 .3h0m0-2.6h0m.1 1.4h0m.5-1.7h0m.1 5.3h0m.2-3.6h0m.1-2h0m.1 5.5h0m.1-.6h0m.2-3h0m.4-.1h0m0 3.7h0m.1-2.7h0m.6 1.7h0m.2-3.2h0m0-1.4h0m.1 3h0m.1-3h0m0 .7h0m.1-.4h0m.2 1.4h0m0 .3h0m.1 3.4h0m0-4.9h0m.1 .6h0m.3-1.3h0m.1 5.9h0m.1-3.7h0m.1 1.4h0m.1-1.3h0m.1 2.7h0m0-.7h0m.5 1h0m0 0h0m0-1.1h0m.1-2.4h0m0 4h0m.2-.4h0m0-2.3h0m.3 .2h0m.1 1.4h0m.1-4.6h0m.2 4.8h0m.3-2.1h0m.1-1.3h0m0 2.5h0m.1-2.5h0m.1-.5h0m.4-.8h0m0 4.8h0m0-2.8h0m0 2h0m0-1.9h0m.1-.6h0m.1 3.6h0m0-.2h0m0-4.5h0m.1 4.9h0m0-1.3h0m.1-3.9h0m.2 2.8h0m0 .1h0m.2-2.9h0m.5 5h0m1.7-.7h0m.2 .9h0m1.2 .1h0m.2-.9h0m1.8 1.1h0m0-.1h0m1-.2h0m.3 .4h0m.1-1.2h0m.7-.1h0m.3-3.5h0m0 2h0m.2 1.3h0m0-1.6h0m0-1.8h0m0 2.1h0m.3 1.6h0m0-1.8h0m.1 1.8h0m.2-2.8h0m0-.4h0m.1 1.8h0m.2 1.3h0m.4-1.9h0m.2-.6h0m.1-.1h0m.1 2.1h0m.2-2h0m.4 2.8h0m0-3.5h0m.1 4.3h0m0-.8h0m.3-3.6h0m0-.4h0m.1-.2h0m0 1.2h0m0-1.6h0m.2 4.2h0m0-1.1h0m.1 1.8h0m0-2.3h0m.1-1.3h0m.2 1.7h0m0-.5h0m0 .7h0m.1-2.7h0m.3 2.6h0m.1 .2h0m0-1.6h0m.1 .4h0m0 2.2h0m.1 .4h0m0-4.2h0m.1 4h0m0-1.9h0m.3 .5h0m.3-.3h0m.2 1h0m0-3.7h0m.2 4.2h0m0-2.1h0m0-1.6h0m.1 .6h0m.1 .2h0m0-1.6h0m.1 .8h0m0 2.7h0m.2-.7h0m0 2.8h0m0-5h0m.1 4.9h0m.1-3.9h0m.1 1.1h0m0-1.2h0m.3-1.5h0m.4 1.2h0m.2 4.3h0m.2-4h0m0 .5h0m.1-1.6h0m.1 .9h0m0 2.2h0m.1-2.8h0m0 3.7h0m.3-4.1h0m.1-.3h0m.1 2.8h0m.3-.1h0m0-1.9h0m.2 .4h0m0 4.3h0m0-5.5h0m0-.1h0m.1 2.6h0m.2 1.7h0m0 .5h0m0-.9h0m.1-.4h0m.2-1.1h0m0 3.3h0m0-4.9h0m.1 1.8h0m.3 2.9h0m0-1.5h0m.3-1.7h0m0-1.7h0m.2 5.3h0m.1-2.1h0m0 .9h0m0-2.7h0m.1 1.9h0m0 1.6h0m.1-1.2h0m0 .1h0m.1-3.1h0m.2 2.4h0m0 .3h0m.3-2.7h0m.2-1.3h0m.1 5.1h0m.1-.7h0m.1-.8h0m.1-.7h0m0 .7h0m.6 .3h0m0-3.4h0m.2 2.6h0m0-.4h0m0-1.6h0m.2 2.7h0m.2-2.2h0m.1 2.1h0m.1 1.8h0m.2-.3h0m.1-2h0m.1-2h0m.1 2.5h0m.1-1.4h0m0 0h0m0-1.3h0m.1 3.3h0m0 1.1h0m0-1.3h0m.3-3h0m.2 .2h0m0 1.1h0m.1 3.1h0m.1-.4h0m.3-4.3h0m.1 .9h0m.1 1.2h0m0 2.8h0m.1-4h0m.3-1.3h0m0 1h0m.3 3.7h0m.1-.2h0m.3-2.7h0m0 2.4h0m.1 1.2h0m.1-3.1h0m0 2.9h0m.5-2.3h0m.6 1.3h0m.2-.1h0m0-1.5h0m.4-.9h0m0-1.3h0m0 .7h0m.2 2.2h0m0-3.1h0m.3 4.6h0m.2-4h0m.2 4.2h0m.1-3.2h0m.2 3.7h0m0-5.3h0m0 4.8h0m0-3h0m0-2h0m0-.4h0m.1 4.2h0m0-1h0m.1-2.2h0m.1 2.5h0m0 2.1h0m.1-5h0m.3 .2h0m.1-.8h0m.1 .3h0m.5 1.1h0m0 3.8h0m.1-2.1h0m.2-3h0m0 1.2h0m0 .9h0m.3 .6h0m0 2.6h0m.1-3.1h0m.2 .6h0m.2-.7h0m.2 3.6h0m.1-3.7h0m.2 3h0m.1-1.9h0m.1 .3h0m.1 .1h0m0 .5h0m0-1.9h0m0 .2h0m.1 1.5h0m.2-1.5h0m.2 2.7h0m0-4.5h0m0 4.4h0m0-3h0m.1-.1h0m.1-1.6h0m0 3.9h0m.1-2.7h0m0 2.3h0m.2-.4h0m.1-3.1h0m0 0h0m.1 1h0m.3 .3h0m.1-1.4h0m.1 4.9h0m.1-1.7h0m.1-1.6h0m0-1.5h0m.1 4.5h0m.3-1.8h0m.4-1.5h0m.3 .4h0m0 .4h0m.1 .5h0m.2 .5h0m.1 2.1h0m.1-5h0m.3 1h0m.4 4.2h0m.1-2.3h0m.1 1.7h0m.1 .9h0m.1-4.3h0m.1 2.9h0m0-4h0m.1 .3h0m0 2.2h0m.3-.1h0m.1-1.8h0m.2 1.2h0m.3-.2h0m0 3.2h0m.5-2.1h0m0-1.2h0m.1 2h0m.1 .4h0m.2-1.4h0m.3 .5h0m0 .1h0m.3-1.7h0m0 2.9h0m0-1.2h0m.2-1.8h0m.2 3.3h0m0-3.5h0m.5 4.2h0m.1-2.5h0m0 1.4h0m.2-2.2h0m.7-.2h0m.1 3.2h0m.1-3.9h0m0 2.8h0m.1-1h0m.2 .6h0m.4 .6h0m0 .9h0m0-2.1h0m.1 2h0m.2-.4h0m.1 .6h0m.2-4.1h0m.2 4.2h0m0-1.9h0m.2-1.1h0m.2 1.9h0m0-2.3h0m.2-.1h0m.1 .1h0m0 1.4h0m0-1.6h0m.2 2.2h0m0 1.2h0m.1-2.2h0m.1 2.2h0m.3-.3h0m.1-1.6h0m.1 1.9h0m.2-1.8h0m.1-1.6h0m0 2.2h0m0-1.4h0m.1 2.7h0m.1-4.3h0m.2 1.9h0m.1-2.6h0m0 .8h0m0 1.7h0m0-2.8h0m.2 1.4h0m.1-1.3h0m.1 4.3h0m0-.2h0m.1 .3h0m.1-2.6h0m0-1h0m.1 4.6h0m.1-4.3h0m.3 3.8h0m.1-2.6h0m.2-2.3h0m.2-.4h0m0 .9h0m.3-.7h0m.1 2.1h0m.2 2.3h0m0-.3h0m.1-3.4h0m.1 1.8h0m.2-2.1h0m0 1.9h0m0-1.8h0m.1 4.7h0m.1-.1h0m.2-.9h0m0-3.1h0m.3-.3h0m.1 4.5h0m.3-1.3h0m.1-.9h0m0-.2h0m0 2.1h0m.1 .1h0m0-.5h0m.4-2.7h0m0 1.9h0m.1-.2h0m.1 .8h0m.1 .6h0m.1-.7h0m.4 .3h0m.3 1.1h0m.1-2.3h0m.3 1.7h0m.1-.1h0m.1-2.5h0m0 .4h0m.3 .3h0m0-1.8h0m.3 2.2h0m.2 .9h0m.1-3.2h0m.1 2.5h0m.1-1.7h0m.2 2.6h0m.1 .6h0m.1-.8h0m.2 1.2h0m0-4.6h0m.1 3h0m.1-1.3h0m.1-2h0m.3 0h0m0 .3h0m.2-.3h0m0-.4h0m0 3.8h0m.2 .1h0m0 .7h0m.1-1.1h0m.1-.8h0m.1-2.7h0m.1 4.1h0m.2-3.8h0m.1 5h0m0-1.9h0m.1-2.3h0m.2 2.6h0m.2-1h0m0 2.2h0m.4-3.2h0m0-1.5h0m.1 2.3h0m.4-.3h0m.2 .4h0m.1-2.5h0m.1 4h0m0 .2h0m.2-4.9h0m.1 5.6h0m.2-1h0m.1-2.9h0m.1 .6h0m.1 .1h0m.1-1.1h0m.1-1.2h0m0 2h0m.1 2.3h0m0-2h0m.1-2.1h0m.3 1h0m0 1h0m.2-.3h0m.2 .9h0m.1-1.7h0m.1 1.6h0m.2-2.5h0m0 2h0m0-1.1h0m.5 4h0m0-4.8h0m0-.2h0m.2 3.1h0m.2-3.3h0m0 .2h0m0 2.7h0m.4-2.9h0m.2 .4h0m.2 1.3h0m0 1.1h0m.1-1.3h0m.1-.4h0m.1 2.7h0m0 1.2h0m.1-1.6h0m.2-.6h0m0-1h0m.1 1h0m.1-1.6h0m.5-.4h0m.1-.2h0m0 2.2h0m.1-.7h0m0-.4h0m.1 3.1h0m.4-4.6h0m.5 5.2h0m.1-.3h0m.1-2h0m0-.3h0m0-.2h0m.5-.3h0m0 .7h0m.5-.9h0m.2-.6h0m.3 4.1h0m.3-3.7h0m0-.6h0m.3 4.6h0m0-5.5h0m.3 1.1h0m.3-.8h0m0-.6h0m.1 .4h0m0 3.7h0m.3-1.1h0m.2 0h0m0-1.9h0m.1 1.2h0m.2-1.5h0m.1 2.7h0m.8-.8h0m.4-2.8h0m.3 4.3h0m.7-.2h0m.2-2.4h0m.1 3.4h0m.9-1.5h0m.8-.9h0m.2 2.5h0m.7-4.6h0m.1 .9h0m.1-1.1h0m0 .4h0m.2 4.9h0m.1-.6h0m.4-4.6h0m.3 2.4h0m1.6-2.9h0m.4 3.1h0m.1 .3h0m.4-3.2h0m.8 .5h0m2-.1h0m1.6 3h0m.8 .7h0m1.5 1.6h0m2.4-1.8h0m7.9 4.7h0m-4.9 .6h0m-4.3-.1h0m-.3 1.7h0m-1.4-4h0m-1.6 2.9h0m-.3-3.3h0m-1.2 3.3h0m-1.4 .8h0m0-4.3h0m-.2 .1h0m-.6 3.5h0m-.8 .5h0m-.5 1.2h0m-4.1-3.3h0m-.6 .4h0m-.2 1.5h0m-1-4.1h0m-1.1 2.4h0m-.6 1h0m-.1-2.3h0m-1.3 3.9h0m-.6-4h0m-1.3 1.9h0m-.2 2.1h0m-.8-4.3h0m-.5 1.4h0m-.2-.6h0m-.1 2.6h0m-.7-1.3h0m-.1 2.3h0m-.6-4.6h0m0 2.8h0m-.7-1.6h0m-.1-1.6h0m-.3 1.2h0m-.4 1.9h0m-.9-2.4h0m0 1.6h0m-.4-1.5h0m-.5-.7h0m-.2 4.9h0m-.1-.5h0m-.6-4.8h0m-.1 2.5h0m0 .1h0m-.3 3h0m-.2-2.2h0m-.4-1.2h0m-.3-.2h0m-.3 0h0m-.8 2.9h0m-.3 .8h0m-.1-1.9h0m-.1-1.6h0m-.2-.2h0m-.2 3.2h0m0-3.8h0m-.1 2.5h0m-.2-3.6h0m-.1-.2h0m-1.5 1.7h0m-.3-1.5h0m-.1 2.6h0m-.3-2.3h0m-.1 .1h0m-.6 .2h0m-.1 1.8h0m-.3-2.3h0m-.3 .8h0m-.1 3.7h0m-.2 .9h0m-.2-4.9h0m0-.5h0m-.2 2.6h0m0-2.2h0m-.2 1.5h0m-.5-2.3h0m0 2.5h0m-.3 .7h0m-.1-.9h0m0 1.8h0m-.3 .4h0m0-2h0m-.2-2.1h0m-.2-.2h0m-.1 .7h0m-.6-.2h0m-.9 1.5h0m-.2-.5h0m-.4 .9h0m0 1.7h0m0-1.7h0m-.4-.6h0m-.1 2.4h0m-.4-1.7h0m-.1-1h0m-.1 .1h0m-.1 3.5h0m-.2-.6h0m-.1-3.9h0m-.2 .7h0m-.4 3.9h0m-.1-2.8h0m0-1h0m-.9 2.6h0m-.5-2.7h0m-.3 4.2h0m-.3-2.5h0m-.1-2.9h0m-.2-.2h0m0 3.6h0m-.1-2.9h0m-.3 0h0m-.3 4h0m0 .7h0m0-3.3h0m-.1-.6h0m-.1 1.5h0m-.8-.8h0m-.1 3h0m-.1-1.5h0m-.1-3.4h0m0 3.5h0m-.1-.3h0m-.1-1.5h0m0 3.5h0m0-2.5h0m-.1 1.3h0m-.2-4.2h0m-.4 2.8h0m0 1.4h0m-.1 0h0m0 .1h0m-.2-4.5h0m-.5 5.4h0m-.1-1.7h0m0-3.2h0m0 2.6h0m-.1-2.8h0m-.2 .1h0m-.3 0h0m-.1 .1h0m0 1.1h0m-.3 1.4h0m-.1-.7h0m-.3-.3h0m-.1-.6h0m-.1 0h0m0 2.5h0m-.2-2.6h0m0-.4h0m0 1h0m-.8-1.7h0m-.3 2.4h0m-.4-2.5h0m-.3 3.1h0m-.1-1.1h0m-.5 .4h0m-.4-1.4h0m0 3h0m0-1.5h0m-.2-.5h0m-.1-1.4h0m-.7 .1h0m-.8-.3h0m-.2 1.5h0m-.7 2.9h0m-.3-3h0m-.2 3.7h0m-.1-.7h0m-.1-2.3h0m-.1 1.5h0m-.4-2.4h0m-.2-.1h0m-.4-1.1h0m0 3.8h0m0-2.5h0m-.1 2.3h0m-.1-3.1h0m-.2-.3h0m-.3 1h0m-.5 2.9h0m-.1 .4h0m-.3-2h0m0 1h0m-.1-1.2h0m0 2.4h0m-.4-2.8h0m-.1 2.6h0m0-.9h0m-.1-.5h0m-.3-.4h0m-.4-.9h0m-.1 1.2h0m-.1 1.2h0m0-1.4h0m0 2.6h0m0-2.8h0m0-1.4h0m-.1-1.4h0m-.1-.2h0m-.1 4.2h0m-.1 1h0m-.2-3.1h0m-.1-.6h0m-.3-.6h0m-.5 2.8h0m-.1 .4h0m-.1 1.5h0m-.6 .2h0m-.1-1.1h0m-.1-.5h0m-.2-1.2h0m0 .5h0m-.1-1.9h0m-.3-1.5h0m0 5.5h0m-.1-3.4h0m0-.2h0m-.1 1.2h0m-.3 2.2h0m-.1-4.7h0m0 1.6h0m-.1-2.1h0m-.2 4.8h0m0-4.2h0m0 0h0m-.1-.3h0m-.2 .7h0m-.1-1h0m-.1 3h0m-.2-.9h0m0 .6h0m-.5 1.4h0m-.1 .4h0m0-4.2h0m-.1 1.1h0m0 1.7h0m-.3-.9h0m0 2.2h0m-.3-1.5h0m-.1 2h0m0-1.1h0m-.1-2.1h0m0 1.7h0m-.4 1.5h0m-.1-1.3h0m-.2-.7h0m0-1.4h0m-.1 2.5h0m0-3.8h0m0 3.7h0m-.2-1h0m0-2.8h0m0-.2h0m-.3 3.9h0m-.7-2.3h0m-.2 .4h0m-.1-1.3h0m-.1-.3h0m0 4.2h0m-.3-3h0m-.1 1.2h0m-.1-.6h0m-.2-.6h0m-.1 2.8h0m-.1-3h0m-.5-.4h0m-.1 1.3h0m-.3-.4h0m0 3.3h0m-.4-.8h0m0-3.5h0m-.3 2.5h0m0-.2h0m0-3.2h0m-.1 2.4h0m-.3-1.5h0m0 .5h0m-.2-1.3h0m-.1 1.9h0m0 1.8h0m-.3 1.6h0m0 .2h0m0-4.1h0m-.1 2.6h0m-.3-3.2h0m0 4.6h0m-.1-3.5h0m-.1-.7h0m-.4 0h0m0 3.6h0m-.3-1.4h0m0-3.1h0m0 5.3h0m0-3.2h0m-.1 1h0m0-.5h0m-.1-2.2h0m-.1 1.5h0m0-1.8h0m-.2 3.4h0m-.1-2.7h0m-.2 1.6h0m-.2-.7h0m-.5 2.5h0m0-1.1h0m-.3 1h0m-.2-1.1h0m-.1-2.5h0m-.1 2.4h0m-.1-1.8h0m-.2 2.3h0m0-.8h0m0-2.4h0m0-.8h0m0 3.9h0m-.2-.9h0m0-.8h0m-.2 .2h0m-.1-2.3h0m0 5.3h0m0-5.1h0m0 .4h0m-.1-.5h0m-.1 .6h0m-.3 5h0m-.1-.7h0m-.2-4.3h0m0 2h0m-.1-1.4h0m-.3 3.5h0m-.1-.1h0m-.2-3h0m-.1-1.2h0m-.1 1.9h0m0 3.1h0m-.3-.7h0m-.3 0h0m-.1 .5h0m0-2.2h0m0-3.1h0m-.1 4.5h0m0 1.3h0m-.2-1h0m0 .1h0m-.1-1.6h0m-.1 2h0m-.1-3h0m-.2-.9h0m0 3.5h0m0-2h0m-.2-.8h0m-.1 1.8h0m-.2-3.1h0m-.2 3.3h0m-.1-4.1h0m0 5.3h0m-.1-.8h0m-.1-2h0m0 1.4h0m0-2.8h0m-.3-.4h0m0 3.8h0m-.1-2.6h0m-.1 .5h0m0 3.1h0m-.3-1h0m-.1-1.3h0m-.1-2.9h0m-.1 4.6h0m-.2-2.9h0m-.2-1.9h0m0 5.2h0m0 0h0m-.1-3.7h0m0-1.7h0m-.2 2.2h0m0 3.6h0m0-.5h0m-.1-1.8h0m-.1-.4h0m-.1 1.1h0m-.1 .5h0m-.2 .8h0m0-5.3h0m0 5.2h0m0-2.2h0m0 1.8h0m-.2 0h0m-.1-1h0m0-1h0m0-.2h0m-.2 .6h0m-.2 .5h0m-.6 1.6h0m0-5.4h0m-.1 3.4h0m0-3.2h0m0 .1h0m-.1 .4h0m0 .5h0m0-.6h0m-.1-.5h0m-.1 3.9h0m-.2 .8h0m-.8-3.8h0m0 3.7h0m-.2-3h0m0 3.7h0m-.2-4.5h0m-.1 3.5h0m-.1 .8h0m-.2-1.7h0m-.1 .5h0m-.1 .1h0m-.1 1.4h0m0-5.2h0m-.3 .1h0m-.1 .3h0m0 1.5h0m-.1-1.7h0m0-.5h0m-.3 1.8h0m-.2-.3h0m-.4 3.7h0m-.1-1.1h0m-.4 0h0m0-3h0m-.1 3.1h0m-.1-.5h0m-.1 1.2h0m0-3.8h0m0-.1h0m-.1 1.3h0m-.1-.5h0m-.2 .8h0m0 1.7h0m-.3-1.5h0m-.3-1.3h0m0 2.4h0m-.1-2.7h0m-.2 .8h0m-.1 1.6h0m-.1 1.7h0m-.1-3.5h0m-.2-.3h0m-.3-1.2h0m0 2.5h0m-.2-.9h0m-.1 .6h0m0 1.8h0m-.2-2.4h0m0-1.3h0m-.2-.7h0m-.1 2.4h0m-.2-.2h0m-.8-1.8h0m-.1 1.5h0m0 1.6h0m-.3-2.4h0m-.1 1.5h0m-1.4-.5h0m-.1 .1h0m-.2-1.9h0m-.6 2.7h0m0 1.6h0m-1.1 .8h0m-1.7-4h0m-2.1 2h0m-1.1 1.3h0m-5-2.1h0m-6.4 3h0m-1.9-.2h0m3.1 3.9h0m4.7 2h0m3.5-5.3h0m.3 1.8h0m.5 4.1h0m1.3-2.3h0m.7 1.2h0m.9 0h0m1.1-3.8h0m1 4.6h0m.1 .3h0m.4-2.8h0m.5-3.1h0m.4 2.1h0m.2 1.8h0m.4-3h0m.2 3h0m.4 1.3h0m.5-3h0m.1 2.2h0m.5-.2h0m.7 .3h0m1.3-2.1h0m.7-2h0m.1 3.3h0m.1-3.4h0m1.4 1.5h0m.1-1.5h0m0 2h0m.1 .8h0m.2-.8h0m.2 .1h0m.5 .2h0m0-1.1h0m.3 .1h0m.7 1.3h0m0-2h0m.2 1.2h0m.4 3.3h0m.2-3.9h0m.2 1.4h0m0-1.1h0m.1 0h0m.6 3.8h0m.4-4.6h0m.6 1.5h0m0 1.3h0m.1-3h0m.1-.6h0m0 0h0m.5 3h0m.2 2.3h0m0-3.6h0m.1-1.9h0m.2 5.3h0m.1-3.8h0m.7-1.2h0m.1 1.6h0m0 3.6h0m0-1.5h0m.3-3.5h0m.6 4.1h0m0 1.2h0m0-5.6h0m.3 1.1h0m.2 4.6h0m.2-.1h0m0-2h0m0-1.9h0m0 3.3h0m.3-2.8h0m.1-2.2h0m.1 4.1h0m.3-1.5h0m0 .2h0m.1 1.7h0m.2 1h0m.3-3.2h0m0-.3h0m.2-1.2h0m.1 3.1h0m.2 0h0m.2-1.1h0m.5 1.6h0m.1 .8h0m.1-5.1h0m.2 3.2h0m.6 .8h0m.1-3.1h0m0 2.2h0m.2 1.6h0m.1-1h0m0-2.2h0m.3-.4h0m.1 3h0m0-4h0m0 3.9h0m0 .1h0m.1-3.9h0m.2 1.1h0m.2 1.2h0m.2-1.1h0m.1 .2h0m0-.6h0m0 2.6h0m0-.4h0m.3-2.8h0m.3 5.1h0m0-1.5h0m.1-2.6h0m.1 .1h0m.1 .4h0m.2 1.4h0m0-1h0m.1-.4h0m.1 3.6h0m.1-5.6h0m0 .7h0m.1 2.6h0m0-.8h0m0-.1h0m.4-2h0m.1 .3h0m.1 1.5h0m.1-.5h0m.3-1.7h0m0 3.9h0m.3-1.3h0m.5-1.4h0m0-.1h0m.5 1h0m.1 1.1h0m.1-1.1h0m0 2.7h0m.2 .6h0m.2-.3h0m0-4.4h0m.1 0h0m.1-.6h0m.1 2.8h0m.1-.6h0m.1-1.3h0m.1 .2h0m.1 3.5h0m.2-1.2h0m.3 .1h0m0-1.7h0m.3-.6h0m.3 3.5h0m.1-2h0m.1 1.1h0m.4-3.2h0m0 4.6h0m.3-2.7h0m.2-1.1h0m0-.8h0m.3 .1h0m.2-1h0m0 1.2h0m0-.3h0m.1 .4h0m.2-1h0m.3 3.5h0m0-2.3h0m.1 2.4h0m0-3.7h0m.3 3.3h0m.1 .4h0m.4 .1h0m.1-1.5h0m0 .8h0m.2-1.6h0m.4-.3h0m.2 .1h0m0 4h0m.2-.6h0m.2-3.8h0m0 .5h0m.2 .9h0m0 1.5h0m.1 1.7h0m0-4h0m.3-.4h0m.3 1.2h0m.1-.5h0m.5-1h0m.1 4.8h0m.1-.1h0m.4-5.3h0m0 1.9h0m.6-.2h0m.2 1h0m.1 .8h0m.1 .5h0m0-4h0m.8 1h0m.3-.1h0m.1-.1h0m0-.4h0m.2 1.6h0m.1-2.1h0m.4 3.2h0m.2-.4h0m0 1.3h0m.6-4h0m.2 1.9h0m.1-1h0m.2 2.1h0m.2 2h0m.4-.4h0m.4-1.1h0m0-1.3h0m.3 .7h0m0-1h0m.1 2.3h0m.1 .4h0m.1-2.8h0m0-1.8h0m.1 3.9h0m.6-3.5h0m.5 .2h0m.2 2.9h0m.4-1.7h0m.3 .9h0m.6-1.1h0m.1-1.2h0m.1 4.7h0m.3 .4h0m.3-5.2h0m0 4.6h0m.2 .1h0m.3-1.4h0m.6-.1h0m.4 1.5h0m.1-4.9h0m.6-.2h0m1.2-.2h0m.1 3h0m.3 .1h0m.2-2.1h0m.3 .5h0m.1 2.6h0m.4-2h0m.5-.6h0m.5 2.1h0m.5 1.3h0m3.5-.8h0m.1 1.1h0m.2-1.1h0m.8-3.1h0m.2-.4h0m1.2 2h0m.1-1.8h0m0 .1h0m.3-.6h0m.4 1.5h0m.3-1.8h0m.4 .8h0m.9 4.1h0m.1 .2h0m.4 0h0m.5-4.6h0m1 3.3h0m1.2-3.4h0m.4 4.7h0m.3-4.6h0m.1 2.9h0m.5-.8h0m.4-1h0m.1 .1h0m.3-1.5h0m.1 4.3h0m1.2 .7h0m0 .4h0m.3-5h0m.5-.6h0m2.4 2h0m.4-.8h0m.4 2h0m2.1-1h0m1.9-.4h0m3.6 2.1h0m1.2-2.2h0m.1 .2h0m2.2 3.6h0m1.4-5.1h0m2.2 1h0m2.2 1.8h0m.4-2.7h0m.4-.3h0m12.5 .1h0m-2 7.6h0m-23 0h0m-1.9 1.1h0m-4.1-.2h0m-8.7 2.3h0m-.3-3.4h0m-1.2-.5h0m-.1-.7h0m-4.7 .9h0m-.7 .2h0m-.3-1.7h0m-.3 3.7h0m-.1-.5h0m-.1-2.8h0m-.2 .5h0m-2.7 3.8h0m0-1.4h0m-.3-.9h0m-4.2 1.7h0m-.6 1.3h0m-.2-1.5h0m0-1.3h0m-.2 .9h0m-.2 0h0m-.7-1.9h0m-1.7 1.2h0m-1.4-2.4h0m-.3 1.2h0m-.3-1h0m-1.5 0h0m-.1 2.2h0m-.7 .4h0m-1.7 .1h0m-.2-.2h0m-.2-.7h0m-1.6 .3h0m-.2-1.5h0m-.1 1h0m-.3 1.5h0m-.7 1.5h0m-.4-.3h0m-.2-2.8h0m-.1 .1h0m0 1.3h0m-.3-1.3h0m-.2-.5h0m-.2 4.2h0m-.5-3.9h0m-.5 1.1h0m-.2 .4h0m-.4 1.6h0m-.5-.2h0m-.4-4.3h0m-.2-.2h0m-.2-.4h0m-.2 4.8h0m-.1-2.4h0m-.2 3h0m-.4-3h0m0 1.8h0m-.4 0h0m-.8-.3h0m0-3.3h0m-.1 5.2h0m-.1-3.8h0m-.2-1.7h0m-.1-.2h0m-.5 1.4h0m-.2 2.2h0m-.2 1.3h0m-.1-2.7h0m-.6 .3h0m0 2.1h0m-.3-2.3h0m-.1-.6h0m-.1 3.6h0m-.2-.7h0m-.1-3.5h0m0 2.3h0m0-1.3h0m-.3-1.1h0m-.4 4h0m-.1-3.2h0m0-.9h0m0 3.6h0m-.7 1.2h0m0-2.2h0m-.2 1.8h0m0-.1h0m0-.6h0m-.1 .3h0m-.1-1.5h0m-.1 1.4h0m0-3.1h0m-.3 4h0m-.3-2.5h0m-.6-1.5h0m-.1 1.2h0m-.1 .7h0m-.2 .2h0m0-.5h0m-.1 .8h0m0-1.5h0m-.7 .2h0m0-.4h0m0-2h0m0 1.9h0m-.1-2.1h0m-.2 4.3h0m-.3-3.5h0m-.1 1.3h0m-.8-1.5h0m-.5 .9h0m0-.1h0m-.1 .6h0m0 1.2h0m-.1-2.4h0m-.2 1.8h0m-.3 1.7h0m-.1-1.7h0m0-1.7h0m-.2 2.2h0m-.3-2.1h0m0 .2h0m-.5-1h0m0 3.7h0m-.3 .3h0m-.5-3.4h0m-.6 1.6h0m-.2-2.2h0m-.4 .3h0m-.1 1.2h0m-.9 1.3h0m-.3-2.2h0m-.7 .6h0m-.3-1.5h0m-.4 5.1h0m-.5-5h0m-.2 3.1h0m-1.1 .7h0m-.3 .9h0m-.2-5h0m-.3 1.5h0m-.1-.5h0m-.5-.2h0m-.2 1.3h0m-.2-1.1h0m-.2 1h0m0-2h0m-.3 4.6h0m-1.1-4.4h0m-.1 .5h0m-.4 3.2h0m-.7-3.4h0m-.5-.1h0m-1.5 .3h0m-.2 1.2h0m-.5 2.7h0m-.5-4.1h0m-.4 2.5h0m-9.7 6.8h0m3.1 .6h0m2.5-1.3h0m7.9-.9h0m.5 2.6h0m2.9-2.3h0m1.5 .4h0m1.5-1.5h0m1.1 2.5h0m.2-.2h0m.1-3.1h0m1.3 4.3h0m.5 .2h0m.3-.6h0m.2-2.9h0m.2-1.5h0m.3 5.2h0m0-.1h0m2.3-.3h0m.5 .2h0m.3 .1h0m1-3.5h0m.2 2.9h0m.8-3.8h0m.2 .4h0m0-.8h0m.2 .1h0m.2 2.9h0m.6 .7h0m.1-1.4h0m.1-2.5h0m.1 4.1h0m.4-3.5h0m.1 3.2h0m0 .6h0m.3-2.3h0m.5-.6h0m1 3h0m1-.6h0m.2-.2h0m.1 .3h0m.2-3.1h0m.1-.8h0m.1 1.6h0m.3-1.2h0m1.2 2.6h0m.4-2.1h0m1.5-.4h0m1.2 1.6h0m1.8-1.3h0m.8 4.5h0m.1-1.6h0m.7-3.8h0m0 3.3h0m1.4 1.8h0m.2-4.6h0m.2 1.2h0m2.4-.6h0m2 4.4h0m.3-5.7h0m1.6 3.3h0m.4-2.6h0m4.4 4.9h0m4.8-4.4h0m.4 3.2h0m.9 0h0m6.4-1.9h0m.8-2.4h0m3.8 .2h0m2.7 4.2h0m3.2-3.9h0m7.9 .6h0m7 1.3h0m.6 1.9h0m5-2.8h0m9.6-.1h0m-48.4 5.8h0m-11.7-.7h0m-1.3 .2h0m-4.5-.3h0m-2.8 1.4h0m-.1-.3h0m-.2 .1h0m-.8 3.6h0m-.7-4.1h0m-.6 4h0m-1.6-3.8h0m-1.1 0h0m-.2 0h0m-.3-1.4h0m-.6 3.7h0m-2.1-1.2h0m-1.2-1.5h0m-.2-.7h0m-1.3 .4h0m-2.7 1.8h0m-1.2 .2h0m-.4 2.9h0m-.2-5.6h0m-1.7 3.3h0m-1.1-.4h0m-.5 3h0m-1.4-1.9h0m-.4-2.5h0m-2.2 2.3h0m-.1-2.2h0m-4 2.1h0m-1.4-3h0m-4.4 .3h0m4.5 8.2h0m12.5-2.6h0m7.8-.2h0m.9 3.1h0m2.5-1.6h0m.5 1.3h0m18.5-1.5h0m-14.7 7h0m-4.3-2.7h0m-2.1 2.7h0m-1.6-1.7h0m-3 1.7h0m-6.1-2.3h0m-.8 .8h0m-.6 3.1h0m-3-1.2h0m3.2 6.7h0m17.6-.3h0" stroke="#bebebe" stroke-width="1.20" stroke-linecap="round" fill="none"/>
<path d="M41,103.0L284.8,328.6M70.9,51.2L319,324.9" stroke="#868686" stroke-width="0.75" fill="none"/>
<path d="M83.1 184 85 183.8 87 183.9 89 184.3 90.8 185 92 185.5 94 186.7 96 187.9 97.6 189 98.9 190 100 190.8 101 191.7 102 192.7 103 193.8 103.9 195 105 196.9 105.5 198 106 199.2 106.6 201 107 202.4 107.4 204 107.9 206 108.5 208 109 209.5 109.5 211 110 212.9 110.6 215 111 216.4 111.5 218 112 219.1 113 221 113.8 222 114.5 223 115.4 224 116.2 225 116.9 226 117.8 228 117.8 230 117 231.8 116.2 233 115.3 234 114.2 235 113 236 112 236.7 110 237.9 108 238.8 106 239.6 104.6 240 103 240.5 101.3 241 100 241.5 98 242.5 96 243.9 95 244.8 94 245.7 93 246.6 92 247.4 91 248.2 90 248.9 88 250 86 250.8 84 251.2 82 251.3 80 251 78 250.6 76 250 74 249.3 72 248.1 71 247.2 70.1 246 69 244.1 68.5 243 67.6 241 67 239.8 66.1 238 65 236.2 64.3 235 63 233 62 231.2 61.4 230 61 228.8 60.4 227 60 225.1 59.5 223 59 221 58.5 219 58.2 217 58.1 215 58.4 213 58.9 211 59.7 209 60.6 207 61.4 205 62 203.5 62.5 202 63 200.5 63.5 199 64 197.9 65 196 66 194.4 67 193.1 68 192 69 191 70 190.1 71 189.2 72 188.4 73 187.8 74.3 187 76 186.1 78 185.3 80 184.6 82 184.2ZM82.5 187 84 186.8 86 186.8 87.9 187 90 187.6 92 188.4 93.1 189 94.8 190 96 190.8 97 191.5 98 192.3 99 193.2 100 194.2 101 195.4 102 196.9 102.6 198 103.5 200 104 201.7 104.4 203 104.9 205 105.5 207 106 208.7 106.4 210 107 211.9 107.6 214 108 215.8 108.3 217 108.7 219 109.3 221 110 223 110.7 225 111.4 227 111.7 229 111.2 231 110 233 109.1 234 108 234.9 107 235.6 105 236.7 103 237.6 101 238.3 99.3 239 98 239.6 96 240.7 94 242 93 242.8 92 243.6 91 244.4 90 245.1 88.5 246 87 246.7 85 247.3 83 247.4 81 247.3 79.6 247 78 246.5 76.7 246 75 245 74 244.3 73 243.3 72 242 71.3 241 70.1 239 69 237.2 68.3 236 67 234 66 232.3 65.3 231 64.3 229 63.5 227 63 225.4 62.6 224 62 222 61.5 220 61.1 218 61 216 61.1 214 61.6 212 62.4 210 63 208.6 63.7 207 64.5 205 65 203.6 65.6 202 66 200.8 66.8 199 67.8 197 69 195.3 70 194.1 71 193 72 192.1 73 191.3 74 190.5 76 189.3 78 188.3 80 187.6 82 187.1ZM80.3 190 82 189.5 84 189.3 86 189.2 88 189.5 89.7 190 91 190.5 92.1 191 93.9 192 95 192.8 96 193.5 97 194.4 98 195.5 99 196.7 99.8 198 100.8 200 101.5 202 102 204 102.5 206 103 207.6 103.4 209 104 210.8 104.4 212 105 214 105.5 216 105.8 218 106 219.5 106.2 221 106.4 223 106.5 225 106.5 227 106.3 229 105.4 231 104.7 232 103.8 233 102.6 234 101 235 99.1 236 97.1 237 96 237.6 94 238.7 92 239.9 90.1 241 89 241.7 87 242.6 85.5 243 84 243.2 82 243.1 80 242.6 78.7 242 77.1 241 76 240.2 75 239.2 74 238.2 73 237 72.3 236 71.5 235 70.8 234 70.2 233 69 231.2 68.3 230 67.3 228 66.4 226 66 224.8 65.3 223 64.7 221 64.3 219 64.1 217 64.1 215 64.5 213 65 211.6 65.6 210 66.3 208 67 206.2 67.4 205 68 203.4 68.5 202 69.4 200 70 198.9 71 197.2 71.9 196 72.7 195 73.7 194 74.8 193 76 192.1 77.9 191 79 190.5ZM81.2 192 83 191.6 85 191.4 87 191.5 88.9 192 91 192.8 93 193.9 94 194.6 95 195.5 96 196.5 97 197.8 97.8 199 98.7 201 99.4 203 99.9 205 100.4 207 100.9 209 101.5 211 102 212.7 102.4 214 102.8 216 103 217.3 103.2 219 103.2 221 103.1 223 102.8 225 102.2 227 101.4 229 100 231 99 232 98 232.8 97 233.5 95 234.8 93 235.9 91 236.9 89 237.7 87 238.4 85 238.7 83 238.6 81.1 238 79.2 237 78 236.2 77 235.4 76 234.5 75 233.4 74 232.3 73 231 72.3 230 71.1 228 70 226 69.1 224 68.4 222 68 220.7 67.6 219 67.4 217 67.5 215 67.8 213 68.3 211 68.9 209 69.5 207 70 205.4 70.5 204 71 202.6 71.7 201 72.7 199 74 197.1 74.9 196 75.9 195 77 194.1 78 193.4 80 192.4ZM81.6 194 83 193.6 85 193.4 87 193.6 88.6 194 90 194.5 92 195.7 93 196.4 94 197.4 95 198.6 95.9 200 96.8 202 97.4 204 97.9 206 98.3 208 98.7 210 99 211.3 99.4 213 99.8 215 100.1 217 100.2 219 100 220.8 99.5 223 99 224.6 98.4 226 97.2 228 96.5 229 95.6 230 94.5 231 93.1 232 92 232.7 90 233.6 88 234.3 86 234.5 84 234.3 82 233.6 80.9 233 79.5 232 78.3 231 77.3 230 76.5 229 75.7 228 74.9 227 74.3 226 73.1 224 72.2 222 71.5 220 71 218 70.8 216 70.9 214 71 212.8 71.2 211 71.6 209 72 207.1 72.5 205 73 203.7 73.6 202 74.6 200 76 198 76.9 197 77.9 196 79 195.2 81 194.2ZM81.8 196 83 195.6 85 195.4 87 195.5 88.5 196 90 196.7 91.8 198 92.8 199 93.6 200 94.7 202 95.3 204 95.8 206 96 207.4 96.2 209 96.5 211 96.7 213 96.9 215 96.9 217 96.7 219 96.1 221 95.3 223 94.1 225 93.3 226 92.4 227 91.3 228 90 228.8 88 229.6 86 229.6 84 229 82.4 228 81.3 227 80.2 226 79.2 225 78.3 224 77.5 223 76.8 222 76 220.8 75.1 219 74.5 217 74.1 215 73.9 213 73.8 211 74 209 74.3 207 74.8 205 75.4 203 76 201.7 77 200 77.7 199 78.6 198 79.9 197 81 196.3ZM81.9 198 84 197.3 86 197.3 88 197.8 90 198.9 91 199.8 92 201 93 203 93.6 205 93.9 207 94 209 94 211 93.9 213 93.7 215 93.1 217 92 219 91.2 220 90 220.9 88 221.8 86 221.8 84 221.3 82 220.4 80.1 219 79.1 218 78.4 217 77.3 215 76.6 213 76.3 211 76.2 209 76.4 207 76.8 205 77.5 203 78 201.9 79 200.4 80 199.3 81 198.5ZM82.2 200 84 199.3 86 199.2 88 199.8 89.6 201 90.4 202 91.4 204 91.9 206 92 208 91.8 210 91.4 212 90.5 214 89.7 215 88.4 216 87 216.6 85 216.7 83 216.2 81.1 215 80.2 214 79.1 212 78.5 210 78.3 208 78.5 206 79 204.1 80 202.1 80.9 201 82 200.1ZM82.6 202 84 201.2 86 201.1 87.9 202 88.9 203 89.8 205 90.1 207 90 208.2 89.5 210 89 211.1 88 212.3 86.8 213 85 213.3 83.7 213 82.1 212 81.3 211 80.4 209 80.2 207 80.6 205 81.6 203.0ZM85 203 87 203.7 87.9 205 88.2 207 88 208.2 87 209.8 85 210.5 83.6 210 82.7 209 82.1 207 82.5 205 84 203.3ZM105.8 134 107 134 109 134.1 111 134.6 113 135.5 115 136.7 116.9 138 118 138.8 119 139.5 120 140.3 121 141.2 121.9 142 122.9 143 123.8 144 124.6 145 125.4 146 126.1 147 126.8 148 128 150 128.7 152 128.9 154 128.7 156 128.3 158 128 159.2 127.4 161 126.6 163 126 164.3 125.4 166 125 168 124.9 170 124.8 172 124.6 174 124.4 176 124 177.8 123.5 180 123 182 122.7 184 122.5 186 122.4 188 122.6 190 122.9 192 123.1 194 123.2 196 123.1 198 122.8 200 122.1 202 121.4 204 120.5 206 120 207.2 119.4 209 118.8 211 118.5 213 118.2 215 118 217 117.6 219 117 221 116.1 223 115 224.8 114.1 226 113.4 227 112.5 228 111.5 229 110.3 230 109 231 107.2 232 106 232.5 104 233 102 233.1 100 232.6 98.6 232 97.2 231 96.2 230 95.4 229 94.7 228 94 226.9 93 225.3 92.1 224 91.4 223 90.6 222 89.8 221 89 220 88.2 219 87.4 218 86.8 217 86 215.7 85.1 214 84.2 212 83.5 210 83 208.3 82.7 207 82.3 205 82.2 203 82.2 201 82.2 199 82.2 197 82 195 81.8 193 81.4 191 81.1 189 81 187.1 81 185 81.1 183 81.5 181 81.9 179 82.3 177 82.6 175 82.7 173 82.8 171 82.8 169 82.9 167 82.9 165 83 163 82.9 161 82.8 159 82.6 157 82.5 155 82.4 153 82.4 151 82.6 149 82.9 147 83.3 145 83.9 143 84.8 141 86 139.2 87 138.2 88 137.4 90 136.3 92 135.6 94 135.1 96 134.8 98 134.6 100 134.5 102 134.3 104 134.1ZM94.8 138 96 137.7 98 137.5 100 137.4 102 137.4 104 137.4 106 137.5 108 137.7 109.4 138 111 138.4 112.5 139 114 139.7 116 140.9 117 141.6 118 142.4 119 143.3 120 144.3 121 145.6 121.9 147 122.8 149 123.5 151 123.8 153 123.9 155 123.7 157 123.3 159 123 160.2 122.5 162 122 163.6 121.8 165 121.7 167 121.8 169 121.9 171 122 173 121.9 175 121.7 177 121.3 179 121 180.6 120.7 182 120.4 184 120.2 186 120.2 188 120.4 190 120.6 192 120.8 194 120.8 196 120.6 198 120.2 200 119.6 202 119 203.6 118.4 205 117.6 207 117 208.3 116.4 210 116 211.4 115.6 213 115.3 215 115 216.2 114.6 218 114 219.6 113.4 221 112.1 223 111.3 224 110.4 225 109.2 226 108 226.8 106 227.6 104 227.9 102 227.6 100.7 227 99.3 226 98.3 225 97.4 224 96.6 223 95.9 222 95.2 221 94.4 220 93.6 219 92.7 218 91.7 217 90.8 216 89.8 215 89 214 88.2 213 87.5 212 86.4 210 85.6 208 85 206 84.7 204 84.6 202 84.5 200 84.4 198 84.3 196 84.1 194 83.7 192 83.4 190 83.2 188 83.2 186 83.3 184 83.6 182 84 180.4 84.3 179 84.8 177 85.2 175 85.4 173 85.5 171 85.6 169 85.7 167 85.8 165 85.8 163 85.7 161 85.5 159 85.3 157 85.1 155 85 153.2 85 151.9 85.1 150 85.4 148 86 146 86.8 144 88 142.1 89 141 90 140.1 91.9 139 94 138.2ZM97.2 141 99 140.8 101 140.7 103 140.9 104.3 141 106 141.2 108 141.5 110 142 112 142.6 114 143.6 115 144.3 116 145.1 116.9 146 117.7 147 118.4 148 119 149.2 119.7 151 120 152.4 120.2 154 120.2 156 120 157.3 119.7 159 119.2 161 118.7 163 118.4 165 118.4 167 118.6 169 118.9 171 119.1 173 119.1 175 119 176.9 118.8 179 118.5 181 118.2 183 118 185 117.9 187 118 189 118.1 191 118.3 193 118.4 195 118.4 197 118 199 117.5 201 117 202.4 116.3 204 115.4 206 114.4 208 113.5 210 113 211.2 112.4 213 112 214.4 111.5 216 111 217.2 110 219 109.3 220 108.3 221 107 221.9 105 222.5 103 222.2 101 221.1 100 220.2 99 219.2 98 218.1 97 217 96 216 95 215 94 214 93 213.1 92 212.1 91 211.1 90.1 210 89.4 209 88.4 207 87.7 205 87.3 203 87 201 86.8 199 86.6 197 86.3 195 86 193 85.7 191 85.5 189 85.4 187 85.5 185 85.8 183 86.3 181 87 179 87.6 177 88 175.6 88.3 174 88.5 172 88.5 170 88.5 168 88.6 166 88.6 164 88.6 162 88.5 160 88.3 158 88.2 156 88 154 88.1 152 88.3 150 88.9 148 89.8 146 90.5 145 91.3 144 92.5 143 94 142.1 96 141.3ZM99.7 145 101 144.9 103 144.9 105 145.1 107 145.5 109 145.9 111 146.7 113 147.9 114 148.9 114.9 150 115.9 152 116.5 154 116.6 156 116.4 158 116.1 160 115.6 162 115.3 164 115.1 166 115.2 168 115.4 170 115.6 172 115.9 174 116 175.7 116 177 116 179 115.9 181 115.8 183 115.7 185 115.7 187 115.7 189 115.8 191 116 193 116 195 115.9 197 115.6 199 115 200.9 114.1 203 113 205 112 206.6 111.1 208 110.4 209 109.1 211 108 212.8 107.1 214 106 214.9 104 215.5 102.1 215 100.4 214 99 213 98 212.3 97 211.5 96 210.7 95 209.9 94 209 93 208 92.2 207 91 205 90.2 203 89.7 201 89.3 199 89 197.7 88.7 196 88.3 194 88 192.3 87.8 191 87.6 189 87.6 187 87.8 185 88 183.8 88.5 182 89 180.7 89.7 179 90.7 177 91.4 175 91.8 173 91.8 171 91.7 169 91.5 167 91.4 165 91.5 163 91.5 161 91.6 159 91.7 157 91.8 155 92 153 92.4 151 93 149.6 94 148.1 95 147 96 146.3 98 145.4ZM101.1 151 103 150.5 105 150.4 107 150.6 109 151.4 111 153 111.7 154 112.4 156 112.6 158 112.4 160 112.1 162 111.8 164 111.5 166 111.3 168 111.2 170 111.3 172 111.7 174 112.2 176 112.7 178 113 179.8 113.1 181 113.3 183 113.3 185 113.4 187 113.4 189 113.5 191 113.6 193 113.6 195 113.4 197 113 198.7 112.6 200 112 201.3 111 203 110.2 204 109.4 205 108.4 206 107.2 207 106 207.8 104 208.6 102 208.6 100 208.1 98 207.1 96.4 206 95.2 205 94.4 204 93.6 203 93 201.9 92.1 200 91.4 198 91 196.5 90.6 195 90.1 193 89.8 191 89.7 189 89.7 187 90 185.1 90.6 183 91.5 181 92.8 179 93.5 178 94.2 177 95 175.7 95.8 174 95.9 172 95.5 170 95 168.1 94.7 166 94.6 164 94.7 162 95 160.1 95.6 158 96 156.8 96.8 155 98 153.3 99 152.3 100 151.6ZM101.4 159 103 158.2 105 158.1 106.3 159 107 160.2 107.3 162 107.1 164 106.6 166 106 167.3 105 168.6 104 169.3 102 169.4 100.1 168 99 166 98.8 164 99 162.4 99.6 161 100.3 160.0ZM101.2 176 103 175.5 105 175.8 107 177 108 177.9 108.9 179 110 181 110.5 183 110.9 185 111 186.5 111.1 188 111.2 190 111.2 192 111.1 194 111 195.2 110.7 197 110 198.9 109.4 200 108.7 201 107.7 202 106.4 203 105 203.7 103.8 204 102 204.1 100 203.7 98.4 203 97 202 96 201.1 95.1 200 94 198.1 93.5 197 93 195.8 92.4 194 92 192.1 91.7 190 91.7 188 92 186.1 92.7 184 93.7 182 94.5 181 95.4 180 96.5 179 97.7 178 99 177.1 101 176.1ZM101.4 180 103 180 105 180.6 106.8 182 107.5 183 108 184.1 108.5 186 108.8 188 108.9 190 108.9 192 108.7 194 108.1 196 107.1 198 106.1 199 105 199.8 103 200.5 101 200.4 99.6 200 98 199.1 97 198.2 96 197 95 195.2 94.5 194 94 192.2 93.8 191 93.7 189 93.9 187 94.6 185 96 183 97 182 98 181.2 100 180.3ZM100.8 183 102.3 183 104 183.6 105 184.4 106 186 106.6 188 106.8 190 106.7 192 106.2 194 105 196 104 196.8 102 197.4 100 197.1 98.2 196 97.4 195 96.3 193 95.8 191 95.7 189 96 187.5 96.6 186 97.3 185 98.4 184 100 183.2ZM99.8 186 101 185.7 102.6 186 103.7 187 104.6 189 104.6 191 104 193 103.2 194 102 194.6 100 194.3 99 193.6 98 192 97.7 190 98 188 98.6 187.0ZM105.3 136 107 135.4 109 135.3 111 135.5 113 135.9 115 136.3 117 136.8 119 137.5 120.4 138 122 138.7 124 139.6 126 140.8 127.8 142 129 143 130 143.9 131 144.8 132 145.8 133 146.9 134 148 134.9 149 135.8 150 136.6 151 137.4 152 138.2 153 138.9 154 139.6 155 140.3 156 141 157.1 142 158.7 142.7 160 143.8 162 144.8 164 145.6 166 146 167.3 146.3 169 146.4 171 146.2 173 145.7 175 145.1 177 144.1 179 143.3 180 142.3 181 141 181.9 139 182.9 137 183.7 135 184.6 133 185.6 131 186.4 129 186.9 127 186.9 125 186.3 123 185.3 122 184.6 121 183.7 120 182.8 119 181.8 118 180.7 117 179.5 116 178.3 115 177.1 114 176.1 113 175.2 112 174.3 111 173.5 110 172.7 109 171.9 108 171.1 107 170.2 106 169.2 105 168.1 104.1 167 103.4 166 102.3 164 101.5 162 101 160.5 100.5 159 100.1 157 99.7 155 99.5 153 99.5 151 99.6 149 99.9 147 100.2 145 100.7 143 101.4 141 102 139.6 103 138 103.9 137 105 136.2ZM106.8 139 108 138.6 110 138.4 112 138.5 114 138.8 116 139.1 118 139.5 119.8 140 121 140.3 122.6 141 124 141.7 126 142.9 127 143.6 128 144.4 129 145.3 130 146.3 131 147.4 132 148.5 133 149.7 134 150.9 134.9 152 135.7 153 136.5 154 137.2 155 137.9 156 138.6 157 139.8 159 140.8 161 141.7 163 142.5 165 143 167 143.2 169 143.2 171 143 172.3 142.6 174 142 175.3 141 176.9 140 178 139 178.8 138 179.5 136 180.7 134 181.7 132 182.7 130 183.4 128 183.7 126 183.5 124.5 183 123 182.2 122 181.5 121 180.6 120 179.7 119 178.6 118 177.6 117 176.6 116 175.6 115 174.7 114 173.9 113 173.1 112 172.3 111 171.5 110 170.7 109 169.8 108.1 169 107.2 168 106.4 167 105.2 165 104.3 163 103.7 161 103.1 159 102.6 157 102.2 155 102 153.5 101.9 152 101.8 150 102 148 102.3 146 102.8 144 103.7 142 105 140.2 106 139.4ZM108.5 142 110 141.6 112 141.4 114 141.4 116 141.4 118 141.7 119.6 142 121 142.4 122.6 143 124 143.7 126 145 127 145.8 128 146.7 129 147.7 130 148.8 131 150 131.9 151 132.7 152 133.4 153 134.2 154 134.9 155 135.6 156 136.8 158 137.9 160 138.8 162 139.5 164 139.9 166 140.1 168 140.1 170 139.7 172 139 173.6 138.1 175 137.2 176 136.1 177 135 177.8 133 178.9 131 179.8 129 180.4 127 180.5 125 180 123 179 122 178.3 121 177.5 120 176.7 119 175.8 118 175 117 174.2 116 173.4 115 172.7 114 171.9 113 171.2 112 170.4 111 169.5 110 168.5 109 167.4 108 166 107 164.1 106.5 163 106 161.1 105.5 159 105.1 157 104.7 155 104.5 153 104.4 151 104.4 149 104.8 147 105.5 145 106.9 143 108 142.2ZM112.9 144 115 143.7 117 143.6 119 143.9 121 144.3 122.7 145 124 145.7 125.9 147 127 148 128 148.9 129 150 129.9 151 130.7 152 131.5 153 132.2 154 132.8 155 134 156.9 134.7 158 135.6 160 136.4 162 137 164 137.3 166 137.4 168 137.1 170 136.4 172 135 174 134 175 133 175.7 131 176.8 129 177.4 127 177.5 125 177.1 123 176.2 121.1 175 120 174.3 119 173.6 118 172.9 117 172.3 116 171.6 115 170.8 114 170.1 113 169.3 112 168.3 111 167.3 110 166 109 164.2 108.5 163 108 161.3 107.7 160 107.3 158 107.1 156 106.9 154 106.9 152 107 150.6 107.3 149 108 147.2 108.9 146 110 145.1 112 144.2ZM114.7 146 116 145.7 118 145.6 120 145.9 122 146.6 124 147.6 125 148.3 126 149.1 127 150 127.9 151 128.8 152 129.6 153 130.4 154 131.1 155 132 156.5 132.8 158 133.7 160 134.4 162 134.8 164 135 166 134.9 168 134.3 170 133.1 172 132.1 173 131 173.8 129 174.6 127 174.8 125 174.6 123.3 174 122 173.4 120 172.4 118 171.2 116.2 170 115 169.1 114 168.2 113 167.3 112 166.1 111.2 165 110.2 163 109.6 161 109.2 159 109 157.1 108.9 155 109 153.1 109.4 151 110 149.5 111 148 112 147.2 114 146.2ZM115.2 148 117 147.6 119 147.5 121 148 123 148.8 124.8 150 126 151 127 152 127.9 153 128.7 154 129.5 155 130.7 157 131.7 159 132.4 161 132.8 163 133 165 132.8 167 132.2 169 131 170.7 130 171.5 128 172.4 126 172.6 124 172.3 122 171.7 120.6 171 119 170.2 117.1 169 116 168.2 115 167.3 114 166.3 113 165.1 112.3 164 111.4 162 111 160.4 110.7 159 110.5 157 110.6 155 110.9 153 111.7 151 112.4 150 113.4 149 115 148.1ZM115.5 150 117 149.4 119 149.3 121 149.6 123 150.5 125 151.9 126 152.8 127 153.9 127.9 155 128.6 156 129.7 158 130.6 160 131 161.6 131.2 163 131.2 165 131 166.3 130.3 168 129.5 169 128.2 170 127 170.5 125 170.7 123 170.4 121.8 170 120 169.2 118 168.1 117 167.4 116 166.5 115 165.5 114 164.2 113.3 163 112.5 161 112.1 159 112 157 112.2 155 112.8 153 114 151.1 115 150.3ZM118 151 120 151 122 151.6 124 152.8 125 153.6 126 154.6 127 155.8 127.8 157 128.8 159 129.5 161 129.7 163 129.6 165 129 166.5 128 167.8 127 168.5 125 169 123 168.9 121 168.3 119 167.3 118 166.6 117 165.8 116 164.7 115 163.4 114.3 162 113.6 160 113.4 158 113.5 156 114 154.3 114.7 153 115.7 152 117 151.3ZM117.3 153 119 152.5 121 152.7 123 153.6 124 154.4 125 155.3 126 156.4 127 157.9 127.9 160 128.3 162 128.2 164 127.2 166 126 167 124 167.5 122 167.2 120 166.4 118 165.1 117 164.1 116.2 163 115.2 161 114.8 159 114.8 157 115.4 155 117 153.2ZM117.3 155 119 154.1 121 154.2 122.8 155 124 155.9 125 157 125.7 158 126.6 160 127 162 126.6 164 125 165.7 123.7 166 122 165.9 120 165.1 119 164.4 118 163.5 117 162.1 116.5 161 116 159 116.2 157 117 155.3ZM118.6 156 120 155.5 122 155.9 123.5 157 124.4 158 125.4 160 125.6 162 125 163.6 124 164.4 122 164.6 120.5 164 119.1 163 118.3 162 117.4 160 117.3 158 118 156.5ZM119.9 157 121.2 157 123 158 123.7 159 124.4 161 124 162.4 123 163.2 121.1 163 120 162.3 119 161.1 118.5 159 119 157.7ZM119.9 159 121 158.3 122.4 159 123 160 123 161.2 122 162 120.3 161.0ZM123.3 180 124.6 180 126 180.1 128 180.3 130 180.7 131.2 181 133 181.6 135 182.4 136.1 183 137.9 184 139 184.7 140 185.4 141 186.2 142 187.1 143 188 144 189 144.9 190 145.8 191 146.5 192 147.7 194 148.6 196 149 197.5 149.3 199 149.6 201 149.8 203 149.9 205 150 206.2 150.1 208 150.2 210 150.2 212 150 213.6 149.8 215 149.5 217 149 218.7 148.5 220 148 221.2 147 222.9 146.2 224 145.4 225 144.4 226 143.2 227 142 227.9 140 229 138 229.7 136 230.4 134 230.9 132 231.4 130 231.8 128.4 232 127 232.2 125 232.4 123 232.7 121 232.9 119 233.2 117 233.2 115 232.8 113 232.1 111 231.1 109.3 230 108 229 107 228.2 106 227.2 105 226.2 104 225.2 103 224.1 102.1 223 101.4 222 100.7 221 100 219.8 99 218 98.1 216 97.2 214 96.4 212 96 210.6 95.5 209 95.1 207 94.9 205 94.9 203 95.1 201 95.6 199 96.4 197 97.8 195 98.7 194 99.8 193 101 192 102 191.1 103 190.2 104 189.3 105 188.3 106 187.4 107 186.5 108 185.6 109 184.9 110 184.2 112 183 114 182 116 181.3 118 180.7 120 180.3 122 180.1ZM117.7 184 119 183.7 121 183.4 123 183.4 125 183.6 127 184 129 184.5 130.7 185 132 185.4 133.7 186 135 186.5 136.1 187 138 188 139.5 189 140.8 190 141.9 191 142.8 192 143.5 193 144.7 195 145.6 197 146 198.7 146.2 200 146.5 202 146.7 204 146.9 206 147 207.5 147.1 209 147.2 211 147.1 213 146.8 215 146.2 217 145.3 219 144 221 143 222 142 222.9 141 223.7 140 224.4 138 225.6 136 226.6 134 227.5 132.6 228 131 228.5 129 228.9 127 229.1 125 229.2 123 229.3 121 229.4 119 229.4 117 229.3 115.6 229 114 228.6 112.6 228 111 227.1 110 226.5 109 225.7 108 224.8 107 223.8 106 222.8 105 221.6 104 220.3 103.1 219 102 217.1 101.4 216 100.5 214 100 212.8 99.4 211 99 209.4 98.7 208 98.5 206 98.6 204 99 202 99.7 200 100.8 198 101.6 197 102.4 196 103.4 195 104.3 194 105.3 193 106.2 192 107.2 191 108.2 190 109.2 189 110.4 188 111.7 187 113 186.1 115 185 117 184.2ZM119.3 187 121 186.8 123 186.8 124.8 187 126 187.2 128 187.7 130 188.3 132 189 134 189.7 136 190.6 138 191.9 139 192.7 140 193.7 141 195 142 196.8 142.5 198 143 199.7 143.3 201 143.6 203 143.8 205 144 206.7 144.1 208 144.2 210 144.1 212 143.8 214 143.1 216 142 217.9 141.1 219 140.1 220 139 220.9 138 221.6 136 222.8 134 223.9 132 224.8 130 225.4 128 225.8 126.2 226 125 226.1 123 226.1 121 226.1 119 225.9 117 225.6 115 225.1 113 224.2 111 223 110 222.2 109 221.3 108 220.3 107 219.1 106.1 218 105.5 217 104.3 215 103.4 213 102.7 211 102.2 209 102 207 102.1 205 102.5 203 103 201.7 103.8 200 105 198.2 105.9 197 106.7 196 107.6 195 108.5 194 109.4 193 110.5 192 111.6 191 112.9 190 114 189.2 116 188.1 118 187.3ZM117.5 191 119 190.5 121 190.1 123 190.1 125 190.3 127 190.7 129 191.3 131 192 133 192.8 135 193.9 136 194.6 137 195.4 138 196.6 138.9 198 139.8 200 140.4 202 140.8 204 141 205.7 141.1 207 141.2 209 141.1 211 140.7 213 140 214.6 139.2 216 138.3 217 137.3 218 136 219 135 219.7 133 220.9 131 221.8 129 222.5 127 223 125 223.2 123 223.3 121 223.2 119.5 223 118 222.7 116 222.1 114 221.2 112.1 220 111 219.1 110 218.1 109.1 217 108.3 216 107.1 214 106.2 212 105.6 210 105.3 208 105.3 206 105.6 204 106 202.8 106.8 201 108 199 108.7 198 109.5 197 110.4 196 111.4 195 112.5 194 113.8 193 115 192.2 117 191.2ZM118.2 194 120 193.5 122 193.2 124 193.3 126 193.6 127.5 194 129 194.5 130.4 195 132 195.8 133.8 197 134.9 198 135.7 199 136.9 201 137.6 203 138 204.9 138.2 207 138.2 209 137.8 211 137 213 136 214.6 135 215.8 134 216.7 133 217.5 132 218.1 130.5 219 129 219.7 127 220.3 125 220.7 123 220.8 121 220.7 119 220.3 117.8 220 116 219.3 114 218 113 217.2 112 216.3 111 215.1 110.3 214 109.2 212 108.6 210 108.2 208 108.3 206 108.7 204 109.4 202 110.6 200 111.4 199 112.2 198 113.3 197 114.5 196 116 195 118 194.1ZM118.1 197 120 196.4 122 196.1 124 196.1 126 196.4 127.8 197 129 197.5 131 198.6 132 199.4 133 200.4 134 201.8 134.6 203 135 204.3 135.3 206 135.4 208 135 209.9 134.2 212 133 213.7 132 214.8 131 215.6 130 216.3 128.8 217 127 217.8 125 218.3 123 218.5 121 218.4 119.2 218 118 217.6 116.8 217 115.3 216 114.1 215 113.3 214 112.6 213 111.6 211 111.1 209 110.9 207 111.2 205 111.9 203 113 201.1 113.9 200 114.9 199 116 198.2 118 197.0ZM119.9 199 122 198.6 124 198.6 125.9 199 128 199.8 129.8 201 130.9 202 131.6 203 132.5 205 132.7 207 132.5 209 132 210.5 131.1 212 130.3 213 129.3 214 128 214.9 126 215.8 124 216.3 122 216.4 120 216 118 215.2 116.3 214 115.4 213 114.7 212 114 210.7 113.5 209 113.4 207 113.7 205 114.7 203 115.4 202 116.3 201 117.7 200 119 199.3ZM121.2 201 123 200.8 124.6 201 126 201.4 127.2 202 128.5 203 129.3 204 130 205.4 130.3 207 130 209 129.1 211 128.2 212 127 213 125 214 123 214.3 121 214.2 119 213.4 118 212.7 117 211.6 116.1 210 115.7 208 115.9 206 116.7 204 117.5 203 118.8 202 120 201.4ZM121.9 203 124 203 126 203.8 127 204.7 127.8 206 128 207.9 127.2 210 126.3 211 125 211.9 123 212.4 121 212.1 119.2 211 118.4 210 117.8 208 118 206.4 118.7 205 119.6 204 121 203.2ZM122 205 123.7 205 125 205.7 125.8 207 125.4 209 124.4 210 123 210.5 121.1 210 120.2 209 120 207 121 205.5ZM135.3 154 137 153.5 139 153.3 141 153.7 143 154.4 144.2 155 146 155.9 147.9 157 149 157.7 150 158.4 151 159.2 152 160 153 161 153.9 162 154.7 163 155.5 164 156.2 165 157 166.3 158 168 159 169.7 159.8 171 160.8 173 161.7 175 162.5 177 163 178.5 163.5 180 164 181.4 164.6 183 165 184.3 165.5 186 165.9 188 166.2 190 166.4 192 166.6 194 166.8 196 166.9 198 166.8 200 166.6 202 166.1 204 165.5 206 165 207.3 164.3 209 163.4 211 162.3 213 161.2 215 160 216.7 159 218 158.1 219 157 220 156 220.9 155 221.8 154 222.6 153 223.4 152 224.2 151 225 150 225.7 148 226.7 146.3 227 145 227 143 226.6 141.4 226 140 225.3 138 224.1 136.3 223 135 222.1 133.2 221 132 220.2 131 219.5 130 218.8 129 217.9 128.2 217 127.3 216 126.6 215 126 213.9 125 212 124.1 210 123.2 208 122.3 206 121.4 204 120.5 202 119.6 200 119 198.6 118.4 197 118 195.3 117.8 194 117.5 192 117.4 190 117.4 188 117.5 186 117.6 184 117.9 182 118.2 180 118.5 178 118.6 176 118.6 174 118.4 172 118.2 170 118.3 168 118.8 166 120 164 120.7 163 121.6 162 122.6 161 123.6 160 124.8 159 126 158.1 127.8 157 129 156.4 131 155.6 132.5 155 134 154.4ZM133.8 159 135 158.7 137 158.4 139 158.4 141 158.5 143 159 145 159.6 147 160.6 149 161.8 150 162.5 151 163.4 152 164.4 153 165.5 154 166.9 154.7 168 155.9 170 157 171.9 158 173.9 159 176 159.8 178 160.6 180 161.3 182 162 184 162.5 186 162.8 188 163 189.6 163.1 191 163.3 193 163.5 195 163.8 197 163.9 199 163.9 201 163.6 203 163 205 162.2 207 161.2 209 160.1 211 159 212.8 158.1 214 157.4 215 156.5 216 155.5 217 154.3 218 153 218.9 152 219.6 150 220.9 148 221.9 146 222.6 144 222.7 142 222.3 140 221.5 138 220.4 136 219.3 134 218.2 132.3 217 131.1 216 130.1 215 129.3 214 128.6 213 127.5 211 126.5 209 126 207.8 125.2 206 124.4 204 123.5 202 123 200.8 122.3 199 121.5 197 121 195.1 120.6 193 120.4 191 120.3 189 120.3 187 120.5 185 120.7 183 121 181.4 121.2 180 121.6 178 121.9 176 122.2 174 122.4 172 122.9 170 123.5 168 124.6 166 125.3 165 126 164 126.9 163 128 162 129 161.2 131 160 133 159.2ZM136.5 163 138 162.9 140 163 142 163.3 144 163.8 146 164.5 148 165.6 149 166.3 150 167.1 150.9 168 151.8 169 152.6 170 153.2 171 154 172.3 155 174 155.9 176 156.9 178 157.7 180 158.5 182 159 183.5 159.4 185 159.8 187 160 188.4 160.1 190 160.2 192 160.4 194 160.5 196 160.7 198 160.8 200 160.6 202 160 204 159.2 206 158.1 208 157.4 209 156.6 210 155.8 211 154.9 212 153.7 213 152.4 214 151 214.8 149 215.7 147 216.5 145.1 217 143 217.2 141 217 139 216.5 137.6 216 136 215.3 134 214.1 133 213.3 132 212.2 131.1 211 130 209.3 129.3 208 128.3 206 127.3 204 126.4 202 125.5 200 125 198.7 124.4 197 124 195.7 123.6 194 123.2 192 123.1 190 123.1 188 123.2 186 123.5 184 123.8 182 124.2 180 124.6 178 125 176.4 125.4 175 126 173 126.8 171 127.8 169 129 167.3 130 166.1 131 165.2 132 164.5 134 163.5 136 163.1ZM136.2 168 138 167.6 140 167.5 142 167.7 143.7 168 145 168.4 146.4 169 148 169.9 149 170.7 150 171.7 151 173 151.7 174 152.9 176 153.9 178 154.8 180 155.7 182 156.4 184 156.9 186 157.2 188 157.4 190 157.5 192 157.5 194 157.5 196 157.5 198 157.4 200 157 202 156.2 204 155 205.9 154.1 207 153.1 208 152 208.8 150 210 148 210.9 146 211.5 144 211.9 142 212.1 140.3 212 139 211.8 137 211.1 135.3 210 134.1 209 133.2 208 132.4 207 131.7 206 131 205 130 203.3 129.3 202 128.2 200 127.4 198 126.7 196 126.1 194 125.8 192 125.7 190 125.7 188 125.9 186 126.2 184 126.6 182 127 180.5 127.4 179 128 177.2 128.5 176 129 174.8 130 173 130.7 172 131.5 171 132.6 170 133.9 169 135 168.4ZM137.8 172 139 171.7 141 171.5 143 171.7 145 172.3 146.2 173 147.6 174 148.6 175 149.4 176 150.2 177 151 178.4 151.9 180 152.8 182 153.6 184 154.3 186 154.7 188 154.9 190 154.9 192 154.9 194 154.7 196 154.5 198 154 200 153.2 202 152 203.8 151 204.8 150 205.6 148 206.8 146 207.6 144.2 208 142 208.2 140.5 208 139 207.6 137.6 207 136 206 135 205.1 134 204.1 133 203 132.3 202 131.6 201 130.4 199 129.5 197 129 195.7 128.5 194 128.2 192 128.1 190 128.1 188 128.4 186 128.8 184 129.4 182 130 180.3 130.5 179 131.6 177 132.3 176 133.1 175 134 174.1 135 173.3 137 172.3ZM137.8 176 139 175.5 141 175.3 143 175.5 144.4 176 146 177 147 177.9 148 179 148.8 180 150 182 151 184 151.7 186 152.2 188 152.5 190 152.5 192 152.4 194 152.1 196 151.6 198 151 199.5 150.1 201 149.2 202 148.1 203 147 203.7 145 204.5 143 204.8 141 204.7 139 204.1 137 203 136 202.2 135 201.3 134 200.2 133.1 199 132 197.1 131.5 196 131 194.7 130.6 193 130.3 191 130.3 189 130.5 187 131 185.1 131.7 183 132.7 181 134 179 134.9 178 136 177.0ZM139.4 179 141 178.7 142.7 179 144 179.5 146 181 146.9 182 147.7 183 148.8 185 149.6 187 150 188.6 150.2 190 150.3 192 150.1 194 149.6 196 149 197.4 148 199 147.1 200 146 200.8 144 201.6 142 201.8 140 201.5 138.9 201 137.3 200 136.1 199 135.2 198 134.5 197 133.4 195 132.7 193 132.4 191 132.4 189 132.8 187 133.4 185 134 183.8 135 182.2 136 181 137 180.2 139 179.1ZM139.9 182 142 182 144 182.8 145 183.6 146 184.8 146.8 186 147.6 188 148 189.6 148.1 191 148 193 147.4 195 146.3 197 145.2 198 144 198.7 142 199.1 140 198.7 138.6 198 137.3 197 136.4 196 135.7 195 135 193.5 134.6 192 134.4 190 134.7 188 135.4 186 136 184.9 137 183.7 138 182.8ZM139.4 185 141 184.6 142.6 185 144 185.9 144.9 187 145.8 189 146.1 191 145.8 193 145 194.7 144 195.7 142 196.5 140 196.2 138.3 195 137.5 194 136.6 192 136.4 190 136.8 188 138 186 139 185.2ZM139.3 188 141 187.1 142.9 188 143.6 189 144 190.2 144 191.5 143.4 193 142.1 194 140.8 194 139.3 193 138.4 191 138.6 189.0ZM131.6 169 133 168.6 135 168.3 137 168.4 139 168.7 140.3 169 142 169.4 144 170 146 170.4 148 170.8 149.6 171 151 171.2 153 171.8 155 172.9 156 173.6 157 174.7 158 176 159 178 159.7 180 160.2 182 160.6 184 161 185.8 161.3 187 161.7 189 162 190.7 162.3 192 162.6 194 162.7 196 162.6 198 162.4 200 162 201.7 161.7 203 161 204.8 160.6 206 160 207.2 159.1 209 158 211 157 212.6 156 213.9 155.1 215 154.2 216 153.1 217 152 218 151 218.9 150 219.7 149 220.5 148 221.2 147 222 145.3 223 144 223.7 142 224.4 140 224.8 138 224.9 136 224.9 134 224.9 132 224.9 130 224.9 128 224.7 126 224.2 124 223.3 122 222 121 221.1 120 220.1 119.1 219 118.3 218 117.6 217 116.8 216 116.1 215 115.4 214 114.6 213 113.9 212 113.2 211 112 209 111.1 207 110.5 205 110.2 203 110.1 201 110.1 199 110.4 197 110.7 195 111 193.7 111.4 192 112 190 112.7 188 113.8 186 115 184.2 116 183 116.8 182 117.7 181 118.5 180 119.4 179 120.3 178 121.2 177 122 176.1 123 175 124 174 125 173.1 126 172.3 127 171.5 128 170.8 129.3 170 131 169.2ZM132.1 172 134 171.5 136 171.3 138 171.5 140 171.9 142 172.4 143.8 173 145 173.4 146.9 174 149 174.7 151 175.5 153 176.7 154 177.6 155 178.6 156 180 157 182 157.8 184 158.4 186 158.9 188 159.4 190 159.8 192 160 193.4 160.1 195 160.2 197 160 198.5 159.8 200 159.3 202 158.6 204 158 205.3 157.2 207 156 209 155 210.6 154 211.9 153.1 213 152.2 214 151.2 215 150.1 216 149 217 148 217.9 147 218.7 146 219.4 144 220.6 142 221.4 140 221.8 138 221.9 136 221.8 134 221.6 132 221.3 130.4 221 129 220.8 127 220.2 125 219.3 123.1 218 122 217 121.1 216 120.2 215 119.5 214 118.7 213 117.9 212 117.2 211 116.4 210 115.7 209 115 207.8 114 206 113.3 204 113 202.7 112.8 201 112.7 199 112.8 197 113 195.8 113.3 194 113.9 192 114.6 190 115.6 188 117 186 117.8 185 118.6 184 119.4 183 120.3 182 121.2 181 122 180 122.9 179 123.8 178 124.8 177 125.8 176 127 175 128 174.2 129 173.5 131 172.4ZM133 175 135 174.6 137 174.5 139 174.7 141 175.2 143 175.8 145 176.5 146.2 177 148 177.9 149.9 179 151 179.8 152 180.7 153 181.9 153.8 183 154.9 185 155.8 187 156.5 189 157 190.9 157.4 193 157.6 195 157.6 197 157.4 199 157 200.6 156.6 202 156 203.6 155.4 205 154.2 207 153 208.9 152.1 210 151.3 211 150.4 212 149.4 213 148.3 214 147.2 215 146 215.9 145 216.7 143 217.8 141 218.6 139 218.9 137 218.9 135 218.6 133 218.2 131 217.7 129 217 127 216.1 125.3 215 124.1 214 123 213 122.1 212 121.3 211 120.5 210 119.7 209 119 208 118.2 207 117 205 116.1 203 115.6 201 115.3 199 115.4 197 115.6 195 116 193.5 116.5 192 117 190.9 118 189 118.7 188 119.4 187 120.3 186 121.1 185 122 184 122.9 183 123.7 182 124.6 181 125.5 180 126.6 179 127.7 178 129 177 130 176.3 132 175.3ZM134.3 178 136 177.7 138 177.8 139.6 178 141 178.3 143 178.9 145 179.7 147 180.8 148 181.5 149 182.3 150 183.3 151 184.5 152 185.9 152.6 187 153.5 189 154 190.3 154.5 192 154.9 194 155 196 154.9 198 154.6 200 154 201.9 153.6 203 153 204.2 152 206 151.3 207 150.6 208 149.8 209 148.8 210 147.8 211 146.7 212 145.4 213 144 214 142 215 140 215.6 138 215.8 136 215.7 134 215.4 132.7 215 131 214.4 129 213.5 127 212.2 126 211.4 125 210.4 124 209.4 123 208.2 122 207 121.3 206 120.6 205 119.4 203 118.6 201 118.1 199 118.1 197 118.3 195 118.9 193 119.8 191 121 189.2 121.9 188 122.7 187 123.6 186 124.5 185 125.4 184 126.3 183 127.4 182 128.5 181 129.8 180 131 179.2 133 178.3ZM136.2 181 138 181 140 181.2 142 181.7 144 182.5 146 183.8 147 184.6 148 185.6 149 186.8 149.8 188 150.9 190 151.7 192 152 193.3 152.3 195 152.4 197 152.2 199 151.7 201 151 202.9 150.5 204 149.2 206 148.4 207 147.5 208 146.5 209 145.2 210 144 210.9 142 211.9 140 212.6 138 212.9 136 212.8 134 212.4 132 211.6 130.7 211 129.1 210 128 209.1 127 208.2 126 207.2 125 206 124.2 205 123.5 204 122.2 202 121.4 200 121 198.2 120.9 197 121.1 195 121.8 193 122.9 191 123.6 190 124.3 189 125.2 188 126.1 187 127 186.1 128 185.1 129 184.2 130 183.4 131 182.7 132.4 182 134 181.4 136 181.0ZM133.2 185 135 184.4 137 184.1 139 184.2 141 184.6 143 185.5 145 186.8 146 187.7 147 188.9 147.8 190 148.8 192 149.5 194 149.8 196 149.9 198 149.5 200 149 201.7 148.4 203 147.1 205 146.3 206 145.2 207 144 208 142.2 209 141 209.5 139 210 137 210.1 135 209.7 133 209 131.1 208 130 207.2 129 206.3 128 205.3 127 204.1 126.1 203 125 201.1 124.5 200 124 198.2 123.9 196 124.4 194 125 192.7 126 191.1 126.8 190 127.7 189 128.8 188 129.9 187 131 186.2 133 185.1ZM133.5 188 135 187.5 137 187.1 139 187.2 141 187.8 143 188.9 144 189.7 145 190.7 145.9 192 146.9 194 147.4 196 147.5 198 147.2 200 146.4 202 145.1 204 144.1 205 143 205.9 141 207 139 207.5 137 207.5 135 207.1 133 206.2 131.3 205 130.2 204 129.3 203 128.6 202 127.5 200 127 198.5 126.8 197 127 195.2 127.4 194 128 192.8 129 191.4 130 190.4 131 189.5 132 188.8ZM136 190 138 189.9 140 190.3 141.5 191 142.8 192 143.6 193 144.7 195 145.2 197 145.1 199 144.5 201 143.1 203 142 203.9 140 204.9 138 205.2 136.4 205 135 204.6 133.9 204 132.5 203 131.6 202 130.8 201 130 199.4 129.6 198 129.6 196 130 194.7 131 193 132 192 133 191.2 135 190.2ZM134.7 193 136 192.5 138 192.3 140 192.9 141 193.6 142 194.6 142.7 196 143 197.4 142.9 199 142 200.9 141 202 139 202.9 137 202.9 135 202.1 134 201.4 133 200.2 132.4 199 132 197 132.6 195 133.4 194.0ZM135.9 195 138 194.6 139.2 195 140.3 196 140.9 198 140 200 138 200.8 136 200.3 135 199.3 134.4 198 134.8 196.0Z" stroke="#0a0a0a" stroke-width="1.05" fill="none" stroke-linejoin="round"/>
<path d="M81.4 203.0h7v7h-7zM96.0 187.0h7v7h-7zM118.2 156.5h7v7h-7zM119.9 203.9h7v7h-7zM138.0 188.5h7v7h-7zM134.0 193.4h7v7h-7z" fill="#000"/>
</g>
<rect x="41.05" y="51.30" width="277.85" height="277.25" fill="none" stroke="#454545" stroke-width="1.35"/>
<path d="M51.65,328.6v4.7M91.15,328.6v4.7M130.65,328.6v4.7M170.15,328.6v4.7M209.65,328.6v4.7M249.15,328.6v4.7M288.65,328.6v4.7M41.0,318.63h-4.8M41.0,255.87h-4.8M41.0,193.10h-4.8M41.0,130.33h-4.8M41.0,67.57h-4.8" stroke="#000" stroke-width="1.15" fill="none"/>
<text transform="translate(51.65,345.0) scale(1,1.03)" text-anchor="middle" class="tk">-20</text>
<text transform="translate(91.15,345.0) scale(1,1.03)" text-anchor="middle" class="tk">0</text>
<text transform="translate(130.65,345.0) scale(1,1.03)" text-anchor="middle" class="tk">20</text>
<text transform="translate(170.15,345.0) scale(1,1.03)" text-anchor="middle" class="tk">40</text>
<text transform="translate(209.65,345.0) scale(1,1.03)" text-anchor="middle" class="tk">60</text>
<text transform="translate(249.15,345.0) scale(1,1.03)" text-anchor="middle" class="tk">80</text>
<text transform="translate(288.65,345.0) scale(1,1.03)" text-anchor="middle" class="tk">100</text>
<text transform="translate(31.9,318.63) rotate(-90) scale(1,1.03)" text-anchor="middle" class="tk">-100</text>
<text transform="translate(31.9,255.87) rotate(-90) scale(1,1.03)" text-anchor="middle" class="tk">-50</text>
<text transform="translate(31.9,193.10) rotate(-90) scale(1,1.03)" text-anchor="middle" class="tk">0</text>
<text transform="translate(31.9,130.33) rotate(-90) scale(1,1.03)" text-anchor="middle" class="tk">50</text>
<text transform="translate(31.9,67.57) rotate(-90) scale(1,1.03)" text-anchor="middle" class="tk">100</text>
<text transform="translate(133.2,359.5) scale(1,1.03)" class="ax">average dE<tspan dx="-0.4">(</tspan><tspan class="ph" dx="1.2">φ</tspan><tspan dx="-1.1"> )</tspan></text>
<text transform="translate(11.4,213.9) rotate(-90) scale(1,1.03)" class="ax"><tspan class="dl">δ</tspan><tspan dx="1.4">d</tspan><tspan dx="0.4">F</tspan><tspan dx="-0.2">(</tspan><tspan class="ph" dx="2.0">φ</tspan><tspan dx="-1.9"> )</tspan></text>
</g>
<text transform="translate(547.2,19.8) scale(1,1.03)" text-anchor="middle" class="ti">C-lobe</text>
</svg>
</body></html>
